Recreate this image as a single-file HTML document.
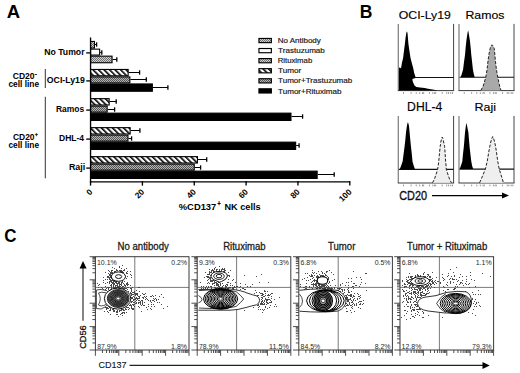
<!DOCTYPE html>
<html><head><meta charset="utf-8"><style>
html,body{margin:0;padding:0;background:#fff;width:520px;height:373px;overflow:hidden}
svg{display:block}
</style></head><body>
<svg width="520" height="373" viewBox="0 0 520 373"><defs>
<pattern id="hatch" patternUnits="userSpaceOnUse" width="3.9" height="3.9" patternTransform="rotate(-45)">
<rect width="3.9" height="3.9" fill="#fff"/><rect width="1.6" height="3.9" fill="#000"/></pattern>
<pattern id="dotL" patternUnits="userSpaceOnUse" width="2" height="2">
<rect width="2" height="2" fill="#d0d0d0"/><rect width="1" height="1" fill="#707070"/><rect x="1" y="1" width="1" height="1" fill="#707070"/></pattern>
<pattern id="dotD" patternUnits="userSpaceOnUse" width="2" height="2">
<rect width="2" height="2" fill="#b4b4b4"/><rect width="1" height="1" fill="#555"/><rect x="1" y="1" width="1" height="1" fill="#555"/></pattern>
</defs>
<text x="6.84" y="18.10" font-family="Liberation Sans" font-size="18.75" font-weight="bold" fill="#000" textLength="13.35" lengthAdjust="spacingAndGlyphs" >A</text>
<line x1="95.00" y1="44.50" x2="96.60" y2="44.50" stroke="#000" stroke-width="1.0" />
<line x1="96.60" y1="42.30" x2="96.60" y2="46.70" stroke="#000" stroke-width="1.3" />
<rect x="90.55" y="41.45" width="3.90" height="6.60" fill="url(#dotL)" stroke="#000" stroke-width="1.1" />
<line x1="100.20" y1="52.50" x2="101.80" y2="52.50" stroke="#000" stroke-width="1.0" />
<line x1="101.80" y1="50.30" x2="101.80" y2="54.70" stroke="#000" stroke-width="1.3" />
<rect x="90.55" y="49.15" width="9.10" height="5.90" fill="#fff" stroke="#000" stroke-width="1.1" />
<line x1="112.60" y1="59.50" x2="116.80" y2="59.50" stroke="#000" stroke-width="1.0" />
<line x1="116.80" y1="57.30" x2="116.80" y2="61.70" stroke="#000" stroke-width="1.3" />
<rect x="90.55" y="56.15" width="21.50" height="6.60" fill="url(#dotL)" stroke="#000" stroke-width="1.1" />
<line x1="128.70" y1="72.50" x2="139.60" y2="72.50" stroke="#000" stroke-width="1.0" />
<line x1="139.60" y1="70.30" x2="139.60" y2="74.70" stroke="#000" stroke-width="1.3" />
<rect x="90.55" y="69.45" width="37.60" height="6.35" fill="url(#hatch)" stroke="#000" stroke-width="1.1" />
<line x1="130.40" y1="79.50" x2="146.30" y2="79.50" stroke="#000" stroke-width="1.0" />
<line x1="146.30" y1="77.30" x2="146.30" y2="81.70" stroke="#000" stroke-width="1.3" />
<rect x="90.55" y="76.90" width="39.30" height="6.05" fill="url(#dotD)" stroke="#000" stroke-width="1.1" />
<line x1="152.90" y1="87.50" x2="167.90" y2="87.50" stroke="#000" stroke-width="1.0" />
<line x1="167.90" y1="85.30" x2="167.90" y2="89.70" stroke="#000" stroke-width="1.3" />
<rect x="90.55" y="83.95" width="61.80" height="7.30" fill="#000" stroke="#000" stroke-width="1.1" />
<line x1="109.70" y1="101.50" x2="116.20" y2="101.50" stroke="#000" stroke-width="1.0" />
<line x1="116.20" y1="99.30" x2="116.20" y2="103.70" stroke="#000" stroke-width="1.3" />
<rect x="90.55" y="98.65" width="18.60" height="6.35" fill="url(#hatch)" stroke="#000" stroke-width="1.1" />
<line x1="107.70" y1="109.50" x2="114.60" y2="109.50" stroke="#000" stroke-width="1.0" />
<line x1="114.60" y1="107.30" x2="114.60" y2="111.70" stroke="#000" stroke-width="1.3" />
<rect x="90.55" y="106.10" width="16.60" height="6.05" fill="url(#dotD)" stroke="#000" stroke-width="1.1" />
<line x1="291.50" y1="116.50" x2="302.60" y2="116.50" stroke="#000" stroke-width="1.0" />
<line x1="302.60" y1="114.30" x2="302.60" y2="118.70" stroke="#000" stroke-width="1.3" />
<rect x="90.55" y="113.15" width="200.40" height="7.30" fill="#000" stroke="#000" stroke-width="1.1" />
<line x1="130.70" y1="130.50" x2="139.90" y2="130.50" stroke="#000" stroke-width="1.0" />
<line x1="139.90" y1="128.30" x2="139.90" y2="132.70" stroke="#000" stroke-width="1.3" />
<rect x="90.55" y="127.65" width="39.60" height="6.35" fill="url(#hatch)" stroke="#000" stroke-width="1.1" />
<line x1="128.50" y1="138.50" x2="131.60" y2="138.50" stroke="#000" stroke-width="1.0" />
<line x1="131.60" y1="136.30" x2="131.60" y2="140.70" stroke="#000" stroke-width="1.3" />
<rect x="90.55" y="135.10" width="37.40" height="6.05" fill="url(#dotD)" stroke="#000" stroke-width="1.1" />
<line x1="296.20" y1="145.50" x2="299.10" y2="145.50" stroke="#000" stroke-width="1.0" />
<line x1="299.10" y1="143.30" x2="299.10" y2="147.70" stroke="#000" stroke-width="1.3" />
<rect x="90.55" y="142.15" width="205.10" height="7.30" fill="#000" stroke="#000" stroke-width="1.1" />
<line x1="198.00" y1="159.50" x2="206.70" y2="159.50" stroke="#000" stroke-width="1.0" />
<line x1="206.70" y1="157.30" x2="206.70" y2="161.70" stroke="#000" stroke-width="1.3" />
<rect x="90.55" y="156.65" width="106.90" height="6.35" fill="url(#hatch)" stroke="#000" stroke-width="1.1" />
<line x1="194.80" y1="167.50" x2="200.60" y2="167.50" stroke="#000" stroke-width="1.0" />
<line x1="200.60" y1="165.30" x2="200.60" y2="169.70" stroke="#000" stroke-width="1.3" />
<rect x="90.55" y="164.10" width="103.70" height="6.05" fill="url(#dotD)" stroke="#000" stroke-width="1.1" />
<line x1="317.70" y1="174.50" x2="334.20" y2="174.50" stroke="#000" stroke-width="1.0" />
<line x1="334.20" y1="172.30" x2="334.20" y2="176.70" stroke="#000" stroke-width="1.3" />
<rect x="90.55" y="171.15" width="226.60" height="7.30" fill="#000" stroke="#000" stroke-width="1.1" />
<line x1="90.55" y1="37.50" x2="90.55" y2="182.60" stroke="#000" stroke-width="1.35" />
<line x1="89.95" y1="181.80" x2="349.90" y2="181.80" stroke="#000" stroke-width="1.35" />
<line x1="90.55" y1="181.00" x2="90.55" y2="185.60" stroke="#000" stroke-width="1.35" />
<line x1="142.40" y1="181.00" x2="142.40" y2="185.60" stroke="#000" stroke-width="1.35" />
<line x1="194.25" y1="181.00" x2="194.25" y2="185.60" stroke="#000" stroke-width="1.35" />
<line x1="246.10" y1="181.00" x2="246.10" y2="185.60" stroke="#000" stroke-width="1.35" />
<line x1="297.95" y1="181.00" x2="297.95" y2="185.60" stroke="#000" stroke-width="1.35" />
<line x1="349.80" y1="181.00" x2="349.80" y2="185.60" stroke="#000" stroke-width="1.35" />
<line x1="86.20" y1="52.90" x2="90.55" y2="52.90" stroke="#000" stroke-width="1.3" />
<line x1="86.20" y1="80.90" x2="90.55" y2="80.90" stroke="#000" stroke-width="1.3" />
<line x1="86.20" y1="110.10" x2="90.55" y2="110.10" stroke="#000" stroke-width="1.3" />
<line x1="86.20" y1="139.10" x2="90.55" y2="139.10" stroke="#000" stroke-width="1.3" />
<line x1="86.20" y1="168.10" x2="90.55" y2="168.10" stroke="#000" stroke-width="1.3" />
<text x="92.95" y="192.4" font-family="Liberation Sans" font-size="8.4" font-weight="bold" text-anchor="end" transform="rotate(-45 92.95 192.4)">0</text>
<text x="144.80" y="192.4" font-family="Liberation Sans" font-size="8.4" font-weight="bold" text-anchor="end" transform="rotate(-45 144.80 192.4)">20</text>
<text x="196.65" y="192.4" font-family="Liberation Sans" font-size="8.4" font-weight="bold" text-anchor="end" transform="rotate(-45 196.65 192.4)">40</text>
<text x="248.50" y="192.4" font-family="Liberation Sans" font-size="8.4" font-weight="bold" text-anchor="end" transform="rotate(-45 248.50 192.4)">60</text>
<text x="300.35" y="192.4" font-family="Liberation Sans" font-size="8.4" font-weight="bold" text-anchor="end" transform="rotate(-45 300.35 192.4)">80</text>
<text x="352.20" y="192.4" font-family="Liberation Sans" font-size="8.4" font-weight="bold" text-anchor="end" transform="rotate(-45 352.20 192.4)">100</text>
<text x="44.23" y="55.40" font-family="Liberation Sans" font-size="8.87" font-weight="bold" fill="#000" textLength="40.30" lengthAdjust="spacingAndGlyphs" >No Tumor</text>
<text x="46.85" y="83.30" font-family="Liberation Sans" font-size="8.72" font-weight="bold" fill="#000" textLength="37.87" lengthAdjust="spacingAndGlyphs" >OCI-Ly19</text>
<text x="55.93" y="112.30" font-family="Liberation Sans" font-size="8.72" font-weight="bold" fill="#000" textLength="28.21" lengthAdjust="spacingAndGlyphs" >Ramos</text>
<text x="59.03" y="141.20" font-family="Liberation Sans" font-size="8.72" font-weight="bold" fill="#000" textLength="25.01" lengthAdjust="spacingAndGlyphs" >DHL-4</text>
<text x="68.90" y="170.30" font-family="Liberation Sans" font-size="8.43" font-weight="bold" fill="#000" textLength="16.33" lengthAdjust="spacingAndGlyphs" >Raji</text>
<text x="12.75" y="78.80" font-family="Liberation Sans" font-size="8.43" font-weight="bold" fill="#000" textLength="21.80" lengthAdjust="spacingAndGlyphs" >CD20</text>
<text x="34.59" y="75.50" font-family="Liberation Sans" font-size="7.50" font-weight="bold" fill="#000" textLength="2.62" lengthAdjust="spacingAndGlyphs" >-</text>
<text x="8.47" y="86.50" font-family="Liberation Sans" font-size="8.60" font-weight="bold" fill="#000" textLength="30.61" lengthAdjust="spacingAndGlyphs" >cell line</text>
<text x="12.95" y="140.20" font-family="Liberation Sans" font-size="8.14" font-weight="bold" fill="#000" textLength="21.59" lengthAdjust="spacingAndGlyphs" >CD20</text>
<text x="35.10" y="136.05" font-family="Liberation Sans" font-size="5.70" font-weight="bold" fill="#000" textLength="2.79" lengthAdjust="spacingAndGlyphs" stroke="#000" stroke-width="0.3">+</text>
<text x="8.47" y="148.10" font-family="Liberation Sans" font-size="8.60" font-weight="bold" fill="#000" textLength="30.61" lengthAdjust="spacingAndGlyphs" >cell line</text>
<line x1="45.30" y1="69.00" x2="45.30" y2="88.00" stroke="#333" stroke-width="1.0" />
<line x1="45.30" y1="96.80" x2="45.30" y2="178.30" stroke="#333" stroke-width="1.0" />
<text x="178.77" y="210.40" font-family="Liberation Sans" font-size="9.01" font-weight="bold" fill="#000" textLength="37.55" lengthAdjust="spacingAndGlyphs" >%CD137</text>
<text x="217.58" y="206.10" font-family="Liberation Sans" font-size="6.50" font-weight="bold" fill="#000" textLength="3.03" lengthAdjust="spacingAndGlyphs" stroke="#000" stroke-width="0.3">+</text>
<text x="224.49" y="210.40" font-family="Liberation Sans" font-size="9.01" font-weight="bold" fill="#000" textLength="36.09" lengthAdjust="spacingAndGlyphs" >NK cells</text>
<rect x="258.95" y="38.45" width="12.40" height="4.20" fill="url(#dotL)" stroke="#000" stroke-width="1.15" />
<text x="277.65" y="43.20" font-family="Liberation Sans" font-size="7.27" font-weight="normal" fill="#1a1a1a" textLength="43.17" lengthAdjust="spacingAndGlyphs" stroke="#1a1a1a" stroke-width="0.18">No Antibody</text>
<rect x="258.95" y="48.52" width="12.40" height="4.20" fill="#fff" stroke="#000" stroke-width="1.15" />
<text x="278.12" y="53.27" font-family="Liberation Sans" font-size="7.27" font-weight="normal" fill="#1a1a1a" textLength="46.72" lengthAdjust="spacingAndGlyphs" stroke="#1a1a1a" stroke-width="0.18">Trastuzumab</text>
<rect x="258.95" y="58.59" width="12.40" height="4.20" fill="url(#dotL)" stroke="#000" stroke-width="1.15" />
<text x="277.66" y="63.34" font-family="Liberation Sans" font-size="7.27" font-weight="normal" fill="#1a1a1a" textLength="34.56" lengthAdjust="spacingAndGlyphs" stroke="#1a1a1a" stroke-width="0.18">Rituximab</text>
<rect x="258.95" y="68.66" width="12.40" height="4.20" fill="url(#hatch)" stroke="#000" stroke-width="1.15" />
<text x="278.12" y="73.41" font-family="Liberation Sans" font-size="7.27" font-weight="normal" fill="#1a1a1a" textLength="23.21" lengthAdjust="spacingAndGlyphs" stroke="#1a1a1a" stroke-width="0.18">Tumor</text>
<rect x="258.95" y="78.73" width="12.40" height="4.20" fill="url(#dotD)" stroke="#000" stroke-width="1.15" />
<text x="278.12" y="83.48" font-family="Liberation Sans" font-size="7.27" font-weight="normal" fill="#1a1a1a" textLength="74.11" lengthAdjust="spacingAndGlyphs" stroke="#1a1a1a" stroke-width="0.18">Tumor+Trastuzumab</text>
<rect x="258.95" y="88.80" width="12.40" height="4.20" fill="#000" stroke="#000" stroke-width="1.15" />
<text x="278.12" y="93.55" font-family="Liberation Sans" font-size="7.27" font-weight="normal" fill="#1a1a1a" textLength="63.42" lengthAdjust="spacingAndGlyphs" stroke="#1a1a1a" stroke-width="0.18">Tumor+Rituximab</text>
<text x="359.73" y="17.90" font-family="Liberation Sans" font-size="17.88" font-weight="bold" fill="#000" textLength="12.67" lengthAdjust="spacingAndGlyphs" >B</text>
<text x="398.83" y="18.70" font-family="Liberation Sans" font-size="11.48" font-weight="normal" fill="#000" textLength="51.95" lengthAdjust="spacingAndGlyphs" stroke="#000" stroke-width="0.15">OCI-Ly19</text>
<text x="465.49" y="18.80" font-family="Liberation Sans" font-size="11.34" font-weight="normal" fill="#000" textLength="38.95" lengthAdjust="spacingAndGlyphs" stroke="#000" stroke-width="0.15">Ramos</text>
<text x="407.10" y="110.70" font-family="Liberation Sans" font-size="12.06" font-weight="normal" fill="#000" textLength="35.15" lengthAdjust="spacingAndGlyphs" stroke="#000" stroke-width="0.15">DHL-4</text>
<text x="474.48" y="110.60" font-family="Liberation Sans" font-size="11.19" font-weight="normal" fill="#000" textLength="21.46" lengthAdjust="spacingAndGlyphs" stroke="#000" stroke-width="0.15">Raji</text>
<line x1="398.30" y1="23.90" x2="398.30" y2="90.60" stroke="#858585" stroke-width="1.3" />
<line x1="453.60" y1="23.90" x2="453.60" y2="90.60" stroke="#444" stroke-width="1.0" />
<line x1="397.80" y1="90.60" x2="454.10" y2="90.60" stroke="#3a3a3a" stroke-width="1.0" />
<rect x="403.10" y="92.20" width="0.90" height="1.70" fill="#888" stroke="none" stroke-width="0" />
<rect x="410.62" y="92.20" width="0.90" height="1.70" fill="#888" stroke="none" stroke-width="0" />
<rect x="415.76" y="92.20" width="0.90" height="1.70" fill="#888" stroke="none" stroke-width="0" />
<rect x="419.25" y="92.20" width="0.90" height="1.70" fill="#888" stroke="none" stroke-width="0" />
<rect x="422.01" y="92.20" width="0.90" height="1.70" fill="#888" stroke="none" stroke-width="0" />
<rect x="423.23" y="92.20" width="0.90" height="1.70" fill="#888" stroke="none" stroke-width="0" />
<rect x="428.98" y="92.20" width="0.90" height="1.70" fill="#888" stroke="none" stroke-width="0" />
<rect x="432.41" y="92.20" width="0.90" height="1.70" fill="#888" stroke="none" stroke-width="0" />
<rect x="434.18" y="92.20" width="0.90" height="1.70" fill="#888" stroke="none" stroke-width="0" />
<rect x="435.28" y="92.20" width="0.90" height="1.70" fill="#888" stroke="none" stroke-width="0" />
<rect x="441.70" y="92.20" width="0.90" height="1.70" fill="#888" stroke="none" stroke-width="0" />
<rect x="446.29" y="92.20" width="0.90" height="1.70" fill="#888" stroke="none" stroke-width="0" />
<rect x="448.00" y="92.20" width="0.90" height="1.70" fill="#888" stroke="none" stroke-width="0" />
<rect x="450.32" y="92.20" width="0.90" height="1.70" fill="#888" stroke="none" stroke-width="0" />
<rect x="451.98" y="92.20" width="0.90" height="1.70" fill="#888" stroke="none" stroke-width="0" />
<line x1="459.00" y1="23.90" x2="459.00" y2="90.60" stroke="#858585" stroke-width="1.3" />
<line x1="514.00" y1="23.90" x2="514.00" y2="90.60" stroke="#444" stroke-width="1.0" />
<line x1="458.50" y1="90.60" x2="514.50" y2="90.60" stroke="#3a3a3a" stroke-width="1.0" />
<rect x="463.77" y="92.20" width="0.90" height="1.70" fill="#888" stroke="none" stroke-width="0" />
<rect x="471.25" y="92.20" width="0.90" height="1.70" fill="#888" stroke="none" stroke-width="0" />
<rect x="476.37" y="92.20" width="0.90" height="1.70" fill="#888" stroke="none" stroke-width="0" />
<rect x="479.83" y="92.20" width="0.90" height="1.70" fill="#888" stroke="none" stroke-width="0" />
<rect x="482.58" y="92.20" width="0.90" height="1.70" fill="#888" stroke="none" stroke-width="0" />
<rect x="483.79" y="92.20" width="0.90" height="1.70" fill="#888" stroke="none" stroke-width="0" />
<rect x="489.51" y="92.20" width="0.90" height="1.70" fill="#888" stroke="none" stroke-width="0" />
<rect x="492.92" y="92.20" width="0.90" height="1.70" fill="#888" stroke="none" stroke-width="0" />
<rect x="494.68" y="92.20" width="0.90" height="1.70" fill="#888" stroke="none" stroke-width="0" />
<rect x="495.78" y="92.20" width="0.90" height="1.70" fill="#888" stroke="none" stroke-width="0" />
<rect x="502.16" y="92.20" width="0.90" height="1.70" fill="#888" stroke="none" stroke-width="0" />
<rect x="506.73" y="92.20" width="0.90" height="1.70" fill="#888" stroke="none" stroke-width="0" />
<rect x="508.43" y="92.20" width="0.90" height="1.70" fill="#888" stroke="none" stroke-width="0" />
<rect x="510.74" y="92.20" width="0.90" height="1.70" fill="#888" stroke="none" stroke-width="0" />
<rect x="512.39" y="92.20" width="0.90" height="1.70" fill="#888" stroke="none" stroke-width="0" />
<line x1="398.30" y1="115.90" x2="398.30" y2="183.00" stroke="#858585" stroke-width="1.3" />
<line x1="453.60" y1="115.90" x2="453.60" y2="183.00" stroke="#444" stroke-width="1.0" />
<line x1="397.80" y1="183.00" x2="454.10" y2="183.00" stroke="#3a3a3a" stroke-width="1.0" />
<rect x="403.10" y="184.60" width="0.90" height="1.70" fill="#888" stroke="none" stroke-width="0" />
<rect x="410.62" y="184.60" width="0.90" height="1.70" fill="#888" stroke="none" stroke-width="0" />
<rect x="415.76" y="184.60" width="0.90" height="1.70" fill="#888" stroke="none" stroke-width="0" />
<rect x="419.25" y="184.60" width="0.90" height="1.70" fill="#888" stroke="none" stroke-width="0" />
<rect x="422.01" y="184.60" width="0.90" height="1.70" fill="#888" stroke="none" stroke-width="0" />
<rect x="423.23" y="184.60" width="0.90" height="1.70" fill="#888" stroke="none" stroke-width="0" />
<rect x="428.98" y="184.60" width="0.90" height="1.70" fill="#888" stroke="none" stroke-width="0" />
<rect x="432.41" y="184.60" width="0.90" height="1.70" fill="#888" stroke="none" stroke-width="0" />
<rect x="434.18" y="184.60" width="0.90" height="1.70" fill="#888" stroke="none" stroke-width="0" />
<rect x="435.28" y="184.60" width="0.90" height="1.70" fill="#888" stroke="none" stroke-width="0" />
<rect x="441.70" y="184.60" width="0.90" height="1.70" fill="#888" stroke="none" stroke-width="0" />
<rect x="446.29" y="184.60" width="0.90" height="1.70" fill="#888" stroke="none" stroke-width="0" />
<rect x="448.00" y="184.60" width="0.90" height="1.70" fill="#888" stroke="none" stroke-width="0" />
<rect x="450.32" y="184.60" width="0.90" height="1.70" fill="#888" stroke="none" stroke-width="0" />
<rect x="451.98" y="184.60" width="0.90" height="1.70" fill="#888" stroke="none" stroke-width="0" />
<line x1="459.00" y1="115.90" x2="459.00" y2="183.00" stroke="#858585" stroke-width="1.3" />
<line x1="514.00" y1="115.90" x2="514.00" y2="183.00" stroke="#444" stroke-width="1.0" />
<line x1="458.50" y1="183.00" x2="514.50" y2="183.00" stroke="#3a3a3a" stroke-width="1.0" />
<rect x="463.77" y="184.60" width="0.90" height="1.70" fill="#888" stroke="none" stroke-width="0" />
<rect x="471.25" y="184.60" width="0.90" height="1.70" fill="#888" stroke="none" stroke-width="0" />
<rect x="476.37" y="184.60" width="0.90" height="1.70" fill="#888" stroke="none" stroke-width="0" />
<rect x="479.83" y="184.60" width="0.90" height="1.70" fill="#888" stroke="none" stroke-width="0" />
<rect x="482.58" y="184.60" width="0.90" height="1.70" fill="#888" stroke="none" stroke-width="0" />
<rect x="483.79" y="184.60" width="0.90" height="1.70" fill="#888" stroke="none" stroke-width="0" />
<rect x="489.51" y="184.60" width="0.90" height="1.70" fill="#888" stroke="none" stroke-width="0" />
<rect x="492.92" y="184.60" width="0.90" height="1.70" fill="#888" stroke="none" stroke-width="0" />
<rect x="494.68" y="184.60" width="0.90" height="1.70" fill="#888" stroke="none" stroke-width="0" />
<rect x="495.78" y="184.60" width="0.90" height="1.70" fill="#888" stroke="none" stroke-width="0" />
<rect x="502.16" y="184.60" width="0.90" height="1.70" fill="#888" stroke="none" stroke-width="0" />
<rect x="506.73" y="184.60" width="0.90" height="1.70" fill="#888" stroke="none" stroke-width="0" />
<rect x="508.43" y="184.60" width="0.90" height="1.70" fill="#888" stroke="none" stroke-width="0" />
<rect x="510.74" y="184.60" width="0.90" height="1.70" fill="#888" stroke="none" stroke-width="0" />
<rect x="512.39" y="184.60" width="0.90" height="1.70" fill="#888" stroke="none" stroke-width="0" />
<line x1="414.00" y1="77.50" x2="453.60" y2="77.50" stroke="#111" stroke-width="1.1" />
<path d="M398.90,90.50 L398.90,67.80 L400.00,67.60 L401.00,68.50 L401.90,63.00 L403.10,57.90 L404.10,50.00 L404.90,43.70 L405.60,37.50 L406.30,33.00 L406.90,31.20 L407.50,33.00 L407.90,37.50 L408.40,43.70 L409.30,50.00 L410.50,57.90 L411.80,63.00 L413.30,68.50 L414.20,73.00 L415.50,77.00 L415.50,78.00 L412.40,79.00 L412.60,81.00 L413.50,83.20 L414.50,85.50 L416.30,86.90 L420.00,87.50 L424.60,88.00 L428.00,88.80 L431.00,89.30 L434.00,89.80 L436.60,90.20 L437.00,90.60 L398.90,90.60 Z" fill="#000"/>
<line x1="459.50" y1="77.30" x2="514.00" y2="77.30" stroke="#111" stroke-width="1.1" />
<path d="M460.60,77.30 L461.80,74.00 L463.10,69.50 L464.00,62.00 L465.00,55.00 L465.70,47.00 L466.40,40.50 L467.20,35.00 L467.70,32.00 L468.10,30.60 L468.50,32.00 L469.00,35.00 L469.90,40.50 L470.60,47.00 L471.30,55.00 L472.10,62.00 L472.90,69.50 L473.80,74.00 L474.70,77.30 Z" fill="#000"/>
<path d="M480.90,90.40 L483.20,86.00 L485.80,77.30 L487.00,70.00 L488.00,60.90 L489.00,54.00 L490.20,48.30 L491.20,45.50 L492.00,44.90 L492.80,45.50 L494.20,48.30 L494.80,54.00 L495.40,60.90 L496.50,70.00 L497.80,77.30 L499.60,86.00 L501.00,90.40 Z" fill="#a9a9a9"/>
<path d="M480.90,90.40 L483.20,86.00 L485.80,77.30 L487.00,70.00 L488.00,60.90 L489.00,54.00 L490.20,48.30 L491.20,45.50 L492.00,44.90 L492.80,45.50 L494.20,48.30 L494.80,54.00 L495.40,60.90 L496.50,70.00 L497.80,77.30 L499.60,86.00 L501.00,90.40" stroke="#222" stroke-width="1.0" stroke-dasharray="3 1.6" fill="none"/>
<line x1="398.80" y1="169.40" x2="453.60" y2="169.40" stroke="#111" stroke-width="1.1" />
<path d="M399.70,169.40 L401.00,166.00 L402.60,161.50 L403.60,154.00 L404.50,147.00 L405.30,140.00 L406.00,132.50 L406.90,126.00 L407.40,123.50 L407.90,122.30 L408.40,123.50 L409.00,126.00 L409.60,132.50 L410.30,140.00 L411.00,147.00 L411.80,154.00 L412.50,161.50 L413.80,166.00 L415.10,169.40 Z" fill="#000"/>
<path d="M432.50,182.80 L434.50,179.00 L436.50,173.00 L437.60,169.40 L438.30,165.00 L438.80,161.00 L439.50,153.00 L440.20,146.50 L441.00,141.00 L441.70,138.30 L442.20,137.10 L442.80,138.30 L443.40,141.00 L444.60,146.50 L445.10,153.00 L445.60,161.00 L446.00,165.00 L446.30,169.40 L447.80,174.00 L449.50,179.00 L451.40,182.80 Z" fill="#efefef"/>
<path d="M432.50,182.80 L434.50,179.00 L436.50,173.00 L437.60,169.40 L438.30,165.00 L438.80,161.00 L439.50,153.00 L440.20,146.50 L441.00,141.00 L441.70,138.30 L442.20,137.10 L442.80,138.30 L443.40,141.00 L444.60,146.50 L445.10,153.00 L445.60,161.00 L446.00,165.00 L446.30,169.40 L447.80,174.00 L449.50,179.00 L451.40,182.80" stroke="#222" stroke-width="1.0" stroke-dasharray="3 1.6" fill="none"/>
<line x1="459.50" y1="169.10" x2="514.00" y2="169.10" stroke="#111" stroke-width="1.1" />
<path d="M459.70,169.10 L460.80,166.00 L462.30,161.50 L463.00,154.00 L463.80,147.00 L464.40,140.00 L465.00,132.50 L465.70,127.00 L466.10,124.50 L466.40,123.10 L466.80,124.50 L467.30,127.00 L468.40,132.50 L469.00,140.00 L469.60,147.00 L470.40,154.00 L471.30,161.50 L472.20,166.00 L473.20,169.10 Z" fill="#000"/>
<path d="M479.60,182.80 L482.50,176.00 L485.40,169.10 L487.30,161.00 L488.60,153.00 L489.80,146.50 L491.00,141.00 L492.00,138.00 L492.70,136.60 L493.40,138.00 L494.40,141.00 L495.60,146.50 L496.60,153.00 L497.70,161.00 L499.20,169.10 L501.40,176.00 L503.50,182.80 Z" fill="#efefef"/>
<path d="M479.60,182.80 L482.50,176.00 L485.40,169.10 L487.30,161.00 L488.60,153.00 L489.80,146.50 L491.00,141.00 L492.00,138.00 L492.70,136.60 L493.40,138.00 L494.40,141.00 L495.60,146.50 L496.60,153.00 L497.70,161.00 L499.20,169.10 L501.40,176.00 L503.50,182.80" stroke="#222" stroke-width="1.0" stroke-dasharray="3 1.6" fill="none"/>
<text x="399.25" y="199.70" font-family="Liberation Sans" font-size="12.50" font-weight="normal" fill="#111" textLength="27.88" lengthAdjust="spacingAndGlyphs" stroke="#111" stroke-width="0.35">CD20</text>
<line x1="432.00" y1="195.50" x2="503.00" y2="195.50" stroke="#000" stroke-width="1.25" />
<path d="M502,192.6 L509,195.5 L502,198.4 Z" fill="#000"/>
<text x="4.30" y="242.10" font-family="Liberation Sans" font-size="19.04" font-weight="bold" fill="#000" textLength="12.26" lengthAdjust="spacingAndGlyphs" >C</text>
<text x="117.51" y="250.10" font-family="Liberation Sans" font-size="10.03" font-weight="normal" fill="#1a1a1a" textLength="51.31" lengthAdjust="spacingAndGlyphs" stroke="#1a1a1a" stroke-width="0.28">No antibody</text>
<line x1="134.80" y1="256.70" x2="134.80" y2="350.00" stroke="#7a7a7a" stroke-width="1.0" />
<line x1="95.40" y1="287.40" x2="189.00" y2="287.40" stroke="#7a7a7a" stroke-width="1.0" />
<line x1="95.40" y1="350.00" x2="95.40" y2="355.80" stroke="#222" stroke-width="0.8" />
<line x1="89.60" y1="350.00" x2="95.40" y2="350.00" stroke="#222" stroke-width="0.8" />
<line x1="102.44" y1="350.00" x2="102.44" y2="353.00" stroke="#222" stroke-width="0.8" />
<line x1="92.40" y1="342.96" x2="95.40" y2="342.96" stroke="#222" stroke-width="0.8" />
<line x1="106.56" y1="350.00" x2="106.56" y2="353.00" stroke="#222" stroke-width="0.8" />
<line x1="92.40" y1="338.84" x2="95.40" y2="338.84" stroke="#222" stroke-width="0.8" />
<line x1="109.49" y1="350.00" x2="109.49" y2="353.00" stroke="#222" stroke-width="0.8" />
<line x1="92.40" y1="335.91" x2="95.40" y2="335.91" stroke="#222" stroke-width="0.8" />
<line x1="111.76" y1="350.00" x2="111.76" y2="353.00" stroke="#222" stroke-width="0.8" />
<line x1="92.40" y1="333.64" x2="95.40" y2="333.64" stroke="#222" stroke-width="0.8" />
<line x1="113.61" y1="350.00" x2="113.61" y2="353.00" stroke="#222" stroke-width="0.8" />
<line x1="92.40" y1="331.79" x2="95.40" y2="331.79" stroke="#222" stroke-width="0.8" />
<line x1="115.18" y1="350.00" x2="115.18" y2="353.00" stroke="#222" stroke-width="0.8" />
<line x1="92.40" y1="330.22" x2="95.40" y2="330.22" stroke="#222" stroke-width="0.8" />
<line x1="116.53" y1="350.00" x2="116.53" y2="353.00" stroke="#222" stroke-width="0.8" />
<line x1="92.40" y1="328.87" x2="95.40" y2="328.87" stroke="#222" stroke-width="0.8" />
<line x1="117.73" y1="350.00" x2="117.73" y2="353.00" stroke="#222" stroke-width="0.8" />
<line x1="92.40" y1="327.67" x2="95.40" y2="327.67" stroke="#222" stroke-width="0.8" />
<line x1="118.80" y1="350.00" x2="118.80" y2="355.80" stroke="#222" stroke-width="0.8" />
<line x1="89.60" y1="326.60" x2="95.40" y2="326.60" stroke="#222" stroke-width="0.8" />
<line x1="125.84" y1="350.00" x2="125.84" y2="353.00" stroke="#222" stroke-width="0.8" />
<line x1="92.40" y1="319.56" x2="95.40" y2="319.56" stroke="#222" stroke-width="0.8" />
<line x1="129.96" y1="350.00" x2="129.96" y2="353.00" stroke="#222" stroke-width="0.8" />
<line x1="92.40" y1="315.44" x2="95.40" y2="315.44" stroke="#222" stroke-width="0.8" />
<line x1="132.89" y1="350.00" x2="132.89" y2="353.00" stroke="#222" stroke-width="0.8" />
<line x1="92.40" y1="312.51" x2="95.40" y2="312.51" stroke="#222" stroke-width="0.8" />
<line x1="135.16" y1="350.00" x2="135.16" y2="353.00" stroke="#222" stroke-width="0.8" />
<line x1="92.40" y1="310.24" x2="95.40" y2="310.24" stroke="#222" stroke-width="0.8" />
<line x1="137.01" y1="350.00" x2="137.01" y2="353.00" stroke="#222" stroke-width="0.8" />
<line x1="92.40" y1="308.39" x2="95.40" y2="308.39" stroke="#222" stroke-width="0.8" />
<line x1="138.58" y1="350.00" x2="138.58" y2="353.00" stroke="#222" stroke-width="0.8" />
<line x1="92.40" y1="306.82" x2="95.40" y2="306.82" stroke="#222" stroke-width="0.8" />
<line x1="139.93" y1="350.00" x2="139.93" y2="353.00" stroke="#222" stroke-width="0.8" />
<line x1="92.40" y1="305.47" x2="95.40" y2="305.47" stroke="#222" stroke-width="0.8" />
<line x1="141.13" y1="350.00" x2="141.13" y2="353.00" stroke="#222" stroke-width="0.8" />
<line x1="92.40" y1="304.27" x2="95.40" y2="304.27" stroke="#222" stroke-width="0.8" />
<line x1="142.20" y1="350.00" x2="142.20" y2="355.80" stroke="#222" stroke-width="0.8" />
<line x1="89.60" y1="303.20" x2="95.40" y2="303.20" stroke="#222" stroke-width="0.8" />
<line x1="149.24" y1="350.00" x2="149.24" y2="353.00" stroke="#222" stroke-width="0.8" />
<line x1="92.40" y1="296.16" x2="95.40" y2="296.16" stroke="#222" stroke-width="0.8" />
<line x1="153.36" y1="350.00" x2="153.36" y2="353.00" stroke="#222" stroke-width="0.8" />
<line x1="92.40" y1="292.04" x2="95.40" y2="292.04" stroke="#222" stroke-width="0.8" />
<line x1="156.29" y1="350.00" x2="156.29" y2="353.00" stroke="#222" stroke-width="0.8" />
<line x1="92.40" y1="289.11" x2="95.40" y2="289.11" stroke="#222" stroke-width="0.8" />
<line x1="158.56" y1="350.00" x2="158.56" y2="353.00" stroke="#222" stroke-width="0.8" />
<line x1="92.40" y1="286.84" x2="95.40" y2="286.84" stroke="#222" stroke-width="0.8" />
<line x1="160.41" y1="350.00" x2="160.41" y2="353.00" stroke="#222" stroke-width="0.8" />
<line x1="92.40" y1="284.99" x2="95.40" y2="284.99" stroke="#222" stroke-width="0.8" />
<line x1="161.98" y1="350.00" x2="161.98" y2="353.00" stroke="#222" stroke-width="0.8" />
<line x1="92.40" y1="283.42" x2="95.40" y2="283.42" stroke="#222" stroke-width="0.8" />
<line x1="163.33" y1="350.00" x2="163.33" y2="353.00" stroke="#222" stroke-width="0.8" />
<line x1="92.40" y1="282.07" x2="95.40" y2="282.07" stroke="#222" stroke-width="0.8" />
<line x1="164.53" y1="350.00" x2="164.53" y2="353.00" stroke="#222" stroke-width="0.8" />
<line x1="92.40" y1="280.87" x2="95.40" y2="280.87" stroke="#222" stroke-width="0.8" />
<line x1="165.60" y1="350.00" x2="165.60" y2="355.80" stroke="#222" stroke-width="0.8" />
<line x1="89.60" y1="279.80" x2="95.40" y2="279.80" stroke="#222" stroke-width="0.8" />
<line x1="172.64" y1="350.00" x2="172.64" y2="353.00" stroke="#222" stroke-width="0.8" />
<line x1="92.40" y1="272.76" x2="95.40" y2="272.76" stroke="#222" stroke-width="0.8" />
<line x1="176.76" y1="350.00" x2="176.76" y2="353.00" stroke="#222" stroke-width="0.8" />
<line x1="92.40" y1="268.64" x2="95.40" y2="268.64" stroke="#222" stroke-width="0.8" />
<line x1="179.69" y1="350.00" x2="179.69" y2="353.00" stroke="#222" stroke-width="0.8" />
<line x1="92.40" y1="265.71" x2="95.40" y2="265.71" stroke="#222" stroke-width="0.8" />
<line x1="181.96" y1="350.00" x2="181.96" y2="353.00" stroke="#222" stroke-width="0.8" />
<line x1="92.40" y1="263.44" x2="95.40" y2="263.44" stroke="#222" stroke-width="0.8" />
<line x1="183.81" y1="350.00" x2="183.81" y2="353.00" stroke="#222" stroke-width="0.8" />
<line x1="92.40" y1="261.59" x2="95.40" y2="261.59" stroke="#222" stroke-width="0.8" />
<line x1="185.38" y1="350.00" x2="185.38" y2="353.00" stroke="#222" stroke-width="0.8" />
<line x1="92.40" y1="260.02" x2="95.40" y2="260.02" stroke="#222" stroke-width="0.8" />
<line x1="186.73" y1="350.00" x2="186.73" y2="353.00" stroke="#222" stroke-width="0.8" />
<line x1="92.40" y1="258.67" x2="95.40" y2="258.67" stroke="#222" stroke-width="0.8" />
<line x1="187.93" y1="350.00" x2="187.93" y2="353.00" stroke="#222" stroke-width="0.8" />
<line x1="92.40" y1="257.47" x2="95.40" y2="257.47" stroke="#222" stroke-width="0.8" />
<line x1="189.00" y1="350.00" x2="189.00" y2="355.80" stroke="#222" stroke-width="0.8" />
<line x1="89.60" y1="256.70" x2="95.40" y2="256.70" stroke="#222" stroke-width="0.8" />
<text x="96.97" y="264.80" font-family="Liberation Sans" font-size="7.56" font-weight="normal" fill="#2a2a2a" textLength="19.78" lengthAdjust="spacingAndGlyphs" >10.1%</text>
<text x="171.33" y="264.80" font-family="Liberation Sans" font-size="7.56" font-weight="normal" fill="#2a2a2a" textLength="15.72" lengthAdjust="spacingAndGlyphs" >0.2%</text>
<text x="97.20" y="348.70" font-family="Liberation Sans" font-size="7.56" font-weight="normal" fill="#2a2a2a" textLength="19.55" lengthAdjust="spacingAndGlyphs" >87.9%</text>
<text x="171.07" y="348.70" font-family="Liberation Sans" font-size="7.56" font-weight="normal" fill="#2a2a2a" textLength="15.98" lengthAdjust="spacingAndGlyphs" >1.8%</text>
<text x="223.22" y="250.10" font-family="Liberation Sans" font-size="10.03" font-weight="normal" fill="#1a1a1a" textLength="42.38" lengthAdjust="spacingAndGlyphs" stroke="#1a1a1a" stroke-width="0.28">Rituximab</text>
<line x1="236.60" y1="256.70" x2="236.60" y2="350.00" stroke="#7a7a7a" stroke-width="1.0" />
<line x1="197.20" y1="287.40" x2="290.80" y2="287.40" stroke="#7a7a7a" stroke-width="1.0" />
<line x1="197.20" y1="350.00" x2="197.20" y2="355.80" stroke="#222" stroke-width="0.8" />
<line x1="191.40" y1="350.00" x2="197.20" y2="350.00" stroke="#222" stroke-width="0.8" />
<line x1="204.24" y1="350.00" x2="204.24" y2="353.00" stroke="#222" stroke-width="0.8" />
<line x1="194.20" y1="342.96" x2="197.20" y2="342.96" stroke="#222" stroke-width="0.8" />
<line x1="208.36" y1="350.00" x2="208.36" y2="353.00" stroke="#222" stroke-width="0.8" />
<line x1="194.20" y1="338.84" x2="197.20" y2="338.84" stroke="#222" stroke-width="0.8" />
<line x1="211.29" y1="350.00" x2="211.29" y2="353.00" stroke="#222" stroke-width="0.8" />
<line x1="194.20" y1="335.91" x2="197.20" y2="335.91" stroke="#222" stroke-width="0.8" />
<line x1="213.56" y1="350.00" x2="213.56" y2="353.00" stroke="#222" stroke-width="0.8" />
<line x1="194.20" y1="333.64" x2="197.20" y2="333.64" stroke="#222" stroke-width="0.8" />
<line x1="215.41" y1="350.00" x2="215.41" y2="353.00" stroke="#222" stroke-width="0.8" />
<line x1="194.20" y1="331.79" x2="197.20" y2="331.79" stroke="#222" stroke-width="0.8" />
<line x1="216.98" y1="350.00" x2="216.98" y2="353.00" stroke="#222" stroke-width="0.8" />
<line x1="194.20" y1="330.22" x2="197.20" y2="330.22" stroke="#222" stroke-width="0.8" />
<line x1="218.33" y1="350.00" x2="218.33" y2="353.00" stroke="#222" stroke-width="0.8" />
<line x1="194.20" y1="328.87" x2="197.20" y2="328.87" stroke="#222" stroke-width="0.8" />
<line x1="219.53" y1="350.00" x2="219.53" y2="353.00" stroke="#222" stroke-width="0.8" />
<line x1="194.20" y1="327.67" x2="197.20" y2="327.67" stroke="#222" stroke-width="0.8" />
<line x1="220.60" y1="350.00" x2="220.60" y2="355.80" stroke="#222" stroke-width="0.8" />
<line x1="191.40" y1="326.60" x2="197.20" y2="326.60" stroke="#222" stroke-width="0.8" />
<line x1="227.64" y1="350.00" x2="227.64" y2="353.00" stroke="#222" stroke-width="0.8" />
<line x1="194.20" y1="319.56" x2="197.20" y2="319.56" stroke="#222" stroke-width="0.8" />
<line x1="231.76" y1="350.00" x2="231.76" y2="353.00" stroke="#222" stroke-width="0.8" />
<line x1="194.20" y1="315.44" x2="197.20" y2="315.44" stroke="#222" stroke-width="0.8" />
<line x1="234.69" y1="350.00" x2="234.69" y2="353.00" stroke="#222" stroke-width="0.8" />
<line x1="194.20" y1="312.51" x2="197.20" y2="312.51" stroke="#222" stroke-width="0.8" />
<line x1="236.96" y1="350.00" x2="236.96" y2="353.00" stroke="#222" stroke-width="0.8" />
<line x1="194.20" y1="310.24" x2="197.20" y2="310.24" stroke="#222" stroke-width="0.8" />
<line x1="238.81" y1="350.00" x2="238.81" y2="353.00" stroke="#222" stroke-width="0.8" />
<line x1="194.20" y1="308.39" x2="197.20" y2="308.39" stroke="#222" stroke-width="0.8" />
<line x1="240.38" y1="350.00" x2="240.38" y2="353.00" stroke="#222" stroke-width="0.8" />
<line x1="194.20" y1="306.82" x2="197.20" y2="306.82" stroke="#222" stroke-width="0.8" />
<line x1="241.73" y1="350.00" x2="241.73" y2="353.00" stroke="#222" stroke-width="0.8" />
<line x1="194.20" y1="305.47" x2="197.20" y2="305.47" stroke="#222" stroke-width="0.8" />
<line x1="242.93" y1="350.00" x2="242.93" y2="353.00" stroke="#222" stroke-width="0.8" />
<line x1="194.20" y1="304.27" x2="197.20" y2="304.27" stroke="#222" stroke-width="0.8" />
<line x1="244.00" y1="350.00" x2="244.00" y2="355.80" stroke="#222" stroke-width="0.8" />
<line x1="191.40" y1="303.20" x2="197.20" y2="303.20" stroke="#222" stroke-width="0.8" />
<line x1="251.04" y1="350.00" x2="251.04" y2="353.00" stroke="#222" stroke-width="0.8" />
<line x1="194.20" y1="296.16" x2="197.20" y2="296.16" stroke="#222" stroke-width="0.8" />
<line x1="255.16" y1="350.00" x2="255.16" y2="353.00" stroke="#222" stroke-width="0.8" />
<line x1="194.20" y1="292.04" x2="197.20" y2="292.04" stroke="#222" stroke-width="0.8" />
<line x1="258.09" y1="350.00" x2="258.09" y2="353.00" stroke="#222" stroke-width="0.8" />
<line x1="194.20" y1="289.11" x2="197.20" y2="289.11" stroke="#222" stroke-width="0.8" />
<line x1="260.36" y1="350.00" x2="260.36" y2="353.00" stroke="#222" stroke-width="0.8" />
<line x1="194.20" y1="286.84" x2="197.20" y2="286.84" stroke="#222" stroke-width="0.8" />
<line x1="262.21" y1="350.00" x2="262.21" y2="353.00" stroke="#222" stroke-width="0.8" />
<line x1="194.20" y1="284.99" x2="197.20" y2="284.99" stroke="#222" stroke-width="0.8" />
<line x1="263.78" y1="350.00" x2="263.78" y2="353.00" stroke="#222" stroke-width="0.8" />
<line x1="194.20" y1="283.42" x2="197.20" y2="283.42" stroke="#222" stroke-width="0.8" />
<line x1="265.13" y1="350.00" x2="265.13" y2="353.00" stroke="#222" stroke-width="0.8" />
<line x1="194.20" y1="282.07" x2="197.20" y2="282.07" stroke="#222" stroke-width="0.8" />
<line x1="266.33" y1="350.00" x2="266.33" y2="353.00" stroke="#222" stroke-width="0.8" />
<line x1="194.20" y1="280.87" x2="197.20" y2="280.87" stroke="#222" stroke-width="0.8" />
<line x1="267.40" y1="350.00" x2="267.40" y2="355.80" stroke="#222" stroke-width="0.8" />
<line x1="191.40" y1="279.80" x2="197.20" y2="279.80" stroke="#222" stroke-width="0.8" />
<line x1="274.44" y1="350.00" x2="274.44" y2="353.00" stroke="#222" stroke-width="0.8" />
<line x1="194.20" y1="272.76" x2="197.20" y2="272.76" stroke="#222" stroke-width="0.8" />
<line x1="278.56" y1="350.00" x2="278.56" y2="353.00" stroke="#222" stroke-width="0.8" />
<line x1="194.20" y1="268.64" x2="197.20" y2="268.64" stroke="#222" stroke-width="0.8" />
<line x1="281.49" y1="350.00" x2="281.49" y2="353.00" stroke="#222" stroke-width="0.8" />
<line x1="194.20" y1="265.71" x2="197.20" y2="265.71" stroke="#222" stroke-width="0.8" />
<line x1="283.76" y1="350.00" x2="283.76" y2="353.00" stroke="#222" stroke-width="0.8" />
<line x1="194.20" y1="263.44" x2="197.20" y2="263.44" stroke="#222" stroke-width="0.8" />
<line x1="285.61" y1="350.00" x2="285.61" y2="353.00" stroke="#222" stroke-width="0.8" />
<line x1="194.20" y1="261.59" x2="197.20" y2="261.59" stroke="#222" stroke-width="0.8" />
<line x1="287.18" y1="350.00" x2="287.18" y2="353.00" stroke="#222" stroke-width="0.8" />
<line x1="194.20" y1="260.02" x2="197.20" y2="260.02" stroke="#222" stroke-width="0.8" />
<line x1="288.53" y1="350.00" x2="288.53" y2="353.00" stroke="#222" stroke-width="0.8" />
<line x1="194.20" y1="258.67" x2="197.20" y2="258.67" stroke="#222" stroke-width="0.8" />
<line x1="289.73" y1="350.00" x2="289.73" y2="353.00" stroke="#222" stroke-width="0.8" />
<line x1="194.20" y1="257.47" x2="197.20" y2="257.47" stroke="#222" stroke-width="0.8" />
<line x1="290.80" y1="350.00" x2="290.80" y2="355.80" stroke="#222" stroke-width="0.8" />
<line x1="191.40" y1="256.70" x2="197.20" y2="256.70" stroke="#222" stroke-width="0.8" />
<text x="198.98" y="264.80" font-family="Liberation Sans" font-size="7.56" font-weight="normal" fill="#2a2a2a" textLength="15.77" lengthAdjust="spacingAndGlyphs" >9.3%</text>
<text x="273.13" y="264.80" font-family="Liberation Sans" font-size="7.56" font-weight="normal" fill="#2a2a2a" textLength="15.72" lengthAdjust="spacingAndGlyphs" >0.3%</text>
<text x="198.95" y="348.70" font-family="Liberation Sans" font-size="7.56" font-weight="normal" fill="#2a2a2a" textLength="19.60" lengthAdjust="spacingAndGlyphs" >78.9%</text>
<text x="269.07" y="348.70" font-family="Liberation Sans" font-size="7.56" font-weight="normal" fill="#2a2a2a" textLength="19.78" lengthAdjust="spacingAndGlyphs" >11.5%</text>
<text x="327.99" y="250.10" font-family="Liberation Sans" font-size="10.03" font-weight="normal" fill="#1a1a1a" textLength="27.37" lengthAdjust="spacingAndGlyphs" stroke="#1a1a1a" stroke-width="0.28">Tumor</text>
<line x1="338.20" y1="256.70" x2="338.20" y2="350.00" stroke="#7a7a7a" stroke-width="1.0" />
<line x1="298.80" y1="287.40" x2="392.40" y2="287.40" stroke="#7a7a7a" stroke-width="1.0" />
<line x1="298.80" y1="350.00" x2="298.80" y2="355.80" stroke="#222" stroke-width="0.8" />
<line x1="293.00" y1="350.00" x2="298.80" y2="350.00" stroke="#222" stroke-width="0.8" />
<line x1="305.84" y1="350.00" x2="305.84" y2="353.00" stroke="#222" stroke-width="0.8" />
<line x1="295.80" y1="342.96" x2="298.80" y2="342.96" stroke="#222" stroke-width="0.8" />
<line x1="309.96" y1="350.00" x2="309.96" y2="353.00" stroke="#222" stroke-width="0.8" />
<line x1="295.80" y1="338.84" x2="298.80" y2="338.84" stroke="#222" stroke-width="0.8" />
<line x1="312.89" y1="350.00" x2="312.89" y2="353.00" stroke="#222" stroke-width="0.8" />
<line x1="295.80" y1="335.91" x2="298.80" y2="335.91" stroke="#222" stroke-width="0.8" />
<line x1="315.16" y1="350.00" x2="315.16" y2="353.00" stroke="#222" stroke-width="0.8" />
<line x1="295.80" y1="333.64" x2="298.80" y2="333.64" stroke="#222" stroke-width="0.8" />
<line x1="317.01" y1="350.00" x2="317.01" y2="353.00" stroke="#222" stroke-width="0.8" />
<line x1="295.80" y1="331.79" x2="298.80" y2="331.79" stroke="#222" stroke-width="0.8" />
<line x1="318.58" y1="350.00" x2="318.58" y2="353.00" stroke="#222" stroke-width="0.8" />
<line x1="295.80" y1="330.22" x2="298.80" y2="330.22" stroke="#222" stroke-width="0.8" />
<line x1="319.93" y1="350.00" x2="319.93" y2="353.00" stroke="#222" stroke-width="0.8" />
<line x1="295.80" y1="328.87" x2="298.80" y2="328.87" stroke="#222" stroke-width="0.8" />
<line x1="321.13" y1="350.00" x2="321.13" y2="353.00" stroke="#222" stroke-width="0.8" />
<line x1="295.80" y1="327.67" x2="298.80" y2="327.67" stroke="#222" stroke-width="0.8" />
<line x1="322.20" y1="350.00" x2="322.20" y2="355.80" stroke="#222" stroke-width="0.8" />
<line x1="293.00" y1="326.60" x2="298.80" y2="326.60" stroke="#222" stroke-width="0.8" />
<line x1="329.24" y1="350.00" x2="329.24" y2="353.00" stroke="#222" stroke-width="0.8" />
<line x1="295.80" y1="319.56" x2="298.80" y2="319.56" stroke="#222" stroke-width="0.8" />
<line x1="333.36" y1="350.00" x2="333.36" y2="353.00" stroke="#222" stroke-width="0.8" />
<line x1="295.80" y1="315.44" x2="298.80" y2="315.44" stroke="#222" stroke-width="0.8" />
<line x1="336.29" y1="350.00" x2="336.29" y2="353.00" stroke="#222" stroke-width="0.8" />
<line x1="295.80" y1="312.51" x2="298.80" y2="312.51" stroke="#222" stroke-width="0.8" />
<line x1="338.56" y1="350.00" x2="338.56" y2="353.00" stroke="#222" stroke-width="0.8" />
<line x1="295.80" y1="310.24" x2="298.80" y2="310.24" stroke="#222" stroke-width="0.8" />
<line x1="340.41" y1="350.00" x2="340.41" y2="353.00" stroke="#222" stroke-width="0.8" />
<line x1="295.80" y1="308.39" x2="298.80" y2="308.39" stroke="#222" stroke-width="0.8" />
<line x1="341.98" y1="350.00" x2="341.98" y2="353.00" stroke="#222" stroke-width="0.8" />
<line x1="295.80" y1="306.82" x2="298.80" y2="306.82" stroke="#222" stroke-width="0.8" />
<line x1="343.33" y1="350.00" x2="343.33" y2="353.00" stroke="#222" stroke-width="0.8" />
<line x1="295.80" y1="305.47" x2="298.80" y2="305.47" stroke="#222" stroke-width="0.8" />
<line x1="344.53" y1="350.00" x2="344.53" y2="353.00" stroke="#222" stroke-width="0.8" />
<line x1="295.80" y1="304.27" x2="298.80" y2="304.27" stroke="#222" stroke-width="0.8" />
<line x1="345.60" y1="350.00" x2="345.60" y2="355.80" stroke="#222" stroke-width="0.8" />
<line x1="293.00" y1="303.20" x2="298.80" y2="303.20" stroke="#222" stroke-width="0.8" />
<line x1="352.64" y1="350.00" x2="352.64" y2="353.00" stroke="#222" stroke-width="0.8" />
<line x1="295.80" y1="296.16" x2="298.80" y2="296.16" stroke="#222" stroke-width="0.8" />
<line x1="356.76" y1="350.00" x2="356.76" y2="353.00" stroke="#222" stroke-width="0.8" />
<line x1="295.80" y1="292.04" x2="298.80" y2="292.04" stroke="#222" stroke-width="0.8" />
<line x1="359.69" y1="350.00" x2="359.69" y2="353.00" stroke="#222" stroke-width="0.8" />
<line x1="295.80" y1="289.11" x2="298.80" y2="289.11" stroke="#222" stroke-width="0.8" />
<line x1="361.96" y1="350.00" x2="361.96" y2="353.00" stroke="#222" stroke-width="0.8" />
<line x1="295.80" y1="286.84" x2="298.80" y2="286.84" stroke="#222" stroke-width="0.8" />
<line x1="363.81" y1="350.00" x2="363.81" y2="353.00" stroke="#222" stroke-width="0.8" />
<line x1="295.80" y1="284.99" x2="298.80" y2="284.99" stroke="#222" stroke-width="0.8" />
<line x1="365.38" y1="350.00" x2="365.38" y2="353.00" stroke="#222" stroke-width="0.8" />
<line x1="295.80" y1="283.42" x2="298.80" y2="283.42" stroke="#222" stroke-width="0.8" />
<line x1="366.73" y1="350.00" x2="366.73" y2="353.00" stroke="#222" stroke-width="0.8" />
<line x1="295.80" y1="282.07" x2="298.80" y2="282.07" stroke="#222" stroke-width="0.8" />
<line x1="367.93" y1="350.00" x2="367.93" y2="353.00" stroke="#222" stroke-width="0.8" />
<line x1="295.80" y1="280.87" x2="298.80" y2="280.87" stroke="#222" stroke-width="0.8" />
<line x1="369.00" y1="350.00" x2="369.00" y2="355.80" stroke="#222" stroke-width="0.8" />
<line x1="293.00" y1="279.80" x2="298.80" y2="279.80" stroke="#222" stroke-width="0.8" />
<line x1="376.04" y1="350.00" x2="376.04" y2="353.00" stroke="#222" stroke-width="0.8" />
<line x1="295.80" y1="272.76" x2="298.80" y2="272.76" stroke="#222" stroke-width="0.8" />
<line x1="380.16" y1="350.00" x2="380.16" y2="353.00" stroke="#222" stroke-width="0.8" />
<line x1="295.80" y1="268.64" x2="298.80" y2="268.64" stroke="#222" stroke-width="0.8" />
<line x1="383.09" y1="350.00" x2="383.09" y2="353.00" stroke="#222" stroke-width="0.8" />
<line x1="295.80" y1="265.71" x2="298.80" y2="265.71" stroke="#222" stroke-width="0.8" />
<line x1="385.36" y1="350.00" x2="385.36" y2="353.00" stroke="#222" stroke-width="0.8" />
<line x1="295.80" y1="263.44" x2="298.80" y2="263.44" stroke="#222" stroke-width="0.8" />
<line x1="387.21" y1="350.00" x2="387.21" y2="353.00" stroke="#222" stroke-width="0.8" />
<line x1="295.80" y1="261.59" x2="298.80" y2="261.59" stroke="#222" stroke-width="0.8" />
<line x1="388.78" y1="350.00" x2="388.78" y2="353.00" stroke="#222" stroke-width="0.8" />
<line x1="295.80" y1="260.02" x2="298.80" y2="260.02" stroke="#222" stroke-width="0.8" />
<line x1="390.13" y1="350.00" x2="390.13" y2="353.00" stroke="#222" stroke-width="0.8" />
<line x1="295.80" y1="258.67" x2="298.80" y2="258.67" stroke="#222" stroke-width="0.8" />
<line x1="391.33" y1="350.00" x2="391.33" y2="353.00" stroke="#222" stroke-width="0.8" />
<line x1="295.80" y1="257.47" x2="298.80" y2="257.47" stroke="#222" stroke-width="0.8" />
<line x1="392.40" y1="350.00" x2="392.40" y2="355.80" stroke="#222" stroke-width="0.8" />
<line x1="293.00" y1="256.70" x2="298.80" y2="256.70" stroke="#222" stroke-width="0.8" />
<text x="300.55" y="264.80" font-family="Liberation Sans" font-size="7.56" font-weight="normal" fill="#2a2a2a" textLength="15.80" lengthAdjust="spacingAndGlyphs" >6.8%</text>
<text x="374.73" y="264.80" font-family="Liberation Sans" font-size="7.56" font-weight="normal" fill="#2a2a2a" textLength="15.72" lengthAdjust="spacingAndGlyphs" >0.5%</text>
<text x="300.60" y="348.70" font-family="Liberation Sans" font-size="7.56" font-weight="normal" fill="#2a2a2a" textLength="19.55" lengthAdjust="spacingAndGlyphs" >84.5%</text>
<text x="374.70" y="348.70" font-family="Liberation Sans" font-size="7.56" font-weight="normal" fill="#2a2a2a" textLength="15.75" lengthAdjust="spacingAndGlyphs" >8.2%</text>
<text x="406.99" y="250.10" font-family="Liberation Sans" font-size="10.03" font-weight="normal" fill="#1a1a1a" textLength="80.21" lengthAdjust="spacingAndGlyphs" stroke="#1a1a1a" stroke-width="0.28">Tumor + Rituximab</text>
<line x1="439.40" y1="256.70" x2="439.40" y2="350.00" stroke="#7a7a7a" stroke-width="1.0" />
<line x1="400.00" y1="287.40" x2="493.60" y2="287.40" stroke="#7a7a7a" stroke-width="1.0" />
<line x1="400.00" y1="350.00" x2="400.00" y2="355.80" stroke="#222" stroke-width="0.8" />
<line x1="394.20" y1="350.00" x2="400.00" y2="350.00" stroke="#222" stroke-width="0.8" />
<line x1="407.04" y1="350.00" x2="407.04" y2="353.00" stroke="#222" stroke-width="0.8" />
<line x1="397.00" y1="342.96" x2="400.00" y2="342.96" stroke="#222" stroke-width="0.8" />
<line x1="411.16" y1="350.00" x2="411.16" y2="353.00" stroke="#222" stroke-width="0.8" />
<line x1="397.00" y1="338.84" x2="400.00" y2="338.84" stroke="#222" stroke-width="0.8" />
<line x1="414.09" y1="350.00" x2="414.09" y2="353.00" stroke="#222" stroke-width="0.8" />
<line x1="397.00" y1="335.91" x2="400.00" y2="335.91" stroke="#222" stroke-width="0.8" />
<line x1="416.36" y1="350.00" x2="416.36" y2="353.00" stroke="#222" stroke-width="0.8" />
<line x1="397.00" y1="333.64" x2="400.00" y2="333.64" stroke="#222" stroke-width="0.8" />
<line x1="418.21" y1="350.00" x2="418.21" y2="353.00" stroke="#222" stroke-width="0.8" />
<line x1="397.00" y1="331.79" x2="400.00" y2="331.79" stroke="#222" stroke-width="0.8" />
<line x1="419.78" y1="350.00" x2="419.78" y2="353.00" stroke="#222" stroke-width="0.8" />
<line x1="397.00" y1="330.22" x2="400.00" y2="330.22" stroke="#222" stroke-width="0.8" />
<line x1="421.13" y1="350.00" x2="421.13" y2="353.00" stroke="#222" stroke-width="0.8" />
<line x1="397.00" y1="328.87" x2="400.00" y2="328.87" stroke="#222" stroke-width="0.8" />
<line x1="422.33" y1="350.00" x2="422.33" y2="353.00" stroke="#222" stroke-width="0.8" />
<line x1="397.00" y1="327.67" x2="400.00" y2="327.67" stroke="#222" stroke-width="0.8" />
<line x1="423.40" y1="350.00" x2="423.40" y2="355.80" stroke="#222" stroke-width="0.8" />
<line x1="394.20" y1="326.60" x2="400.00" y2="326.60" stroke="#222" stroke-width="0.8" />
<line x1="430.44" y1="350.00" x2="430.44" y2="353.00" stroke="#222" stroke-width="0.8" />
<line x1="397.00" y1="319.56" x2="400.00" y2="319.56" stroke="#222" stroke-width="0.8" />
<line x1="434.56" y1="350.00" x2="434.56" y2="353.00" stroke="#222" stroke-width="0.8" />
<line x1="397.00" y1="315.44" x2="400.00" y2="315.44" stroke="#222" stroke-width="0.8" />
<line x1="437.49" y1="350.00" x2="437.49" y2="353.00" stroke="#222" stroke-width="0.8" />
<line x1="397.00" y1="312.51" x2="400.00" y2="312.51" stroke="#222" stroke-width="0.8" />
<line x1="439.76" y1="350.00" x2="439.76" y2="353.00" stroke="#222" stroke-width="0.8" />
<line x1="397.00" y1="310.24" x2="400.00" y2="310.24" stroke="#222" stroke-width="0.8" />
<line x1="441.61" y1="350.00" x2="441.61" y2="353.00" stroke="#222" stroke-width="0.8" />
<line x1="397.00" y1="308.39" x2="400.00" y2="308.39" stroke="#222" stroke-width="0.8" />
<line x1="443.18" y1="350.00" x2="443.18" y2="353.00" stroke="#222" stroke-width="0.8" />
<line x1="397.00" y1="306.82" x2="400.00" y2="306.82" stroke="#222" stroke-width="0.8" />
<line x1="444.53" y1="350.00" x2="444.53" y2="353.00" stroke="#222" stroke-width="0.8" />
<line x1="397.00" y1="305.47" x2="400.00" y2="305.47" stroke="#222" stroke-width="0.8" />
<line x1="445.73" y1="350.00" x2="445.73" y2="353.00" stroke="#222" stroke-width="0.8" />
<line x1="397.00" y1="304.27" x2="400.00" y2="304.27" stroke="#222" stroke-width="0.8" />
<line x1="446.80" y1="350.00" x2="446.80" y2="355.80" stroke="#222" stroke-width="0.8" />
<line x1="394.20" y1="303.20" x2="400.00" y2="303.20" stroke="#222" stroke-width="0.8" />
<line x1="453.84" y1="350.00" x2="453.84" y2="353.00" stroke="#222" stroke-width="0.8" />
<line x1="397.00" y1="296.16" x2="400.00" y2="296.16" stroke="#222" stroke-width="0.8" />
<line x1="457.96" y1="350.00" x2="457.96" y2="353.00" stroke="#222" stroke-width="0.8" />
<line x1="397.00" y1="292.04" x2="400.00" y2="292.04" stroke="#222" stroke-width="0.8" />
<line x1="460.89" y1="350.00" x2="460.89" y2="353.00" stroke="#222" stroke-width="0.8" />
<line x1="397.00" y1="289.11" x2="400.00" y2="289.11" stroke="#222" stroke-width="0.8" />
<line x1="463.16" y1="350.00" x2="463.16" y2="353.00" stroke="#222" stroke-width="0.8" />
<line x1="397.00" y1="286.84" x2="400.00" y2="286.84" stroke="#222" stroke-width="0.8" />
<line x1="465.01" y1="350.00" x2="465.01" y2="353.00" stroke="#222" stroke-width="0.8" />
<line x1="397.00" y1="284.99" x2="400.00" y2="284.99" stroke="#222" stroke-width="0.8" />
<line x1="466.58" y1="350.00" x2="466.58" y2="353.00" stroke="#222" stroke-width="0.8" />
<line x1="397.00" y1="283.42" x2="400.00" y2="283.42" stroke="#222" stroke-width="0.8" />
<line x1="467.93" y1="350.00" x2="467.93" y2="353.00" stroke="#222" stroke-width="0.8" />
<line x1="397.00" y1="282.07" x2="400.00" y2="282.07" stroke="#222" stroke-width="0.8" />
<line x1="469.13" y1="350.00" x2="469.13" y2="353.00" stroke="#222" stroke-width="0.8" />
<line x1="397.00" y1="280.87" x2="400.00" y2="280.87" stroke="#222" stroke-width="0.8" />
<line x1="470.20" y1="350.00" x2="470.20" y2="355.80" stroke="#222" stroke-width="0.8" />
<line x1="394.20" y1="279.80" x2="400.00" y2="279.80" stroke="#222" stroke-width="0.8" />
<line x1="477.24" y1="350.00" x2="477.24" y2="353.00" stroke="#222" stroke-width="0.8" />
<line x1="397.00" y1="272.76" x2="400.00" y2="272.76" stroke="#222" stroke-width="0.8" />
<line x1="481.36" y1="350.00" x2="481.36" y2="353.00" stroke="#222" stroke-width="0.8" />
<line x1="397.00" y1="268.64" x2="400.00" y2="268.64" stroke="#222" stroke-width="0.8" />
<line x1="484.29" y1="350.00" x2="484.29" y2="353.00" stroke="#222" stroke-width="0.8" />
<line x1="397.00" y1="265.71" x2="400.00" y2="265.71" stroke="#222" stroke-width="0.8" />
<line x1="486.56" y1="350.00" x2="486.56" y2="353.00" stroke="#222" stroke-width="0.8" />
<line x1="397.00" y1="263.44" x2="400.00" y2="263.44" stroke="#222" stroke-width="0.8" />
<line x1="488.41" y1="350.00" x2="488.41" y2="353.00" stroke="#222" stroke-width="0.8" />
<line x1="397.00" y1="261.59" x2="400.00" y2="261.59" stroke="#222" stroke-width="0.8" />
<line x1="489.98" y1="350.00" x2="489.98" y2="353.00" stroke="#222" stroke-width="0.8" />
<line x1="397.00" y1="260.02" x2="400.00" y2="260.02" stroke="#222" stroke-width="0.8" />
<line x1="491.33" y1="350.00" x2="491.33" y2="353.00" stroke="#222" stroke-width="0.8" />
<line x1="397.00" y1="258.67" x2="400.00" y2="258.67" stroke="#222" stroke-width="0.8" />
<line x1="492.53" y1="350.00" x2="492.53" y2="353.00" stroke="#222" stroke-width="0.8" />
<line x1="397.00" y1="257.47" x2="400.00" y2="257.47" stroke="#222" stroke-width="0.8" />
<line x1="493.60" y1="350.00" x2="493.60" y2="355.80" stroke="#222" stroke-width="0.8" />
<line x1="394.20" y1="256.70" x2="400.00" y2="256.70" stroke="#222" stroke-width="0.8" />
<text x="401.75" y="264.80" font-family="Liberation Sans" font-size="7.56" font-weight="normal" fill="#2a2a2a" textLength="15.80" lengthAdjust="spacingAndGlyphs" >6.8%</text>
<text x="475.67" y="264.80" font-family="Liberation Sans" font-size="7.56" font-weight="normal" fill="#2a2a2a" textLength="15.98" lengthAdjust="spacingAndGlyphs" >1.1%</text>
<text x="401.57" y="348.70" font-family="Liberation Sans" font-size="7.56" font-weight="normal" fill="#2a2a2a" textLength="19.78" lengthAdjust="spacingAndGlyphs" >12.8%</text>
<text x="472.05" y="348.70" font-family="Liberation Sans" font-size="7.56" font-weight="normal" fill="#2a2a2a" textLength="19.60" lengthAdjust="spacingAndGlyphs" >79.3%</text>
<rect x="103" y="277" width="1" height="1" fill="#4a4a4a"/>
<rect x="108" y="276" width="1" height="1" fill="#4a4a4a"/>
<rect x="109" y="275" width="1" height="1" fill="#4a4a4a"/>
<rect x="110" y="275" width="1" height="1" fill="#4a4a4a"/>
<rect x="112" y="273" width="1" height="1" fill="#4a4a4a"/>
<rect x="111" y="280" width="1" height="1" fill="#4a4a4a"/>
<rect x="117" y="283" width="1" height="1" fill="#4a4a4a"/>
<rect x="119" y="285" width="1" height="1" fill="#4a4a4a"/>
<rect x="124" y="269" width="1" height="1" fill="#4a4a4a"/>
<rect x="111" y="273" width="1" height="1" fill="#4a4a4a"/>
<rect x="113" y="284" width="1" height="1" fill="#4a4a4a"/>
<rect x="118" y="282" width="1" height="1" fill="#4a4a4a"/>
<rect x="114" y="281" width="1" height="1" fill="#4a4a4a"/>
<rect x="110" y="276" width="1" height="1" fill="#4a4a4a"/>
<rect x="109" y="277" width="1" height="1" fill="#4a4a4a"/>
<rect x="110" y="272" width="1" height="1" fill="#4a4a4a"/>
<rect x="109" y="275" width="1" height="1" fill="#4a4a4a"/>
<rect x="110" y="281" width="1" height="1" fill="#4a4a4a"/>
<rect x="126" y="268" width="1" height="1" fill="#4a4a4a"/>
<rect x="114" y="272" width="1" height="1" fill="#4a4a4a"/>
<rect x="112" y="279" width="1" height="1" fill="#4a4a4a"/>
<rect x="117" y="284" width="1" height="1" fill="#4a4a4a"/>
<rect x="114" y="268" width="1" height="1" fill="#4a4a4a"/>
<rect x="107" y="279" width="1" height="1" fill="#4a4a4a"/>
<rect x="121" y="272" width="1" height="1" fill="#4a4a4a"/>
<rect x="114" y="281" width="1" height="1" fill="#4a4a4a"/>
<rect x="122" y="265" width="1" height="1" fill="#4a4a4a"/>
<rect x="109" y="278" width="1" height="1" fill="#4a4a4a"/>
<rect x="117" y="285" width="1" height="1" fill="#4a4a4a"/>
<rect x="109" y="282" width="1" height="1" fill="#4a4a4a"/>
<rect x="116" y="285" width="1" height="1" fill="#4a4a4a"/>
<rect x="112" y="267" width="1" height="1" fill="#4a4a4a"/>
<rect x="116" y="281" width="1" height="1" fill="#4a4a4a"/>
<rect x="118" y="283" width="1" height="1" fill="#4a4a4a"/>
<rect x="116" y="270" width="1" height="1" fill="#4a4a4a"/>
<rect x="107" y="277" width="1" height="1" fill="#4a4a4a"/>
<rect x="114" y="281" width="1" height="1" fill="#4a4a4a"/>
<rect x="111" y="272" width="1" height="1" fill="#4a4a4a"/>
<rect x="116" y="283" width="1" height="1" fill="#4a4a4a"/>
<rect x="112" y="280" width="1" height="1" fill="#4a4a4a"/>
<rect x="122" y="271" width="1" height="1" fill="#4a4a4a"/>
<rect x="119" y="270" width="1" height="1" fill="#4a4a4a"/>
<rect x="111" y="284" width="1" height="1" fill="#4a4a4a"/>
<rect x="109" y="271" width="1" height="1" fill="#4a4a4a"/>
<rect x="116" y="283" width="1" height="1" fill="#4a4a4a"/>
<rect x="113" y="280" width="1" height="1" fill="#4a4a4a"/>
<rect x="115" y="271" width="1" height="1" fill="#4a4a4a"/>
<rect x="117" y="283" width="1" height="1" fill="#4a4a4a"/>
<rect x="117" y="283" width="1" height="1" fill="#4a4a4a"/>
<rect x="111" y="273" width="1" height="1" fill="#4a4a4a"/>
<rect x="103" y="280" width="1" height="1" fill="#4a4a4a"/>
<rect x="108" y="276" width="1" height="1" fill="#4a4a4a"/>
<rect x="110" y="274" width="1" height="1" fill="#4a4a4a"/>
<rect x="115" y="282" width="1" height="1" fill="#4a4a4a"/>
<rect x="120" y="271" width="1" height="1" fill="#4a4a4a"/>
<rect x="113" y="282" width="1" height="1" fill="#4a4a4a"/>
<rect x="114" y="271" width="1" height="1" fill="#4a4a4a"/>
<rect x="121" y="271" width="1" height="1" fill="#4a4a4a"/>
<rect x="119" y="270" width="1" height="1" fill="#4a4a4a"/>
<rect x="116" y="283" width="1" height="1" fill="#4a4a4a"/>
<rect x="119" y="283" width="1" height="1" fill="#4a4a4a"/>
<rect x="114" y="272" width="1" height="1" fill="#4a4a4a"/>
<rect x="111" y="281" width="1" height="1" fill="#4a4a4a"/>
<rect x="109" y="281" width="1" height="1" fill="#4a4a4a"/>
<rect x="115" y="281" width="1" height="1" fill="#4a4a4a"/>
<rect x="113" y="281" width="1" height="1" fill="#4a4a4a"/>
<rect x="109" y="274" width="1" height="1" fill="#4a4a4a"/>
<rect x="109" y="281" width="1" height="1" fill="#4a4a4a"/>
<rect x="120" y="272" width="1" height="1" fill="#4a4a4a"/>
<rect x="112" y="280" width="1" height="1" fill="#4a4a4a"/>
<rect x="109" y="277" width="1" height="1" fill="#4a4a4a"/>
<rect x="111" y="278" width="1" height="1" fill="#4a4a4a"/>
<rect x="110" y="274" width="1" height="1" fill="#4a4a4a"/>
<rect x="119" y="270" width="1" height="1" fill="#4a4a4a"/>
<rect x="123" y="270" width="1" height="1" fill="#4a4a4a"/>
<rect x="108" y="273" width="1" height="1" fill="#4a4a4a"/>
<rect x="116" y="282" width="1" height="1" fill="#4a4a4a"/>
<rect x="120" y="272" width="1" height="1" fill="#4a4a4a"/>
<rect x="114" y="272" width="1" height="1" fill="#4a4a4a"/>
<rect x="113" y="273" width="1" height="1" fill="#4a4a4a"/>
<rect x="111" y="276" width="1" height="1" fill="#4a4a4a"/>
<rect x="124" y="270" width="1" height="1" fill="#4a4a4a"/>
<rect x="117" y="285" width="1" height="1" fill="#4a4a4a"/>
<rect x="120" y="270" width="1" height="1" fill="#4a4a4a"/>
<rect x="114" y="271" width="1" height="1" fill="#4a4a4a"/>
<rect x="121" y="268" width="1" height="1" fill="#4a4a4a"/>
<rect x="109" y="279" width="1" height="1" fill="#4a4a4a"/>
<rect x="119" y="267" width="1" height="1" fill="#4a4a4a"/>
<rect x="109" y="277" width="1" height="1" fill="#4a4a4a"/>
<rect x="105" y="272" width="1" height="1" fill="#4a4a4a"/>
<rect x="110" y="272" width="1" height="1" fill="#4a4a4a"/>
<rect x="110" y="273" width="1" height="1" fill="#4a4a4a"/>
<rect x="116" y="287" width="1" height="1" fill="#4a4a4a"/>
<rect x="119" y="266" width="1" height="1" fill="#4a4a4a"/>
<rect x="112" y="270" width="1" height="1" fill="#4a4a4a"/>
<rect x="108" y="273" width="1" height="1" fill="#4a4a4a"/>
<rect x="110" y="277" width="1" height="1" fill="#4a4a4a"/>
<rect x="115" y="271" width="1" height="1" fill="#4a4a4a"/>
<rect x="119" y="284" width="1" height="1" fill="#4a4a4a"/>
<rect x="112" y="282" width="1" height="1" fill="#4a4a4a"/>
<rect x="111" y="270" width="1" height="1" fill="#4a4a4a"/>
<rect x="120" y="272" width="1" height="1" fill="#4a4a4a"/>
<rect x="111" y="282" width="1" height="1" fill="#4a4a4a"/>
<rect x="113" y="273" width="1" height="1" fill="#4a4a4a"/>
<rect x="112" y="283" width="1" height="1" fill="#4a4a4a"/>
<rect x="108" y="270" width="1" height="1" fill="#4a4a4a"/>
<rect x="108" y="277" width="1" height="1" fill="#4a4a4a"/>
<rect x="112" y="272" width="1" height="1" fill="#4a4a4a"/>
<rect x="111" y="284" width="1" height="1" fill="#4a4a4a"/>
<rect x="120" y="270" width="1" height="1" fill="#4a4a4a"/>
<rect x="126" y="272" width="1" height="1" fill="#4a4a4a"/>
<rect x="114" y="283" width="1" height="1" fill="#4a4a4a"/>
<rect x="127" y="284" width="1" height="1" fill="#4a4a4a"/>
<rect x="123" y="272" width="1" height="1" fill="#4a4a4a"/>
<rect x="116" y="270" width="1" height="1" fill="#4a4a4a"/>
<rect x="122" y="281" width="1" height="1" fill="#4a4a4a"/>
<rect x="111" y="278" width="1" height="1" fill="#4a4a4a"/>
<rect x="110" y="280" width="1" height="1" fill="#4a4a4a"/>
<rect x="111" y="272" width="1" height="1" fill="#4a4a4a"/>
<rect x="122" y="272" width="1" height="1" fill="#4a4a4a"/>
<rect x="127" y="276" width="1" height="1" fill="#4a4a4a"/>
<rect x="126" y="278" width="1" height="1" fill="#4a4a4a"/>
<rect x="127" y="271" width="1" height="1" fill="#4a4a4a"/>
<rect x="110" y="274" width="1" height="1" fill="#4a4a4a"/>
<rect x="116" y="281" width="1" height="1" fill="#4a4a4a"/>
<rect x="124" y="281" width="1" height="1" fill="#4a4a4a"/>
<rect x="105" y="279" width="1" height="1" fill="#4a4a4a"/>
<rect x="119" y="282" width="1" height="1" fill="#4a4a4a"/>
<rect x="126" y="283" width="1" height="1" fill="#4a4a4a"/>
<rect x="110" y="279" width="1" height="1" fill="#4a4a4a"/>
<rect x="111" y="271" width="1" height="1" fill="#4a4a4a"/>
<rect x="130" y="274" width="1" height="1" fill="#4a4a4a"/>
<rect x="115" y="271" width="1" height="1" fill="#4a4a4a"/>
<rect x="123" y="283" width="1" height="1" fill="#4a4a4a"/>
<rect x="131" y="277" width="1" height="1" fill="#4a4a4a"/>
<rect x="122" y="282" width="1" height="1" fill="#4a4a4a"/>
<rect x="117" y="283" width="1" height="1" fill="#4a4a4a"/>
<rect x="107" y="276" width="1" height="1" fill="#4a4a4a"/>
<rect x="113" y="273" width="1" height="1" fill="#4a4a4a"/>
<rect x="121" y="270" width="1" height="1" fill="#4a4a4a"/>
<rect x="130" y="271" width="1" height="1" fill="#4a4a4a"/>
<rect x="116" y="269" width="1" height="1" fill="#4a4a4a"/>
<rect x="127" y="282" width="1" height="1" fill="#4a4a4a"/>
<rect x="126" y="273" width="1" height="1" fill="#4a4a4a"/>
<rect x="109" y="283" width="1" height="1" fill="#4a4a4a"/>
<rect x="121" y="270" width="1" height="1" fill="#4a4a4a"/>
<rect x="130" y="274" width="1" height="1" fill="#4a4a4a"/>
<rect x="121" y="282" width="1" height="1" fill="#4a4a4a"/>
<rect x="117" y="270" width="1" height="1" fill="#4a4a4a"/>
<rect x="116" y="269" width="1" height="1" fill="#4a4a4a"/>
<rect x="122" y="286" width="1" height="1" fill="#4a4a4a"/>
<rect x="131" y="275" width="1" height="1" fill="#4a4a4a"/>
<rect x="110" y="275" width="1" height="1" fill="#4a4a4a"/>
<rect x="127" y="273" width="1" height="1" fill="#4a4a4a"/>
<rect x="123" y="272" width="1" height="1" fill="#4a4a4a"/>
<rect x="119" y="284" width="1" height="1" fill="#4a4a4a"/>
<rect x="120" y="286" width="1" height="1" fill="#4a4a4a"/>
<rect x="106" y="290" width="1" height="1" fill="#4a4a4a"/>
<rect x="122" y="287" width="1" height="1" fill="#4a4a4a"/>
<rect x="123" y="286" width="1" height="1" fill="#4a4a4a"/>
<rect x="111" y="287" width="1" height="1" fill="#4a4a4a"/>
<rect x="125" y="285" width="1" height="1" fill="#4a4a4a"/>
<rect x="99" y="284" width="1" height="1" fill="#4a4a4a"/>
<rect x="117" y="287" width="1" height="1" fill="#4a4a4a"/>
<rect x="119" y="284" width="1" height="1" fill="#4a4a4a"/>
<rect x="115" y="286" width="1" height="1" fill="#4a4a4a"/>
<rect x="103" y="282" width="1" height="1" fill="#4a4a4a"/>
<rect x="114" y="284" width="1" height="1" fill="#4a4a4a"/>
<rect x="113" y="283" width="1" height="1" fill="#4a4a4a"/>
<rect x="128" y="287" width="1" height="1" fill="#4a4a4a"/>
<rect x="97" y="283" width="1" height="1" fill="#4a4a4a"/>
<rect x="114" y="287" width="1" height="1" fill="#4a4a4a"/>
<rect x="127" y="283" width="1" height="1" fill="#4a4a4a"/>
<rect x="120" y="284" width="1" height="1" fill="#4a4a4a"/>
<rect x="115" y="287" width="1" height="1" fill="#4a4a4a"/>
<rect x="105" y="283" width="1" height="1" fill="#4a4a4a"/>
<rect x="121" y="282" width="1" height="1" fill="#4a4a4a"/>
<rect x="128" y="287" width="1" height="1" fill="#4a4a4a"/>
<rect x="113" y="285" width="1" height="1" fill="#4a4a4a"/>
<rect x="117" y="283" width="1" height="1" fill="#4a4a4a"/>
<rect x="123" y="288" width="1" height="1" fill="#4a4a4a"/>
<rect x="110" y="285" width="1" height="1" fill="#4a4a4a"/>
<rect x="121" y="283" width="1" height="1" fill="#4a4a4a"/>
<rect x="102" y="288" width="1" height="1" fill="#4a4a4a"/>
<rect x="127" y="287" width="1" height="1" fill="#4a4a4a"/>
<rect x="117" y="286" width="1" height="1" fill="#4a4a4a"/>
<rect x="130" y="285" width="1" height="1" fill="#4a4a4a"/>
<rect x="124" y="285" width="1" height="1" fill="#4a4a4a"/>
<rect x="113" y="286" width="1" height="1" fill="#4a4a4a"/>
<rect x="111" y="284" width="1" height="1" fill="#4a4a4a"/>
<rect x="116" y="287" width="1" height="1" fill="#4a4a4a"/>
<rect x="126" y="284" width="1" height="1" fill="#4a4a4a"/>
<rect x="119" y="284" width="1" height="1" fill="#4a4a4a"/>
<rect x="122" y="287" width="1" height="1" fill="#4a4a4a"/>
<rect x="121" y="284" width="1" height="1" fill="#4a4a4a"/>
<rect x="107" y="282" width="1" height="1" fill="#4a4a4a"/>
<rect x="113" y="283" width="1" height="1" fill="#4a4a4a"/>
<rect x="105" y="286" width="1" height="1" fill="#4a4a4a"/>
<rect x="131" y="288" width="1" height="1" fill="#4a4a4a"/>
<rect x="98" y="285" width="1" height="1" fill="#4a4a4a"/>
<rect x="132" y="292" width="1" height="1" fill="#4a4a4a"/>
<rect x="122" y="315" width="1" height="1" fill="#4a4a4a"/>
<rect x="127" y="307" width="1" height="1" fill="#4a4a4a"/>
<rect x="119" y="310" width="1" height="1" fill="#4a4a4a"/>
<rect x="131" y="306" width="1" height="1" fill="#4a4a4a"/>
<rect x="127" y="285" width="1" height="1" fill="#4a4a4a"/>
<rect x="129" y="308" width="1" height="1" fill="#4a4a4a"/>
<rect x="106" y="305" width="1" height="1" fill="#4a4a4a"/>
<rect x="122" y="309" width="1" height="1" fill="#4a4a4a"/>
<rect x="109" y="283" width="1" height="1" fill="#4a4a4a"/>
<rect x="132" y="309" width="1" height="1" fill="#4a4a4a"/>
<rect x="104" y="298" width="1" height="1" fill="#4a4a4a"/>
<rect x="111" y="285" width="1" height="1" fill="#4a4a4a"/>
<rect x="123" y="310" width="1" height="1" fill="#4a4a4a"/>
<rect x="131" y="301" width="1" height="1" fill="#4a4a4a"/>
<rect x="100" y="294" width="1" height="1" fill="#4a4a4a"/>
<rect x="126" y="307" width="1" height="1" fill="#4a4a4a"/>
<rect x="124" y="310" width="1" height="1" fill="#4a4a4a"/>
<rect x="138" y="298" width="1" height="1" fill="#4a4a4a"/>
<rect x="131" y="293" width="1" height="1" fill="#4a4a4a"/>
<rect x="131" y="295" width="1" height="1" fill="#4a4a4a"/>
<rect x="104" y="301" width="1" height="1" fill="#4a4a4a"/>
<rect x="101" y="301" width="1" height="1" fill="#4a4a4a"/>
<rect x="100" y="297" width="1" height="1" fill="#4a4a4a"/>
<rect x="133" y="300" width="1" height="1" fill="#4a4a4a"/>
<rect x="113" y="287" width="1" height="1" fill="#4a4a4a"/>
<rect x="103" y="302" width="1" height="1" fill="#4a4a4a"/>
<rect x="117" y="286" width="1" height="1" fill="#4a4a4a"/>
<rect x="125" y="309" width="1" height="1" fill="#4a4a4a"/>
<rect x="122" y="288" width="1" height="1" fill="#4a4a4a"/>
<rect x="113" y="286" width="1" height="1" fill="#4a4a4a"/>
<rect x="103" y="307" width="1" height="1" fill="#4a4a4a"/>
<rect x="98" y="287" width="1" height="1" fill="#4a4a4a"/>
<rect x="122" y="288" width="1" height="1" fill="#4a4a4a"/>
<rect x="117" y="314" width="1" height="1" fill="#4a4a4a"/>
<rect x="121" y="285" width="1" height="1" fill="#4a4a4a"/>
<rect x="126" y="284" width="1" height="1" fill="#4a4a4a"/>
<rect x="131" y="289" width="1" height="1" fill="#4a4a4a"/>
<rect x="113" y="288" width="1" height="1" fill="#4a4a4a"/>
<rect x="101" y="307" width="1" height="1" fill="#4a4a4a"/>
<rect x="115" y="285" width="1" height="1" fill="#4a4a4a"/>
<rect x="103" y="301" width="1" height="1" fill="#4a4a4a"/>
<rect x="134" y="299" width="1" height="1" fill="#4a4a4a"/>
<rect x="105" y="289" width="1" height="1" fill="#4a4a4a"/>
<rect x="120" y="314" width="1" height="1" fill="#4a4a4a"/>
<rect x="110" y="309" width="1" height="1" fill="#4a4a4a"/>
<rect x="108" y="287" width="1" height="1" fill="#4a4a4a"/>
<rect x="106" y="307" width="1" height="1" fill="#4a4a4a"/>
<rect x="135" y="299" width="1" height="1" fill="#4a4a4a"/>
<rect x="119" y="284" width="1" height="1" fill="#4a4a4a"/>
<rect x="136" y="297" width="1" height="1" fill="#4a4a4a"/>
<rect x="117" y="287" width="1" height="1" fill="#4a4a4a"/>
<rect x="117" y="310" width="1" height="1" fill="#4a4a4a"/>
<rect x="122" y="309" width="1" height="1" fill="#4a4a4a"/>
<rect x="106" y="308" width="1" height="1" fill="#4a4a4a"/>
<rect x="130" y="292" width="1" height="1" fill="#4a4a4a"/>
<rect x="105" y="294" width="1" height="1" fill="#4a4a4a"/>
<rect x="135" y="298" width="1" height="1" fill="#4a4a4a"/>
<rect x="134" y="306" width="1" height="1" fill="#4a4a4a"/>
<rect x="107" y="292" width="1" height="1" fill="#4a4a4a"/>
<rect x="131" y="294" width="1" height="1" fill="#4a4a4a"/>
<rect x="126" y="309" width="1" height="1" fill="#4a4a4a"/>
<rect x="104" y="299" width="1" height="1" fill="#4a4a4a"/>
<rect x="101" y="287" width="1" height="1" fill="#4a4a4a"/>
<rect x="103" y="305" width="1" height="1" fill="#4a4a4a"/>
<rect x="102" y="296" width="1" height="1" fill="#4a4a4a"/>
<rect x="114" y="311" width="1" height="1" fill="#4a4a4a"/>
<rect x="108" y="288" width="1" height="1" fill="#4a4a4a"/>
<rect x="115" y="287" width="1" height="1" fill="#4a4a4a"/>
<rect x="113" y="311" width="1" height="1" fill="#4a4a4a"/>
<rect x="131" y="302" width="1" height="1" fill="#4a4a4a"/>
<rect x="125" y="308" width="1" height="1" fill="#4a4a4a"/>
<rect x="131" y="290" width="1" height="1" fill="#4a4a4a"/>
<rect x="133" y="294" width="1" height="1" fill="#4a4a4a"/>
<rect x="133" y="305" width="1" height="1" fill="#4a4a4a"/>
<rect x="102" y="300" width="1" height="1" fill="#4a4a4a"/>
<rect x="131" y="297" width="1" height="1" fill="#4a4a4a"/>
<rect x="134" y="293" width="1" height="1" fill="#4a4a4a"/>
<rect x="124" y="287" width="1" height="1" fill="#4a4a4a"/>
<rect x="104" y="290" width="1" height="1" fill="#4a4a4a"/>
<rect x="101" y="302" width="1" height="1" fill="#4a4a4a"/>
<rect x="123" y="312" width="1" height="1" fill="#4a4a4a"/>
<rect x="128" y="307" width="1" height="1" fill="#4a4a4a"/>
<rect x="103" y="303" width="1" height="1" fill="#4a4a4a"/>
<rect x="116" y="312" width="1" height="1" fill="#4a4a4a"/>
<rect x="101" y="291" width="1" height="1" fill="#4a4a4a"/>
<rect x="101" y="296" width="1" height="1" fill="#4a4a4a"/>
<rect x="137" y="298" width="1" height="1" fill="#4a4a4a"/>
<rect x="119" y="311" width="1" height="1" fill="#4a4a4a"/>
<rect x="132" y="308" width="1" height="1" fill="#4a4a4a"/>
<rect x="105" y="289" width="1" height="1" fill="#4a4a4a"/>
<rect x="109" y="307" width="1" height="1" fill="#4a4a4a"/>
<rect x="100" y="293" width="1" height="1" fill="#4a4a4a"/>
<rect x="103" y="291" width="1" height="1" fill="#4a4a4a"/>
<rect x="124" y="312" width="1" height="1" fill="#4a4a4a"/>
<rect x="118" y="316" width="1" height="1" fill="#4a4a4a"/>
<rect x="128" y="291" width="1" height="1" fill="#4a4a4a"/>
<rect x="133" y="302" width="1" height="1" fill="#4a4a4a"/>
<rect x="105" y="304" width="1" height="1" fill="#4a4a4a"/>
<rect x="105" y="289" width="1" height="1" fill="#4a4a4a"/>
<rect x="132" y="304" width="1" height="1" fill="#4a4a4a"/>
<rect x="131" y="305" width="1" height="1" fill="#4a4a4a"/>
<rect x="106" y="288" width="1" height="1" fill="#4a4a4a"/>
<rect x="106" y="308" width="1" height="1" fill="#4a4a4a"/>
<rect x="110" y="308" width="1" height="1" fill="#4a4a4a"/>
<rect x="117" y="287" width="1" height="1" fill="#4a4a4a"/>
<rect x="128" y="307" width="1" height="1" fill="#4a4a4a"/>
<rect x="124" y="285" width="1" height="1" fill="#4a4a4a"/>
<rect x="122" y="313" width="1" height="1" fill="#4a4a4a"/>
<rect x="105" y="304" width="1" height="1" fill="#4a4a4a"/>
<rect x="104" y="311" width="1" height="1" fill="#4a4a4a"/>
<rect x="108" y="288" width="1" height="1" fill="#4a4a4a"/>
<rect x="105" y="295" width="1" height="1" fill="#4a4a4a"/>
<rect x="117" y="285" width="1" height="1" fill="#4a4a4a"/>
<rect x="107" y="308" width="1" height="1" fill="#4a4a4a"/>
<rect x="129" y="305" width="1" height="1" fill="#4a4a4a"/>
<rect x="130" y="304" width="1" height="1" fill="#4a4a4a"/>
<rect x="100" y="293" width="1" height="1" fill="#4a4a4a"/>
<rect x="113" y="309" width="1" height="1" fill="#4a4a4a"/>
<rect x="120" y="286" width="1" height="1" fill="#4a4a4a"/>
<rect x="110" y="289" width="1" height="1" fill="#4a4a4a"/>
<rect x="131" y="305" width="1" height="1" fill="#4a4a4a"/>
<rect x="111" y="284" width="1" height="1" fill="#4a4a4a"/>
<rect x="114" y="311" width="1" height="1" fill="#4a4a4a"/>
<rect x="115" y="286" width="1" height="1" fill="#4a4a4a"/>
<rect x="106" y="309" width="1" height="1" fill="#4a4a4a"/>
<rect x="102" y="293" width="1" height="1" fill="#4a4a4a"/>
<rect x="136" y="290" width="1" height="1" fill="#4a4a4a"/>
<rect x="102" y="304" width="1" height="1" fill="#4a4a4a"/>
<rect x="122" y="288" width="1" height="1" fill="#4a4a4a"/>
<rect x="104" y="306" width="1" height="1" fill="#4a4a4a"/>
<rect x="132" y="294" width="1" height="1" fill="#4a4a4a"/>
<rect x="108" y="308" width="1" height="1" fill="#4a4a4a"/>
<rect x="107" y="308" width="1" height="1" fill="#4a4a4a"/>
<rect x="105" y="307" width="1" height="1" fill="#4a4a4a"/>
<rect x="124" y="313" width="1" height="1" fill="#4a4a4a"/>
<rect x="102" y="295" width="1" height="1" fill="#4a4a4a"/>
<rect x="126" y="288" width="1" height="1" fill="#4a4a4a"/>
<rect x="118" y="287" width="1" height="1" fill="#4a4a4a"/>
<rect x="128" y="291" width="1" height="1" fill="#4a4a4a"/>
<rect x="103" y="297" width="1" height="1" fill="#4a4a4a"/>
<rect x="107" y="287" width="1" height="1" fill="#4a4a4a"/>
<rect x="124" y="285" width="1" height="1" fill="#4a4a4a"/>
<rect x="121" y="287" width="1" height="1" fill="#4a4a4a"/>
<rect x="134" y="306" width="1" height="1" fill="#4a4a4a"/>
<rect x="131" y="291" width="1" height="1" fill="#4a4a4a"/>
<rect x="130" y="305" width="1" height="1" fill="#4a4a4a"/>
<rect x="117" y="287" width="1" height="1" fill="#4a4a4a"/>
<rect x="110" y="290" width="1" height="1" fill="#4a4a4a"/>
<rect x="119" y="286" width="1" height="1" fill="#4a4a4a"/>
<rect x="104" y="297" width="1" height="1" fill="#4a4a4a"/>
<rect x="109" y="310" width="1" height="1" fill="#4a4a4a"/>
<rect x="133" y="296" width="1" height="1" fill="#4a4a4a"/>
<rect x="101" y="295" width="1" height="1" fill="#4a4a4a"/>
<rect x="115" y="286" width="1" height="1" fill="#4a4a4a"/>
<rect x="99" y="308" width="1" height="1" fill="#4a4a4a"/>
<rect x="125" y="286" width="1" height="1" fill="#4a4a4a"/>
<rect x="124" y="284" width="1" height="1" fill="#4a4a4a"/>
<rect x="128" y="284" width="1" height="1" fill="#4a4a4a"/>
<rect x="105" y="286" width="1" height="1" fill="#4a4a4a"/>
<rect x="103" y="297" width="1" height="1" fill="#4a4a4a"/>
<rect x="100" y="306" width="1" height="1" fill="#4a4a4a"/>
<rect x="103" y="305" width="1" height="1" fill="#4a4a4a"/>
<rect x="136" y="298" width="1" height="1" fill="#4a4a4a"/>
<rect x="107" y="307" width="1" height="1" fill="#4a4a4a"/>
<rect x="104" y="304" width="1" height="1" fill="#4a4a4a"/>
<rect x="114" y="310" width="1" height="1" fill="#4a4a4a"/>
<rect x="113" y="309" width="1" height="1" fill="#4a4a4a"/>
<rect x="131" y="308" width="1" height="1" fill="#4a4a4a"/>
<rect x="126" y="312" width="1" height="1" fill="#4a4a4a"/>
<rect x="134" y="304" width="1" height="1" fill="#4a4a4a"/>
<rect x="130" y="292" width="1" height="1" fill="#4a4a4a"/>
<rect x="132" y="301" width="1" height="1" fill="#4a4a4a"/>
<rect x="121" y="310" width="1" height="1" fill="#4a4a4a"/>
<rect x="119" y="310" width="1" height="1" fill="#4a4a4a"/>
<rect x="121" y="313" width="1" height="1" fill="#4a4a4a"/>
<rect x="123" y="309" width="1" height="1" fill="#4a4a4a"/>
<rect x="118" y="286" width="1" height="1" fill="#4a4a4a"/>
<rect x="110" y="314" width="1" height="1" fill="#4a4a4a"/>
<rect x="102" y="300" width="1" height="1" fill="#4a4a4a"/>
<rect x="116" y="314" width="1" height="1" fill="#4a4a4a"/>
<rect x="107" y="311" width="1" height="1" fill="#4a4a4a"/>
<rect x="101" y="294" width="1" height="1" fill="#4a4a4a"/>
<rect x="120" y="310" width="1" height="1" fill="#4a4a4a"/>
<rect x="136" y="303" width="1" height="1" fill="#4a4a4a"/>
<rect x="106" y="307" width="1" height="1" fill="#4a4a4a"/>
<rect x="101" y="296" width="1" height="1" fill="#4a4a4a"/>
<rect x="131" y="298" width="1" height="1" fill="#4a4a4a"/>
<rect x="110" y="290" width="1" height="1" fill="#4a4a4a"/>
<rect x="104" y="301" width="1" height="1" fill="#4a4a4a"/>
<rect x="107" y="307" width="1" height="1" fill="#4a4a4a"/>
<rect x="103" y="289" width="1" height="1" fill="#4a4a4a"/>
<rect x="126" y="309" width="1" height="1" fill="#4a4a4a"/>
<rect x="117" y="312" width="1" height="1" fill="#4a4a4a"/>
<rect x="130" y="288" width="1" height="1" fill="#4a4a4a"/>
<rect x="132" y="298" width="1" height="1" fill="#4a4a4a"/>
<rect x="116" y="311" width="1" height="1" fill="#4a4a4a"/>
<rect x="119" y="288" width="1" height="1" fill="#4a4a4a"/>
<rect x="134" y="299" width="1" height="1" fill="#4a4a4a"/>
<rect x="126" y="284" width="1" height="1" fill="#4a4a4a"/>
<rect x="130" y="304" width="1" height="1" fill="#4a4a4a"/>
<rect x="133" y="308" width="1" height="1" fill="#4a4a4a"/>
<rect x="105" y="292" width="1" height="1" fill="#4a4a4a"/>
<rect x="127" y="289" width="1" height="1" fill="#4a4a4a"/>
<rect x="101" y="306" width="1" height="1" fill="#4a4a4a"/>
<rect x="134" y="291" width="1" height="1" fill="#4a4a4a"/>
<rect x="122" y="312" width="1" height="1" fill="#4a4a4a"/>
<rect x="103" y="295" width="1" height="1" fill="#4a4a4a"/>
<rect x="124" y="289" width="1" height="1" fill="#4a4a4a"/>
<rect x="112" y="309" width="1" height="1" fill="#4a4a4a"/>
<rect x="113" y="310" width="1" height="1" fill="#4a4a4a"/>
<rect x="104" y="301" width="1" height="1" fill="#4a4a4a"/>
<rect x="111" y="286" width="1" height="1" fill="#4a4a4a"/>
<rect x="131" y="307" width="1" height="1" fill="#4a4a4a"/>
<rect x="133" y="296" width="1" height="1" fill="#4a4a4a"/>
<rect x="124" y="289" width="1" height="1" fill="#4a4a4a"/>
<rect x="108" y="306" width="1" height="1" fill="#4a4a4a"/>
<rect x="114" y="288" width="1" height="1" fill="#4a4a4a"/>
<rect x="100" y="302" width="1" height="1" fill="#4a4a4a"/>
<rect x="138" y="300" width="1" height="1" fill="#4a4a4a"/>
<rect x="121" y="309" width="1" height="1" fill="#4a4a4a"/>
<rect x="107" y="291" width="1" height="1" fill="#4a4a4a"/>
<rect x="101" y="295" width="1" height="1" fill="#4a4a4a"/>
<rect x="113" y="310" width="1" height="1" fill="#4a4a4a"/>
<rect x="109" y="287" width="1" height="1" fill="#4a4a4a"/>
<rect x="117" y="311" width="1" height="1" fill="#4a4a4a"/>
<rect x="108" y="312" width="1" height="1" fill="#4a4a4a"/>
<rect x="135" y="293" width="1" height="1" fill="#4a4a4a"/>
<rect x="110" y="310" width="1" height="1" fill="#4a4a4a"/>
<rect x="125" y="288" width="1" height="1" fill="#4a4a4a"/>
<rect x="130" y="305" width="1" height="1" fill="#4a4a4a"/>
<rect x="111" y="288" width="1" height="1" fill="#4a4a4a"/>
<rect x="105" y="306" width="1" height="1" fill="#4a4a4a"/>
<rect x="125" y="288" width="1" height="1" fill="#4a4a4a"/>
<rect x="120" y="310" width="1" height="1" fill="#4a4a4a"/>
<rect x="126" y="309" width="1" height="1" fill="#4a4a4a"/>
<rect x="132" y="304" width="1" height="1" fill="#4a4a4a"/>
<rect x="133" y="292" width="1" height="1" fill="#4a4a4a"/>
<rect x="108" y="289" width="1" height="1" fill="#4a4a4a"/>
<rect x="119" y="287" width="1" height="1" fill="#4a4a4a"/>
<rect x="109" y="310" width="1" height="1" fill="#4a4a4a"/>
<rect x="103" y="306" width="1" height="1" fill="#4a4a4a"/>
<rect x="113" y="288" width="1" height="1" fill="#4a4a4a"/>
<rect x="132" y="297" width="1" height="1" fill="#4a4a4a"/>
<rect x="103" y="289" width="1" height="1" fill="#4a4a4a"/>
<rect x="133" y="300" width="1" height="1" fill="#4a4a4a"/>
<rect x="108" y="288" width="1" height="1" fill="#4a4a4a"/>
<rect x="131" y="307" width="1" height="1" fill="#4a4a4a"/>
<rect x="122" y="286" width="1" height="1" fill="#4a4a4a"/>
<rect x="124" y="288" width="1" height="1" fill="#4a4a4a"/>
<rect x="119" y="287" width="1" height="1" fill="#4a4a4a"/>
<rect x="131" y="291" width="1" height="1" fill="#4a4a4a"/>
<rect x="103" y="299" width="1" height="1" fill="#4a4a4a"/>
<rect x="128" y="309" width="1" height="1" fill="#4a4a4a"/>
<rect x="142" y="301" width="1" height="1" fill="#4a4a4a"/>
<rect x="138" y="306" width="1" height="1" fill="#4a4a4a"/>
<rect x="139" y="300" width="1" height="1" fill="#4a4a4a"/>
<rect x="147" y="299" width="1" height="1" fill="#4a4a4a"/>
<rect x="155" y="298" width="1" height="1" fill="#4a4a4a"/>
<rect x="135" y="303" width="1" height="1" fill="#4a4a4a"/>
<rect x="139" y="296" width="1" height="1" fill="#4a4a4a"/>
<rect x="144" y="302" width="1" height="1" fill="#4a4a4a"/>
<rect x="142" y="304" width="1" height="1" fill="#4a4a4a"/>
<rect x="137" y="293" width="1" height="1" fill="#4a4a4a"/>
<rect x="139" y="298" width="1" height="1" fill="#4a4a4a"/>
<rect x="163" y="308" width="1" height="1" fill="#4a4a4a"/>
<rect x="142" y="297" width="1" height="1" fill="#4a4a4a"/>
<rect x="140" y="301" width="1" height="1" fill="#4a4a4a"/>
<rect x="136" y="302" width="1" height="1" fill="#4a4a4a"/>
<rect x="139" y="291" width="1" height="1" fill="#4a4a4a"/>
<rect x="135" y="301" width="1" height="1" fill="#4a4a4a"/>
<rect x="153" y="300" width="1" height="1" fill="#4a4a4a"/>
<rect x="144" y="305" width="1" height="1" fill="#4a4a4a"/>
<rect x="167" y="306" width="1" height="1" fill="#4a4a4a"/>
<rect x="138" y="296" width="1" height="1" fill="#4a4a4a"/>
<rect x="156" y="299" width="1" height="1" fill="#4a4a4a"/>
<rect x="134" y="291" width="1" height="1" fill="#4a4a4a"/>
<rect x="134" y="302" width="1" height="1" fill="#4a4a4a"/>
<rect x="144" y="296" width="1" height="1" fill="#4a4a4a"/>
<rect x="144" y="294" width="1" height="1" fill="#4a4a4a"/>
<rect x="151" y="302" width="1" height="1" fill="#4a4a4a"/>
<rect x="153" y="298" width="1" height="1" fill="#4a4a4a"/>
<rect x="155" y="295" width="1" height="1" fill="#4a4a4a"/>
<rect x="154" y="306" width="1" height="1" fill="#4a4a4a"/>
<rect x="146" y="307" width="1" height="1" fill="#4a4a4a"/>
<rect x="161" y="294" width="1" height="1" fill="#4a4a4a"/>
<rect x="137" y="293" width="1" height="1" fill="#4a4a4a"/>
<rect x="150" y="296" width="1" height="1" fill="#4a4a4a"/>
<rect x="133" y="309" width="1" height="1" fill="#4a4a4a"/>
<rect x="142" y="302" width="1" height="1" fill="#4a4a4a"/>
<rect x="136" y="293" width="1" height="1" fill="#4a4a4a"/>
<rect x="148" y="304" width="1" height="1" fill="#4a4a4a"/>
<rect x="137" y="294" width="1" height="1" fill="#4a4a4a"/>
<rect x="142" y="303" width="1" height="1" fill="#4a4a4a"/>
<rect x="139" y="307" width="1" height="1" fill="#4a4a4a"/>
<rect x="148" y="306" width="1" height="1" fill="#4a4a4a"/>
<rect x="134" y="292" width="1" height="1" fill="#4a4a4a"/>
<rect x="134" y="297" width="1" height="1" fill="#4a4a4a"/>
<rect x="154" y="301" width="1" height="1" fill="#4a4a4a"/>
<rect x="145" y="293" width="1" height="1" fill="#4a4a4a"/>
<rect x="146" y="298" width="1" height="1" fill="#4a4a4a"/>
<rect x="145" y="297" width="1" height="1" fill="#4a4a4a"/>
<rect x="133" y="299" width="1" height="1" fill="#4a4a4a"/>
<rect x="151" y="296" width="1" height="1" fill="#4a4a4a"/>
<rect x="147" y="309" width="1" height="1" fill="#4a4a4a"/>
<rect x="151" y="306" width="1" height="1" fill="#4a4a4a"/>
<rect x="140" y="302" width="1" height="1" fill="#4a4a4a"/>
<rect x="136" y="300" width="1" height="1" fill="#4a4a4a"/>
<rect x="137" y="299" width="1" height="1" fill="#4a4a4a"/>
<rect x="131" y="301" width="1" height="1" fill="#4a4a4a"/>
<rect x="141" y="300" width="1" height="1" fill="#4a4a4a"/>
<rect x="139" y="287" width="1" height="1" fill="#4a4a4a"/>
<rect x="138" y="303" width="1" height="1" fill="#4a4a4a"/>
<rect x="143" y="298" width="1" height="1" fill="#4a4a4a"/>
<rect x="151" y="309" width="1" height="1" fill="#4a4a4a"/>
<rect x="150" y="301" width="1" height="1" fill="#4a4a4a"/>
<rect x="135" y="295" width="1" height="1" fill="#4a4a4a"/>
<rect x="152" y="300" width="1" height="1" fill="#4a4a4a"/>
<rect x="144" y="302" width="1" height="1" fill="#4a4a4a"/>
<rect x="138" y="287" width="1" height="1" fill="#4a4a4a"/>
<rect x="143" y="305" width="1" height="1" fill="#4a4a4a"/>
<rect x="142" y="300" width="1" height="1" fill="#4a4a4a"/>
<rect x="150" y="308" width="1" height="1" fill="#4a4a4a"/>
<rect x="134" y="302" width="1" height="1" fill="#4a4a4a"/>
<rect x="159" y="296" width="1" height="1" fill="#4a4a4a"/>
<rect x="151" y="304" width="1" height="1" fill="#4a4a4a"/>
<rect x="159" y="302" width="1" height="1" fill="#4a4a4a"/>
<rect x="143" y="297" width="1" height="1" fill="#4a4a4a"/>
<rect x="139" y="300" width="1" height="1" fill="#4a4a4a"/>
<rect x="141" y="305" width="1" height="1" fill="#4a4a4a"/>
<rect x="152" y="295" width="1" height="1" fill="#4a4a4a"/>
<rect x="161" y="304" width="1" height="1" fill="#4a4a4a"/>
<rect x="133" y="304" width="1" height="1" fill="#4a4a4a"/>
<rect x="153" y="304" width="1" height="1" fill="#4a4a4a"/>
<rect x="139" y="302" width="1" height="1" fill="#4a4a4a"/>
<rect x="146" y="296" width="1" height="1" fill="#4a4a4a"/>
<rect x="156" y="300" width="1" height="1" fill="#4a4a4a"/>
<rect x="148" y="300" width="1" height="1" fill="#4a4a4a"/>
<rect x="156" y="300" width="1" height="1" fill="#4a4a4a"/>
<rect x="135" y="294" width="1" height="1" fill="#4a4a4a"/>
<rect x="140" y="295" width="1" height="1" fill="#4a4a4a"/>
<rect x="163" y="297" width="1" height="1" fill="#4a4a4a"/>
<rect x="137" y="298" width="1" height="1" fill="#4a4a4a"/>
<rect x="140" y="304" width="1" height="1" fill="#4a4a4a"/>
<rect x="142" y="293" width="1" height="1" fill="#4a4a4a"/>
<rect x="141" y="305" width="1" height="1" fill="#4a4a4a"/>
<rect x="146" y="298" width="1" height="1" fill="#4a4a4a"/>
<rect x="150" y="300" width="1" height="1" fill="#4a4a4a"/>
<rect x="139" y="297" width="1" height="1" fill="#4a4a4a"/>
<rect x="158" y="299" width="1" height="1" fill="#4a4a4a"/>
<rect x="150" y="296" width="1" height="1" fill="#4a4a4a"/>
<rect x="141" y="311" width="1" height="1" fill="#4a4a4a"/>
<rect x="145" y="299" width="1" height="1" fill="#4a4a4a"/>
<rect x="134" y="304" width="1" height="1" fill="#4a4a4a"/>
<rect x="138" y="302" width="1" height="1" fill="#4a4a4a"/>
<rect x="153" y="296" width="1" height="1" fill="#4a4a4a"/>
<rect x="136" y="294" width="1" height="1" fill="#4a4a4a"/>
<rect x="130" y="293" width="1" height="1" fill="#4a4a4a"/>
<rect x="142" y="303" width="1" height="1" fill="#4a4a4a"/>
<rect x="132" y="287" width="1" height="1" fill="#4a4a4a"/>
<rect x="140" y="303" width="1" height="1" fill="#4a4a4a"/>
<rect x="157" y="302" width="1" height="1" fill="#4a4a4a"/>
<rect x="154" y="299" width="1" height="1" fill="#4a4a4a"/>
<rect x="153" y="300" width="1" height="1" fill="#4a4a4a"/>
<rect x="137" y="295" width="1" height="1" fill="#4a4a4a"/>
<rect x="143" y="294" width="1" height="1" fill="#4a4a4a"/>
<rect x="138" y="306" width="1" height="1" fill="#4a4a4a"/>
<rect x="146" y="298" width="1" height="1" fill="#4a4a4a"/>
<rect x="132" y="301" width="1" height="1" fill="#4a4a4a"/>
<ellipse cx="118.40" cy="276.60" rx="7.10" ry="4.70" fill="#fff" stroke="#000" stroke-width="1.0"/>
<ellipse cx="118.60" cy="276.60" rx="3.10" ry="1.90" fill="none" stroke="#000" stroke-width="0.9"/>
<path d="M106,290.5 Q101,288.5 96.4,290 L96.4,308.5 Q101,310.5 106,306.5" fill="#fff" stroke="#111" stroke-width="0.75"/>
<path d="M106,292.8 Q101,291.5 98.5,293 Q102,298.5 98.5,305 Q101,307 106,304.5" fill="none" stroke="#111" stroke-width="0.75"/>
<ellipse cx="117.60" cy="298.60" rx="13.20" ry="10.50" fill="#fff" stroke="#000" stroke-width="0.95"/>
<ellipse cx="118.2" cy="298.5" rx="10.9" ry="9.0" fill="#8a8a8a"/>
<ellipse cx="118.20" cy="298.50" rx="10.90" ry="9.00" fill="none" stroke="#000" stroke-width="0.8"/>
<ellipse cx="118.20" cy="298.50" rx="9.60" ry="7.90" fill="none" stroke="#000" stroke-width="0.8"/>
<ellipse cx="118.20" cy="298.50" rx="8.30" ry="6.80" fill="none" stroke="#000" stroke-width="0.8"/>
<ellipse cx="118.20" cy="298.50" rx="7.00" ry="5.80" fill="none" stroke="#000" stroke-width="0.8"/>
<ellipse cx="118.20" cy="298.50" rx="5.80" ry="4.80" fill="none" stroke="#000" stroke-width="0.8"/>
<ellipse cx="118.20" cy="298.50" rx="4.60" ry="3.80" fill="none" stroke="#000" stroke-width="0.8"/>
<ellipse cx="118.20" cy="298.50" rx="3.40" ry="2.80" fill="none" stroke="#000" stroke-width="0.8"/>
<ellipse cx="118.20" cy="298.50" rx="1.8" ry="1.5" fill="#fff" stroke="#222" stroke-width="0.8"/>
<rect x="214" y="282" width="1" height="1" fill="#4a4a4a"/>
<rect x="218" y="285" width="1" height="1" fill="#4a4a4a"/>
<rect x="211" y="276" width="1" height="1" fill="#4a4a4a"/>
<rect x="212" y="280" width="1" height="1" fill="#4a4a4a"/>
<rect x="221" y="270" width="1" height="1" fill="#4a4a4a"/>
<rect x="205" y="272" width="1" height="1" fill="#4a4a4a"/>
<rect x="211" y="281" width="1" height="1" fill="#4a4a4a"/>
<rect x="214" y="281" width="1" height="1" fill="#4a4a4a"/>
<rect x="210" y="279" width="1" height="1" fill="#4a4a4a"/>
<rect x="210" y="272" width="1" height="1" fill="#4a4a4a"/>
<rect x="212" y="273" width="1" height="1" fill="#4a4a4a"/>
<rect x="216" y="282" width="1" height="1" fill="#4a4a4a"/>
<rect x="210" y="281" width="1" height="1" fill="#4a4a4a"/>
<rect x="213" y="283" width="1" height="1" fill="#4a4a4a"/>
<rect x="215" y="267" width="1" height="1" fill="#4a4a4a"/>
<rect x="216" y="284" width="1" height="1" fill="#4a4a4a"/>
<rect x="211" y="281" width="1" height="1" fill="#4a4a4a"/>
<rect x="224" y="269" width="1" height="1" fill="#4a4a4a"/>
<rect x="216" y="271" width="1" height="1" fill="#4a4a4a"/>
<rect x="224" y="270" width="1" height="1" fill="#4a4a4a"/>
<rect x="214" y="269" width="1" height="1" fill="#4a4a4a"/>
<rect x="218" y="282" width="1" height="1" fill="#4a4a4a"/>
<rect x="210" y="286" width="1" height="1" fill="#4a4a4a"/>
<rect x="209" y="277" width="1" height="1" fill="#4a4a4a"/>
<rect x="216" y="284" width="1" height="1" fill="#4a4a4a"/>
<rect x="217" y="287" width="1" height="1" fill="#4a4a4a"/>
<rect x="215" y="272" width="1" height="1" fill="#4a4a4a"/>
<rect x="213" y="280" width="1" height="1" fill="#4a4a4a"/>
<rect x="208" y="282" width="1" height="1" fill="#4a4a4a"/>
<rect x="207" y="276" width="1" height="1" fill="#4a4a4a"/>
<rect x="210" y="279" width="1" height="1" fill="#4a4a4a"/>
<rect x="223" y="271" width="1" height="1" fill="#4a4a4a"/>
<rect x="210" y="277" width="1" height="1" fill="#4a4a4a"/>
<rect x="211" y="271" width="1" height="1" fill="#4a4a4a"/>
<rect x="214" y="271" width="1" height="1" fill="#4a4a4a"/>
<rect x="219" y="266" width="1" height="1" fill="#4a4a4a"/>
<rect x="206" y="276" width="1" height="1" fill="#4a4a4a"/>
<rect x="208" y="277" width="1" height="1" fill="#4a4a4a"/>
<rect x="216" y="269" width="1" height="1" fill="#4a4a4a"/>
<rect x="212" y="281" width="1" height="1" fill="#4a4a4a"/>
<rect x="209" y="274" width="1" height="1" fill="#4a4a4a"/>
<rect x="214" y="281" width="1" height="1" fill="#4a4a4a"/>
<rect x="208" y="276" width="1" height="1" fill="#4a4a4a"/>
<rect x="200" y="282" width="1" height="1" fill="#4a4a4a"/>
<rect x="211" y="270" width="1" height="1" fill="#4a4a4a"/>
<rect x="219" y="270" width="1" height="1" fill="#4a4a4a"/>
<rect x="216" y="284" width="1" height="1" fill="#4a4a4a"/>
<rect x="213" y="271" width="1" height="1" fill="#4a4a4a"/>
<rect x="218" y="284" width="1" height="1" fill="#4a4a4a"/>
<rect x="214" y="281" width="1" height="1" fill="#4a4a4a"/>
<rect x="222" y="269" width="1" height="1" fill="#4a4a4a"/>
<rect x="215" y="272" width="1" height="1" fill="#4a4a4a"/>
<rect x="212" y="283" width="1" height="1" fill="#4a4a4a"/>
<rect x="223" y="269" width="1" height="1" fill="#4a4a4a"/>
<rect x="212" y="269" width="1" height="1" fill="#4a4a4a"/>
<rect x="221" y="269" width="1" height="1" fill="#4a4a4a"/>
<rect x="210" y="278" width="1" height="1" fill="#4a4a4a"/>
<rect x="216" y="283" width="1" height="1" fill="#4a4a4a"/>
<rect x="216" y="270" width="1" height="1" fill="#4a4a4a"/>
<rect x="207" y="274" width="1" height="1" fill="#4a4a4a"/>
<rect x="211" y="281" width="1" height="1" fill="#4a4a4a"/>
<rect x="217" y="284" width="1" height="1" fill="#4a4a4a"/>
<rect x="217" y="285" width="1" height="1" fill="#4a4a4a"/>
<rect x="207" y="280" width="1" height="1" fill="#4a4a4a"/>
<rect x="214" y="283" width="1" height="1" fill="#4a4a4a"/>
<rect x="214" y="272" width="1" height="1" fill="#4a4a4a"/>
<rect x="209" y="269" width="1" height="1" fill="#4a4a4a"/>
<rect x="214" y="282" width="1" height="1" fill="#4a4a4a"/>
<rect x="213" y="270" width="1" height="1" fill="#4a4a4a"/>
<rect x="204" y="277" width="1" height="1" fill="#4a4a4a"/>
<rect x="209" y="283" width="1" height="1" fill="#4a4a4a"/>
<rect x="210" y="280" width="1" height="1" fill="#4a4a4a"/>
<rect x="217" y="283" width="1" height="1" fill="#4a4a4a"/>
<rect x="218" y="284" width="1" height="1" fill="#4a4a4a"/>
<rect x="217" y="269" width="1" height="1" fill="#4a4a4a"/>
<rect x="223" y="271" width="1" height="1" fill="#4a4a4a"/>
<rect x="222" y="268" width="1" height="1" fill="#4a4a4a"/>
<rect x="211" y="281" width="1" height="1" fill="#4a4a4a"/>
<rect x="224" y="268" width="1" height="1" fill="#4a4a4a"/>
<rect x="219" y="271" width="1" height="1" fill="#4a4a4a"/>
<rect x="214" y="285" width="1" height="1" fill="#4a4a4a"/>
<rect x="209" y="277" width="1" height="1" fill="#4a4a4a"/>
<rect x="210" y="278" width="1" height="1" fill="#4a4a4a"/>
<rect x="208" y="279" width="1" height="1" fill="#4a4a4a"/>
<rect x="214" y="281" width="1" height="1" fill="#4a4a4a"/>
<rect x="208" y="277" width="1" height="1" fill="#4a4a4a"/>
<rect x="213" y="272" width="1" height="1" fill="#4a4a4a"/>
<rect x="210" y="281" width="1" height="1" fill="#4a4a4a"/>
<rect x="208" y="277" width="1" height="1" fill="#4a4a4a"/>
<rect x="212" y="284" width="1" height="1" fill="#4a4a4a"/>
<rect x="209" y="273" width="1" height="1" fill="#4a4a4a"/>
<rect x="212" y="270" width="1" height="1" fill="#4a4a4a"/>
<rect x="210" y="278" width="1" height="1" fill="#4a4a4a"/>
<rect x="217" y="283" width="1" height="1" fill="#4a4a4a"/>
<rect x="210" y="275" width="1" height="1" fill="#4a4a4a"/>
<rect x="209" y="272" width="1" height="1" fill="#4a4a4a"/>
<rect x="212" y="280" width="1" height="1" fill="#4a4a4a"/>
<rect x="218" y="285" width="1" height="1" fill="#4a4a4a"/>
<rect x="205" y="272" width="1" height="1" fill="#4a4a4a"/>
<rect x="211" y="280" width="1" height="1" fill="#4a4a4a"/>
<rect x="209" y="278" width="1" height="1" fill="#4a4a4a"/>
<rect x="210" y="272" width="1" height="1" fill="#4a4a4a"/>
<rect x="211" y="274" width="1" height="1" fill="#4a4a4a"/>
<rect x="228" y="275" width="1" height="1" fill="#4a4a4a"/>
<rect x="209" y="271" width="1" height="1" fill="#4a4a4a"/>
<rect x="210" y="280" width="1" height="1" fill="#4a4a4a"/>
<rect x="224" y="271" width="1" height="1" fill="#4a4a4a"/>
<rect x="230" y="270" width="1" height="1" fill="#4a4a4a"/>
<rect x="233" y="279" width="1" height="1" fill="#4a4a4a"/>
<rect x="227" y="282" width="1" height="1" fill="#4a4a4a"/>
<rect x="214" y="281" width="1" height="1" fill="#4a4a4a"/>
<rect x="229" y="276" width="1" height="1" fill="#4a4a4a"/>
<rect x="220" y="283" width="1" height="1" fill="#4a4a4a"/>
<rect x="215" y="272" width="1" height="1" fill="#4a4a4a"/>
<rect x="211" y="275" width="1" height="1" fill="#4a4a4a"/>
<rect x="212" y="280" width="1" height="1" fill="#4a4a4a"/>
<rect x="211" y="270" width="1" height="1" fill="#4a4a4a"/>
<rect x="208" y="274" width="1" height="1" fill="#4a4a4a"/>
<rect x="225" y="270" width="1" height="1" fill="#4a4a4a"/>
<rect x="229" y="275" width="1" height="1" fill="#4a4a4a"/>
<rect x="228" y="272" width="1" height="1" fill="#4a4a4a"/>
<rect x="215" y="282" width="1" height="1" fill="#4a4a4a"/>
<rect x="214" y="268" width="1" height="1" fill="#4a4a4a"/>
<rect x="228" y="275" width="1" height="1" fill="#4a4a4a"/>
<rect x="211" y="272" width="1" height="1" fill="#4a4a4a"/>
<rect x="207" y="277" width="1" height="1" fill="#4a4a4a"/>
<rect x="217" y="283" width="1" height="1" fill="#4a4a4a"/>
<rect x="219" y="269" width="1" height="1" fill="#4a4a4a"/>
<rect x="219" y="282" width="1" height="1" fill="#4a4a4a"/>
<rect x="214" y="283" width="1" height="1" fill="#4a4a4a"/>
<rect x="228" y="282" width="1" height="1" fill="#4a4a4a"/>
<rect x="228" y="279" width="1" height="1" fill="#4a4a4a"/>
<rect x="216" y="271" width="1" height="1" fill="#4a4a4a"/>
<rect x="230" y="283" width="1" height="1" fill="#4a4a4a"/>
<rect x="209" y="277" width="1" height="1" fill="#4a4a4a"/>
<rect x="226" y="284" width="1" height="1" fill="#4a4a4a"/>
<rect x="232" y="280" width="1" height="1" fill="#4a4a4a"/>
<rect x="219" y="286" width="1" height="1" fill="#4a4a4a"/>
<rect x="212" y="280" width="1" height="1" fill="#4a4a4a"/>
<rect x="217" y="271" width="1" height="1" fill="#4a4a4a"/>
<rect x="271" y="298" width="1" height="1" fill="#4a4a4a"/>
<rect x="266" y="301" width="1" height="1" fill="#4a4a4a"/>
<rect x="254" y="293" width="1" height="1" fill="#4a4a4a"/>
<rect x="265" y="293" width="1" height="1" fill="#4a4a4a"/>
<rect x="258" y="295" width="1" height="1" fill="#4a4a4a"/>
<rect x="267" y="300" width="1" height="1" fill="#4a4a4a"/>
<rect x="265" y="307" width="1" height="1" fill="#4a4a4a"/>
<rect x="262" y="312" width="1" height="1" fill="#4a4a4a"/>
<rect x="268" y="294" width="1" height="1" fill="#4a4a4a"/>
<rect x="265" y="291" width="1" height="1" fill="#4a4a4a"/>
<rect x="269" y="302" width="1" height="1" fill="#4a4a4a"/>
<rect x="261" y="299" width="1" height="1" fill="#4a4a4a"/>
<rect x="258" y="304" width="1" height="1" fill="#4a4a4a"/>
<rect x="262" y="298" width="1" height="1" fill="#4a4a4a"/>
<rect x="265" y="306" width="1" height="1" fill="#4a4a4a"/>
<rect x="262" y="295" width="1" height="1" fill="#4a4a4a"/>
<rect x="262" y="297" width="1" height="1" fill="#4a4a4a"/>
<rect x="271" y="302" width="1" height="1" fill="#4a4a4a"/>
<rect x="257" y="295" width="1" height="1" fill="#4a4a4a"/>
<rect x="266" y="301" width="1" height="1" fill="#4a4a4a"/>
<rect x="267" y="291" width="1" height="1" fill="#4a4a4a"/>
<rect x="264" y="309" width="1" height="1" fill="#4a4a4a"/>
<rect x="270" y="300" width="1" height="1" fill="#4a4a4a"/>
<rect x="268" y="303" width="1" height="1" fill="#4a4a4a"/>
<rect x="265" y="306" width="1" height="1" fill="#4a4a4a"/>
<rect x="262" y="304" width="1" height="1" fill="#4a4a4a"/>
<rect x="268" y="299" width="1" height="1" fill="#4a4a4a"/>
<rect x="265" y="295" width="1" height="1" fill="#4a4a4a"/>
<rect x="262" y="300" width="1" height="1" fill="#4a4a4a"/>
<rect x="263" y="310" width="1" height="1" fill="#4a4a4a"/>
<rect x="266" y="299" width="1" height="1" fill="#4a4a4a"/>
<rect x="263" y="302" width="1" height="1" fill="#4a4a4a"/>
<rect x="267" y="303" width="1" height="1" fill="#4a4a4a"/>
<rect x="261" y="304" width="1" height="1" fill="#4a4a4a"/>
<rect x="256" y="292" width="1" height="1" fill="#4a4a4a"/>
<rect x="267" y="299" width="1" height="1" fill="#4a4a4a"/>
<rect x="262" y="293" width="1" height="1" fill="#4a4a4a"/>
<rect x="258" y="309" width="1" height="1" fill="#4a4a4a"/>
<rect x="257" y="305" width="1" height="1" fill="#4a4a4a"/>
<rect x="261" y="304" width="1" height="1" fill="#4a4a4a"/>
<rect x="262" y="301" width="1" height="1" fill="#4a4a4a"/>
<rect x="264" y="304" width="1" height="1" fill="#4a4a4a"/>
<rect x="264" y="300" width="1" height="1" fill="#4a4a4a"/>
<rect x="261" y="303" width="1" height="1" fill="#4a4a4a"/>
<rect x="276" y="306" width="1" height="1" fill="#4a4a4a"/>
<rect x="262" y="303" width="1" height="1" fill="#4a4a4a"/>
<rect x="244" y="310" width="1" height="1" fill="#4a4a4a"/>
<rect x="270" y="294" width="1" height="1" fill="#4a4a4a"/>
<rect x="266" y="300" width="1" height="1" fill="#4a4a4a"/>
<rect x="274" y="306" width="1" height="1" fill="#4a4a4a"/>
<rect x="262" y="301" width="1" height="1" fill="#4a4a4a"/>
<rect x="267" y="295" width="1" height="1" fill="#4a4a4a"/>
<rect x="267" y="302" width="1" height="1" fill="#4a4a4a"/>
<rect x="274" y="299" width="1" height="1" fill="#4a4a4a"/>
<rect x="263" y="296" width="1" height="1" fill="#4a4a4a"/>
<rect x="270" y="302" width="1" height="1" fill="#4a4a4a"/>
<rect x="271" y="293" width="1" height="1" fill="#4a4a4a"/>
<rect x="264" y="303" width="1" height="1" fill="#4a4a4a"/>
<rect x="265" y="299" width="1" height="1" fill="#4a4a4a"/>
<rect x="261" y="295" width="1" height="1" fill="#4a4a4a"/>
<rect x="261" y="297" width="1" height="1" fill="#4a4a4a"/>
<rect x="268" y="303" width="1" height="1" fill="#4a4a4a"/>
<rect x="260" y="303" width="1" height="1" fill="#4a4a4a"/>
<rect x="258" y="305" width="1" height="1" fill="#4a4a4a"/>
<rect x="261" y="303" width="1" height="1" fill="#4a4a4a"/>
<rect x="260" y="293" width="1" height="1" fill="#4a4a4a"/>
<rect x="266" y="302" width="1" height="1" fill="#4a4a4a"/>
<rect x="265" y="295" width="1" height="1" fill="#4a4a4a"/>
<rect x="264" y="291" width="1" height="1" fill="#4a4a4a"/>
<rect x="275" y="304" width="1" height="1" fill="#4a4a4a"/>
<rect x="268" y="295" width="1" height="1" fill="#4a4a4a"/>
<rect x="267" y="302" width="1" height="1" fill="#4a4a4a"/>
<rect x="269" y="307" width="1" height="1" fill="#4a4a4a"/>
<rect x="260" y="304" width="1" height="1" fill="#4a4a4a"/>
<rect x="264" y="296" width="1" height="1" fill="#4a4a4a"/>
<rect x="264" y="301" width="1" height="1" fill="#4a4a4a"/>
<rect x="269" y="295" width="1" height="1" fill="#4a4a4a"/>
<rect x="258" y="307" width="1" height="1" fill="#4a4a4a"/>
<rect x="263" y="294" width="1" height="1" fill="#4a4a4a"/>
<rect x="264" y="290" width="1" height="1" fill="#4a4a4a"/>
<rect x="267" y="308" width="1" height="1" fill="#4a4a4a"/>
<rect x="261" y="297" width="1" height="1" fill="#4a4a4a"/>
<rect x="270" y="305" width="1" height="1" fill="#4a4a4a"/>
<rect x="261" y="302" width="1" height="1" fill="#4a4a4a"/>
<rect x="259" y="306" width="1" height="1" fill="#4a4a4a"/>
<rect x="261" y="301" width="1" height="1" fill="#4a4a4a"/>
<rect x="272" y="293" width="1" height="1" fill="#4a4a4a"/>
<rect x="252" y="284" width="1" height="1" fill="#4a4a4a"/>
<rect x="260" y="309" width="1" height="1" fill="#4a4a4a"/>
<rect x="266" y="299" width="1" height="1" fill="#4a4a4a"/>
<rect x="255" y="290" width="1" height="1" fill="#4a4a4a"/>
<rect x="266" y="299" width="1" height="1" fill="#4a4a4a"/>
<rect x="259" y="292" width="1" height="1" fill="#4a4a4a"/>
<rect x="261" y="303" width="1" height="1" fill="#4a4a4a"/>
<rect x="253" y="307" width="1" height="1" fill="#4a4a4a"/>
<rect x="266" y="301" width="1" height="1" fill="#4a4a4a"/>
<rect x="262" y="294" width="1" height="1" fill="#4a4a4a"/>
<rect x="271" y="301" width="1" height="1" fill="#4a4a4a"/>
<rect x="266" y="304" width="1" height="1" fill="#4a4a4a"/>
<rect x="260" y="303" width="1" height="1" fill="#4a4a4a"/>
<rect x="261" y="293" width="1" height="1" fill="#4a4a4a"/>
<rect x="262" y="297" width="1" height="1" fill="#4a4a4a"/>
<rect x="269" y="299" width="1" height="1" fill="#4a4a4a"/>
<rect x="269" y="299" width="1" height="1" fill="#4a4a4a"/>
<rect x="257" y="305" width="1" height="1" fill="#4a4a4a"/>
<rect x="268" y="297" width="1" height="1" fill="#4a4a4a"/>
<rect x="262" y="309" width="1" height="1" fill="#4a4a4a"/>
<rect x="271" y="296" width="1" height="1" fill="#4a4a4a"/>
<rect x="257" y="305" width="1" height="1" fill="#4a4a4a"/>
<rect x="279" y="297" width="1" height="1" fill="#4a4a4a"/>
<rect x="265" y="298" width="1" height="1" fill="#4a4a4a"/>
<rect x="263" y="296" width="1" height="1" fill="#4a4a4a"/>
<rect x="263" y="304" width="1" height="1" fill="#4a4a4a"/>
<rect x="207" y="283" width="1" height="1" fill="#4a4a4a"/>
<rect x="230" y="285" width="1" height="1" fill="#4a4a4a"/>
<rect x="236" y="286" width="1" height="1" fill="#4a4a4a"/>
<rect x="227" y="288" width="1" height="1" fill="#4a4a4a"/>
<rect x="219" y="287" width="1" height="1" fill="#4a4a4a"/>
<rect x="204" y="289" width="1" height="1" fill="#4a4a4a"/>
<rect x="242" y="288" width="1" height="1" fill="#4a4a4a"/>
<rect x="236" y="286" width="1" height="1" fill="#4a4a4a"/>
<rect x="208" y="287" width="1" height="1" fill="#4a4a4a"/>
<rect x="219" y="287" width="1" height="1" fill="#4a4a4a"/>
<rect x="232" y="288" width="1" height="1" fill="#4a4a4a"/>
<rect x="203" y="286" width="1" height="1" fill="#4a4a4a"/>
<rect x="245" y="289" width="1" height="1" fill="#4a4a4a"/>
<rect x="221" y="287" width="1" height="1" fill="#4a4a4a"/>
<rect x="211" y="287" width="1" height="1" fill="#4a4a4a"/>
<rect x="233" y="287" width="1" height="1" fill="#4a4a4a"/>
<rect x="240" y="283" width="1" height="1" fill="#4a4a4a"/>
<rect x="216" y="285" width="1" height="1" fill="#4a4a4a"/>
<rect x="237" y="286" width="1" height="1" fill="#4a4a4a"/>
<rect x="206" y="289" width="1" height="1" fill="#4a4a4a"/>
<rect x="222" y="286" width="1" height="1" fill="#4a4a4a"/>
<rect x="225" y="288" width="1" height="1" fill="#4a4a4a"/>
<rect x="221" y="288" width="1" height="1" fill="#4a4a4a"/>
<rect x="227" y="285" width="1" height="1" fill="#4a4a4a"/>
<rect x="226" y="286" width="1" height="1" fill="#4a4a4a"/>
<rect x="207" y="288" width="1" height="1" fill="#4a4a4a"/>
<rect x="212" y="290" width="1" height="1" fill="#4a4a4a"/>
<rect x="202" y="289" width="1" height="1" fill="#4a4a4a"/>
<rect x="216" y="288" width="1" height="1" fill="#4a4a4a"/>
<rect x="220" y="287" width="1" height="1" fill="#4a4a4a"/>
<rect x="235" y="287" width="1" height="1" fill="#4a4a4a"/>
<rect x="221" y="289" width="1" height="1" fill="#4a4a4a"/>
<rect x="211" y="287" width="1" height="1" fill="#4a4a4a"/>
<rect x="222" y="287" width="1" height="1" fill="#4a4a4a"/>
<rect x="230" y="287" width="1" height="1" fill="#4a4a4a"/>
<rect x="244" y="289" width="1" height="1" fill="#4a4a4a"/>
<rect x="225" y="285" width="1" height="1" fill="#4a4a4a"/>
<rect x="227" y="284" width="1" height="1" fill="#4a4a4a"/>
<rect x="250" y="286" width="1" height="1" fill="#4a4a4a"/>
<rect x="220" y="285" width="1" height="1" fill="#4a4a4a"/>
<rect x="205" y="291" width="1" height="1" fill="#4a4a4a"/>
<rect x="203" y="288" width="1" height="1" fill="#4a4a4a"/>
<rect x="215" y="288" width="1" height="1" fill="#4a4a4a"/>
<rect x="218" y="289" width="1" height="1" fill="#4a4a4a"/>
<rect x="219" y="288" width="1" height="1" fill="#4a4a4a"/>
<rect x="225" y="288" width="1" height="1" fill="#4a4a4a"/>
<rect x="216" y="285" width="1" height="1" fill="#4a4a4a"/>
<rect x="201" y="286" width="1" height="1" fill="#4a4a4a"/>
<rect x="215" y="287" width="1" height="1" fill="#4a4a4a"/>
<rect x="242" y="288" width="1" height="1" fill="#4a4a4a"/>
<rect x="234" y="286" width="1" height="1" fill="#4a4a4a"/>
<rect x="228" y="287" width="1" height="1" fill="#4a4a4a"/>
<rect x="233" y="288" width="1" height="1" fill="#4a4a4a"/>
<rect x="218" y="285" width="1" height="1" fill="#4a4a4a"/>
<rect x="219" y="287" width="1" height="1" fill="#4a4a4a"/>
<rect x="229" y="287" width="1" height="1" fill="#4a4a4a"/>
<rect x="243" y="288" width="1" height="1" fill="#4a4a4a"/>
<rect x="222" y="283" width="1" height="1" fill="#4a4a4a"/>
<rect x="219" y="287" width="1" height="1" fill="#4a4a4a"/>
<rect x="215" y="287" width="1" height="1" fill="#4a4a4a"/>
<rect x="239" y="287" width="1" height="1" fill="#4a4a4a"/>
<rect x="216" y="285" width="1" height="1" fill="#4a4a4a"/>
<rect x="222" y="289" width="1" height="1" fill="#4a4a4a"/>
<rect x="227" y="288" width="1" height="1" fill="#4a4a4a"/>
<rect x="245" y="284" width="1" height="1" fill="#4a4a4a"/>
<rect x="234" y="287" width="1" height="1" fill="#4a4a4a"/>
<rect x="228" y="288" width="1" height="1" fill="#4a4a4a"/>
<rect x="220" y="287" width="1" height="1" fill="#4a4a4a"/>
<rect x="201" y="288" width="1" height="1" fill="#4a4a4a"/>
<rect x="219" y="289" width="1" height="1" fill="#4a4a4a"/>
<rect x="218" y="286" width="1" height="1" fill="#4a4a4a"/>
<rect x="226" y="289" width="1" height="1" fill="#4a4a4a"/>
<rect x="205" y="293" width="1" height="1" fill="#4a4a4a"/>
<rect x="223" y="285" width="1" height="1" fill="#4a4a4a"/>
<rect x="232" y="285" width="1" height="1" fill="#4a4a4a"/>
<rect x="230" y="287" width="1" height="1" fill="#4a4a4a"/>
<rect x="232" y="287" width="1" height="1" fill="#4a4a4a"/>
<rect x="225" y="287" width="1" height="1" fill="#4a4a4a"/>
<rect x="205" y="287" width="1" height="1" fill="#4a4a4a"/>
<rect x="218" y="286" width="1" height="1" fill="#4a4a4a"/>
<rect x="225" y="286" width="1" height="1" fill="#4a4a4a"/>
<rect x="215" y="288" width="1" height="1" fill="#4a4a4a"/>
<rect x="210" y="289" width="1" height="1" fill="#4a4a4a"/>
<rect x="216" y="288" width="1" height="1" fill="#4a4a4a"/>
<rect x="214" y="287" width="1" height="1" fill="#4a4a4a"/>
<rect x="218" y="288" width="1" height="1" fill="#4a4a4a"/>
<rect x="228" y="287" width="1" height="1" fill="#4a4a4a"/>
<rect x="236" y="286" width="1" height="1" fill="#4a4a4a"/>
<rect x="220" y="284" width="1" height="1" fill="#4a4a4a"/>
<rect x="211" y="286" width="1" height="1" fill="#4a4a4a"/>
<rect x="235" y="282" width="1" height="1" fill="#4a4a4a"/>
<rect x="226" y="287" width="1" height="1" fill="#4a4a4a"/>
<rect x="240" y="289" width="1" height="1" fill="#4a4a4a"/>
<rect x="232" y="288" width="1" height="1" fill="#4a4a4a"/>
<rect x="205" y="288" width="1" height="1" fill="#4a4a4a"/>
<rect x="211" y="288" width="1" height="1" fill="#4a4a4a"/>
<rect x="208" y="286" width="1" height="1" fill="#4a4a4a"/>
<rect x="218" y="286" width="1" height="1" fill="#4a4a4a"/>
<rect x="219" y="287" width="1" height="1" fill="#4a4a4a"/>
<rect x="206" y="286" width="1" height="1" fill="#4a4a4a"/>
<rect x="268" y="282" width="1" height="1" fill="#4a4a4a"/>
<rect x="234" y="287" width="1" height="1" fill="#4a4a4a"/>
<rect x="259" y="282" width="1" height="1" fill="#4a4a4a"/>
<rect x="256" y="276" width="1" height="1" fill="#4a4a4a"/>
<rect x="247" y="286" width="1" height="1" fill="#4a4a4a"/>
<rect x="261" y="274" width="1" height="1" fill="#4a4a4a"/>
<rect x="240" y="286" width="1" height="1" fill="#4a4a4a"/>
<rect x="244" y="275" width="1" height="1" fill="#4a4a4a"/>
<path d="M211,276.5 Q211,271.5 219,271.5 Q227,271.5 227.5,276 Q227,279.5 221.5,281.5 Q219.5,283 218,281.5 Q211.5,280 211,276.5 Z" fill="#fff" stroke="#111" stroke-width="1.0"/>
<ellipse cx="219.00" cy="276.20" rx="5.30" ry="3.20" fill="none" stroke="#000" stroke-width="0.85"/>
<ellipse cx="219.00" cy="276.10" rx="2.80" ry="1.70" fill="none" stroke="#000" stroke-width="0.85"/>
<path d="M198.4,289.5 L230,289 Q242,290.5 247,293 Q253,295 257,296 Q259.8,298 259.6,300.5 Q259.5,303.5 256.5,304.8 Q251,306 246,307.5 Q238,310 230,310.2 L198.4,310.2" fill="#fff" stroke="#111" stroke-width="0.85"/>
<path d="M199,290.6 Q222,288.6 236,291.5 Q241,295.5 243.7,299 Q241,302.5 236,306.5 Q222,309.6 199,308" fill="none" stroke="#111" stroke-width="0.8"/>
<path d="M198.4,295.5 Q202,297.5 202,299.5 Q202,301.5 198.4,303" fill="none" stroke="#111" stroke-width="0.75"/>
<ellipse cx="220.60" cy="298.90" rx="17.10" ry="10.40" fill="none" stroke="#000" stroke-width="1.0"/>
<ellipse cx="220.60" cy="298.90" rx="15.40" ry="10.00" fill="none" stroke="#000" stroke-width="1.0"/>
<ellipse cx="220.60" cy="298.90" rx="13.80" ry="9.40" fill="none" stroke="#000" stroke-width="1.0"/>
<ellipse cx="220.60" cy="298.90" rx="12.30" ry="8.80" fill="none" stroke="#000" stroke-width="1.0"/>
<ellipse cx="220.60" cy="298.90" rx="10.80" ry="8.00" fill="none" stroke="#000" stroke-width="1.0"/>
<ellipse cx="220.60" cy="298.90" rx="9.30" ry="7.00" fill="none" stroke="#000" stroke-width="1.0"/>
<ellipse cx="220.60" cy="298.90" rx="7.80" ry="5.90" fill="none" stroke="#000" stroke-width="1.0"/>
<ellipse cx="220.60" cy="298.90" rx="6.30" ry="4.80" fill="none" stroke="#000" stroke-width="1.0"/>
<ellipse cx="220.60" cy="298.90" rx="4.80" ry="3.70" fill="none" stroke="#000" stroke-width="1.0"/>
<ellipse cx="220.60" cy="298.90" rx="3.30" ry="2.50" fill="none" stroke="#000" stroke-width="1.0"/>
<ellipse cx="220.60" cy="298.90" rx="1.9" ry="1.4" fill="#fff" stroke="#222" stroke-width="0.8"/>
<rect x="314" y="272" width="1" height="1" fill="#4a4a4a"/>
<rect x="316" y="286" width="1" height="1" fill="#4a4a4a"/>
<rect x="316" y="288" width="1" height="1" fill="#4a4a4a"/>
<rect x="317" y="288" width="1" height="1" fill="#4a4a4a"/>
<rect x="319" y="285" width="1" height="1" fill="#4a4a4a"/>
<rect x="319" y="284" width="1" height="1" fill="#4a4a4a"/>
<rect x="314" y="281" width="1" height="1" fill="#4a4a4a"/>
<rect x="319" y="284" width="1" height="1" fill="#4a4a4a"/>
<rect x="313" y="280" width="1" height="1" fill="#4a4a4a"/>
<rect x="322" y="273" width="1" height="1" fill="#4a4a4a"/>
<rect x="321" y="271" width="1" height="1" fill="#4a4a4a"/>
<rect x="311" y="276" width="1" height="1" fill="#4a4a4a"/>
<rect x="315" y="280" width="1" height="1" fill="#4a4a4a"/>
<rect x="312" y="275" width="1" height="1" fill="#4a4a4a"/>
<rect x="317" y="286" width="1" height="1" fill="#4a4a4a"/>
<rect x="325" y="287" width="1" height="1" fill="#4a4a4a"/>
<rect x="320" y="275" width="1" height="1" fill="#4a4a4a"/>
<rect x="318" y="287" width="1" height="1" fill="#4a4a4a"/>
<rect x="318" y="276" width="1" height="1" fill="#4a4a4a"/>
<rect x="326" y="272" width="1" height="1" fill="#4a4a4a"/>
<rect x="318" y="283" width="1" height="1" fill="#4a4a4a"/>
<rect x="319" y="286" width="1" height="1" fill="#4a4a4a"/>
<rect x="324" y="276" width="1" height="1" fill="#4a4a4a"/>
<rect x="311" y="274" width="1" height="1" fill="#4a4a4a"/>
<rect x="323" y="288" width="1" height="1" fill="#4a4a4a"/>
<rect x="307" y="277" width="1" height="1" fill="#4a4a4a"/>
<rect x="312" y="288" width="1" height="1" fill="#4a4a4a"/>
<rect x="322" y="272" width="1" height="1" fill="#4a4a4a"/>
<rect x="324" y="286" width="1" height="1" fill="#4a4a4a"/>
<rect x="314" y="275" width="1" height="1" fill="#4a4a4a"/>
<rect x="322" y="275" width="1" height="1" fill="#4a4a4a"/>
<rect x="325" y="289" width="1" height="1" fill="#4a4a4a"/>
<rect x="314" y="280" width="1" height="1" fill="#4a4a4a"/>
<rect x="313" y="285" width="1" height="1" fill="#4a4a4a"/>
<rect x="314" y="281" width="1" height="1" fill="#4a4a4a"/>
<rect x="311" y="284" width="1" height="1" fill="#4a4a4a"/>
<rect x="312" y="281" width="1" height="1" fill="#4a4a4a"/>
<rect x="314" y="279" width="1" height="1" fill="#4a4a4a"/>
<rect x="326" y="275" width="1" height="1" fill="#4a4a4a"/>
<rect x="318" y="284" width="1" height="1" fill="#4a4a4a"/>
<rect x="316" y="285" width="1" height="1" fill="#4a4a4a"/>
<rect x="329" y="270" width="1" height="1" fill="#4a4a4a"/>
<rect x="327" y="271" width="1" height="1" fill="#4a4a4a"/>
<rect x="325" y="274" width="1" height="1" fill="#4a4a4a"/>
<rect x="328" y="288" width="1" height="1" fill="#4a4a4a"/>
<rect x="318" y="277" width="1" height="1" fill="#4a4a4a"/>
<rect x="310" y="276" width="1" height="1" fill="#4a4a4a"/>
<rect x="325" y="290" width="1" height="1" fill="#4a4a4a"/>
<rect x="316" y="280" width="1" height="1" fill="#4a4a4a"/>
<rect x="323" y="285" width="1" height="1" fill="#4a4a4a"/>
<rect x="322" y="276" width="1" height="1" fill="#4a4a4a"/>
<rect x="325" y="285" width="1" height="1" fill="#4a4a4a"/>
<rect x="321" y="275" width="1" height="1" fill="#4a4a4a"/>
<rect x="312" y="278" width="1" height="1" fill="#4a4a4a"/>
<rect x="320" y="277" width="1" height="1" fill="#4a4a4a"/>
<rect x="324" y="285" width="1" height="1" fill="#4a4a4a"/>
<rect x="318" y="271" width="1" height="1" fill="#4a4a4a"/>
<rect x="316" y="282" width="1" height="1" fill="#4a4a4a"/>
<rect x="318" y="283" width="1" height="1" fill="#4a4a4a"/>
<rect x="320" y="276" width="1" height="1" fill="#4a4a4a"/>
<rect x="317" y="287" width="1" height="1" fill="#4a4a4a"/>
<rect x="316" y="285" width="1" height="1" fill="#4a4a4a"/>
<rect x="316" y="276" width="1" height="1" fill="#4a4a4a"/>
<rect x="323" y="276" width="1" height="1" fill="#4a4a4a"/>
<rect x="321" y="286" width="1" height="1" fill="#4a4a4a"/>
<rect x="314" y="281" width="1" height="1" fill="#4a4a4a"/>
<rect x="320" y="275" width="1" height="1" fill="#4a4a4a"/>
<rect x="316" y="277" width="1" height="1" fill="#4a4a4a"/>
<rect x="317" y="286" width="1" height="1" fill="#4a4a4a"/>
<rect x="323" y="276" width="1" height="1" fill="#4a4a4a"/>
<rect x="321" y="285" width="1" height="1" fill="#4a4a4a"/>
<rect x="315" y="285" width="1" height="1" fill="#4a4a4a"/>
<rect x="317" y="275" width="1" height="1" fill="#4a4a4a"/>
<rect x="310" y="279" width="1" height="1" fill="#4a4a4a"/>
<rect x="324" y="285" width="1" height="1" fill="#4a4a4a"/>
<rect x="319" y="287" width="1" height="1" fill="#4a4a4a"/>
<rect x="313" y="283" width="1" height="1" fill="#4a4a4a"/>
<rect x="317" y="283" width="1" height="1" fill="#4a4a4a"/>
<rect x="324" y="273" width="1" height="1" fill="#4a4a4a"/>
<rect x="322" y="285" width="1" height="1" fill="#4a4a4a"/>
<rect x="320" y="276" width="1" height="1" fill="#4a4a4a"/>
<rect x="319" y="274" width="1" height="1" fill="#4a4a4a"/>
<rect x="316" y="283" width="1" height="1" fill="#4a4a4a"/>
<rect x="316" y="273" width="1" height="1" fill="#4a4a4a"/>
<rect x="316" y="281" width="1" height="1" fill="#4a4a4a"/>
<rect x="316" y="281" width="1" height="1" fill="#4a4a4a"/>
<rect x="309" y="286" width="1" height="1" fill="#4a4a4a"/>
<rect x="322" y="288" width="1" height="1" fill="#4a4a4a"/>
<rect x="326" y="271" width="1" height="1" fill="#4a4a4a"/>
<rect x="316" y="284" width="1" height="1" fill="#4a4a4a"/>
<rect x="318" y="277" width="1" height="1" fill="#4a4a4a"/>
<rect x="324" y="276" width="1" height="1" fill="#4a4a4a"/>
<rect x="317" y="276" width="1" height="1" fill="#4a4a4a"/>
<rect x="323" y="275" width="1" height="1" fill="#4a4a4a"/>
<rect x="306" y="283" width="1" height="1" fill="#4a4a4a"/>
<rect x="315" y="284" width="1" height="1" fill="#4a4a4a"/>
<rect x="325" y="275" width="1" height="1" fill="#4a4a4a"/>
<rect x="324" y="286" width="1" height="1" fill="#4a4a4a"/>
<rect x="326" y="287" width="1" height="1" fill="#4a4a4a"/>
<rect x="318" y="284" width="1" height="1" fill="#4a4a4a"/>
<rect x="315" y="280" width="1" height="1" fill="#4a4a4a"/>
<rect x="310" y="279" width="1" height="1" fill="#4a4a4a"/>
<rect x="314" y="280" width="1" height="1" fill="#4a4a4a"/>
<rect x="325" y="275" width="1" height="1" fill="#4a4a4a"/>
<rect x="324" y="286" width="1" height="1" fill="#4a4a4a"/>
<rect x="318" y="284" width="1" height="1" fill="#4a4a4a"/>
<rect x="306" y="280" width="1" height="1" fill="#4a4a4a"/>
<rect x="321" y="287" width="1" height="1" fill="#4a4a4a"/>
<rect x="320" y="287" width="1" height="1" fill="#4a4a4a"/>
<rect x="325" y="274" width="1" height="1" fill="#4a4a4a"/>
<rect x="317" y="278" width="1" height="1" fill="#4a4a4a"/>
<rect x="327" y="276" width="1" height="1" fill="#4a4a4a"/>
<rect x="328" y="279" width="1" height="1" fill="#4a4a4a"/>
<rect x="334" y="279" width="1" height="1" fill="#4a4a4a"/>
<rect x="317" y="283" width="1" height="1" fill="#4a4a4a"/>
<rect x="329" y="282" width="1" height="1" fill="#4a4a4a"/>
<rect x="322" y="275" width="1" height="1" fill="#4a4a4a"/>
<rect x="324" y="286" width="1" height="1" fill="#4a4a4a"/>
<rect x="324" y="276" width="1" height="1" fill="#4a4a4a"/>
<rect x="314" y="281" width="1" height="1" fill="#4a4a4a"/>
<rect x="326" y="286" width="1" height="1" fill="#4a4a4a"/>
<rect x="329" y="281" width="1" height="1" fill="#4a4a4a"/>
<rect x="322" y="285" width="1" height="1" fill="#4a4a4a"/>
<rect x="316" y="276" width="1" height="1" fill="#4a4a4a"/>
<rect x="316" y="276" width="1" height="1" fill="#4a4a4a"/>
<rect x="318" y="287" width="1" height="1" fill="#4a4a4a"/>
<rect x="312" y="276" width="1" height="1" fill="#4a4a4a"/>
<rect x="314" y="284" width="1" height="1" fill="#4a4a4a"/>
<rect x="319" y="285" width="1" height="1" fill="#4a4a4a"/>
<rect x="328" y="278" width="1" height="1" fill="#4a4a4a"/>
<rect x="331" y="272" width="1" height="1" fill="#4a4a4a"/>
<rect x="328" y="277" width="1" height="1" fill="#4a4a4a"/>
<rect x="332" y="280" width="1" height="1" fill="#4a4a4a"/>
<rect x="320" y="286" width="1" height="1" fill="#4a4a4a"/>
<rect x="323" y="288" width="1" height="1" fill="#4a4a4a"/>
<rect x="313" y="277" width="1" height="1" fill="#4a4a4a"/>
<rect x="320" y="290" width="1" height="1" fill="#4a4a4a"/>
<rect x="328" y="283" width="1" height="1" fill="#4a4a4a"/>
<rect x="305" y="273" width="1" height="1" fill="#4a4a4a"/>
<rect x="309" y="286" width="1" height="1" fill="#4a4a4a"/>
<rect x="308" y="280" width="1" height="1" fill="#4a4a4a"/>
<rect x="312" y="275" width="1" height="1" fill="#4a4a4a"/>
<rect x="312" y="272" width="1" height="1" fill="#4a4a4a"/>
<rect x="307" y="277" width="1" height="1" fill="#4a4a4a"/>
<rect x="313" y="273" width="1" height="1" fill="#4a4a4a"/>
<rect x="312" y="270" width="1" height="1" fill="#4a4a4a"/>
<rect x="320" y="289" width="1" height="1" fill="#4a4a4a"/>
<rect x="306" y="286" width="1" height="1" fill="#4a4a4a"/>
<rect x="307" y="273" width="1" height="1" fill="#4a4a4a"/>
<rect x="317" y="287" width="1" height="1" fill="#4a4a4a"/>
<rect x="309" y="275" width="1" height="1" fill="#4a4a4a"/>
<rect x="313" y="284" width="1" height="1" fill="#4a4a4a"/>
<rect x="304" y="278" width="1" height="1" fill="#4a4a4a"/>
<rect x="316" y="282" width="1" height="1" fill="#4a4a4a"/>
<rect x="327" y="285" width="1" height="1" fill="#4a4a4a"/>
<rect x="306" y="283" width="1" height="1" fill="#4a4a4a"/>
<rect x="300" y="284" width="1" height="1" fill="#4a4a4a"/>
<rect x="311" y="275" width="1" height="1" fill="#4a4a4a"/>
<rect x="311" y="282" width="1" height="1" fill="#4a4a4a"/>
<rect x="301" y="292" width="1" height="1" fill="#4a4a4a"/>
<rect x="302" y="279" width="1" height="1" fill="#4a4a4a"/>
<rect x="310" y="279" width="1" height="1" fill="#4a4a4a"/>
<rect x="310" y="279" width="1" height="1" fill="#4a4a4a"/>
<rect x="317" y="277" width="1" height="1" fill="#4a4a4a"/>
<rect x="311" y="287" width="1" height="1" fill="#4a4a4a"/>
<rect x="305" y="288" width="1" height="1" fill="#4a4a4a"/>
<rect x="346" y="295" width="1" height="1" fill="#4a4a4a"/>
<rect x="349" y="299" width="1" height="1" fill="#4a4a4a"/>
<rect x="350" y="305" width="1" height="1" fill="#4a4a4a"/>
<rect x="360" y="301" width="1" height="1" fill="#4a4a4a"/>
<rect x="359" y="301" width="1" height="1" fill="#4a4a4a"/>
<rect x="348" y="299" width="1" height="1" fill="#4a4a4a"/>
<rect x="353" y="295" width="1" height="1" fill="#4a4a4a"/>
<rect x="347" y="311" width="1" height="1" fill="#4a4a4a"/>
<rect x="366" y="290" width="1" height="1" fill="#4a4a4a"/>
<rect x="357" y="299" width="1" height="1" fill="#4a4a4a"/>
<rect x="349" y="304" width="1" height="1" fill="#4a4a4a"/>
<rect x="342" y="291" width="1" height="1" fill="#4a4a4a"/>
<rect x="351" y="300" width="1" height="1" fill="#4a4a4a"/>
<rect x="354" y="296" width="1" height="1" fill="#4a4a4a"/>
<rect x="346" y="299" width="1" height="1" fill="#4a4a4a"/>
<rect x="351" y="305" width="1" height="1" fill="#4a4a4a"/>
<rect x="351" y="287" width="1" height="1" fill="#4a4a4a"/>
<rect x="346" y="296" width="1" height="1" fill="#4a4a4a"/>
<rect x="352" y="286" width="1" height="1" fill="#4a4a4a"/>
<rect x="352" y="304" width="1" height="1" fill="#4a4a4a"/>
<rect x="354" y="296" width="1" height="1" fill="#4a4a4a"/>
<rect x="338" y="293" width="1" height="1" fill="#4a4a4a"/>
<rect x="346" y="311" width="1" height="1" fill="#4a4a4a"/>
<rect x="358" y="307" width="1" height="1" fill="#4a4a4a"/>
<rect x="349" y="303" width="1" height="1" fill="#4a4a4a"/>
<rect x="360" y="303" width="1" height="1" fill="#4a4a4a"/>
<rect x="350" y="296" width="1" height="1" fill="#4a4a4a"/>
<rect x="347" y="298" width="1" height="1" fill="#4a4a4a"/>
<rect x="360" y="295" width="1" height="1" fill="#4a4a4a"/>
<rect x="351" y="305" width="1" height="1" fill="#4a4a4a"/>
<rect x="354" y="311" width="1" height="1" fill="#4a4a4a"/>
<rect x="350" y="299" width="1" height="1" fill="#4a4a4a"/>
<rect x="360" y="297" width="1" height="1" fill="#4a4a4a"/>
<rect x="350" y="294" width="1" height="1" fill="#4a4a4a"/>
<rect x="353" y="300" width="1" height="1" fill="#4a4a4a"/>
<rect x="348" y="299" width="1" height="1" fill="#4a4a4a"/>
<rect x="345" y="306" width="1" height="1" fill="#4a4a4a"/>
<rect x="352" y="302" width="1" height="1" fill="#4a4a4a"/>
<rect x="349" y="295" width="1" height="1" fill="#4a4a4a"/>
<rect x="354" y="311" width="1" height="1" fill="#4a4a4a"/>
<rect x="360" y="304" width="1" height="1" fill="#4a4a4a"/>
<rect x="346" y="303" width="1" height="1" fill="#4a4a4a"/>
<rect x="349" y="299" width="1" height="1" fill="#4a4a4a"/>
<rect x="354" y="304" width="1" height="1" fill="#4a4a4a"/>
<rect x="343" y="295" width="1" height="1" fill="#4a4a4a"/>
<rect x="353" y="303" width="1" height="1" fill="#4a4a4a"/>
<rect x="351" y="294" width="1" height="1" fill="#4a4a4a"/>
<rect x="352" y="297" width="1" height="1" fill="#4a4a4a"/>
<rect x="358" y="296" width="1" height="1" fill="#4a4a4a"/>
<rect x="352" y="301" width="1" height="1" fill="#4a4a4a"/>
<rect x="341" y="289" width="1" height="1" fill="#4a4a4a"/>
<rect x="351" y="295" width="1" height="1" fill="#4a4a4a"/>
<rect x="351" y="312" width="1" height="1" fill="#4a4a4a"/>
<rect x="360" y="308" width="1" height="1" fill="#4a4a4a"/>
<rect x="346" y="297" width="1" height="1" fill="#4a4a4a"/>
<rect x="348" y="300" width="1" height="1" fill="#4a4a4a"/>
<rect x="348" y="292" width="1" height="1" fill="#4a4a4a"/>
<rect x="355" y="300" width="1" height="1" fill="#4a4a4a"/>
<rect x="359" y="301" width="1" height="1" fill="#4a4a4a"/>
<rect x="356" y="304" width="1" height="1" fill="#4a4a4a"/>
<rect x="349" y="302" width="1" height="1" fill="#4a4a4a"/>
<rect x="348" y="291" width="1" height="1" fill="#4a4a4a"/>
<rect x="343" y="293" width="1" height="1" fill="#4a4a4a"/>
<rect x="346" y="298" width="1" height="1" fill="#4a4a4a"/>
<rect x="340" y="284" width="1" height="1" fill="#4a4a4a"/>
<rect x="343" y="306" width="1" height="1" fill="#4a4a4a"/>
<rect x="358" y="296" width="1" height="1" fill="#4a4a4a"/>
<rect x="359" y="304" width="1" height="1" fill="#4a4a4a"/>
<rect x="347" y="294" width="1" height="1" fill="#4a4a4a"/>
<rect x="345" y="297" width="1" height="1" fill="#4a4a4a"/>
<rect x="349" y="292" width="1" height="1" fill="#4a4a4a"/>
<rect x="357" y="293" width="1" height="1" fill="#4a4a4a"/>
<rect x="351" y="307" width="1" height="1" fill="#4a4a4a"/>
<rect x="348" y="305" width="1" height="1" fill="#4a4a4a"/>
<rect x="347" y="300" width="1" height="1" fill="#4a4a4a"/>
<rect x="346" y="297" width="1" height="1" fill="#4a4a4a"/>
<rect x="359" y="296" width="1" height="1" fill="#4a4a4a"/>
<rect x="353" y="296" width="1" height="1" fill="#4a4a4a"/>
<rect x="356" y="305" width="1" height="1" fill="#4a4a4a"/>
<rect x="350" y="298" width="1" height="1" fill="#4a4a4a"/>
<rect x="346" y="296" width="1" height="1" fill="#4a4a4a"/>
<rect x="362" y="304" width="1" height="1" fill="#4a4a4a"/>
<rect x="347" y="301" width="1" height="1" fill="#4a4a4a"/>
<rect x="352" y="308" width="1" height="1" fill="#4a4a4a"/>
<rect x="355" y="300" width="1" height="1" fill="#4a4a4a"/>
<rect x="344" y="292" width="1" height="1" fill="#4a4a4a"/>
<rect x="350" y="310" width="1" height="1" fill="#4a4a4a"/>
<rect x="351" y="302" width="1" height="1" fill="#4a4a4a"/>
<rect x="345" y="298" width="1" height="1" fill="#4a4a4a"/>
<rect x="361" y="301" width="1" height="1" fill="#4a4a4a"/>
<rect x="357" y="298" width="1" height="1" fill="#4a4a4a"/>
<rect x="356" y="303" width="1" height="1" fill="#4a4a4a"/>
<rect x="341" y="287" width="1" height="1" fill="#4a4a4a"/>
<rect x="354" y="298" width="1" height="1" fill="#4a4a4a"/>
<rect x="346" y="305" width="1" height="1" fill="#4a4a4a"/>
<rect x="348" y="295" width="1" height="1" fill="#4a4a4a"/>
<rect x="352" y="306" width="1" height="1" fill="#4a4a4a"/>
<rect x="345" y="295" width="1" height="1" fill="#4a4a4a"/>
<rect x="358" y="302" width="1" height="1" fill="#4a4a4a"/>
<rect x="363" y="303" width="1" height="1" fill="#4a4a4a"/>
<rect x="345" y="297" width="1" height="1" fill="#4a4a4a"/>
<rect x="353" y="300" width="1" height="1" fill="#4a4a4a"/>
<rect x="347" y="299" width="1" height="1" fill="#4a4a4a"/>
<rect x="347" y="304" width="1" height="1" fill="#4a4a4a"/>
<rect x="347" y="305" width="1" height="1" fill="#4a4a4a"/>
<rect x="351" y="307" width="1" height="1" fill="#4a4a4a"/>
<rect x="348" y="301" width="1" height="1" fill="#4a4a4a"/>
<rect x="347" y="301" width="1" height="1" fill="#4a4a4a"/>
<rect x="350" y="299" width="1" height="1" fill="#4a4a4a"/>
<rect x="359" y="298" width="1" height="1" fill="#4a4a4a"/>
<rect x="343" y="296" width="1" height="1" fill="#4a4a4a"/>
<rect x="350" y="295" width="1" height="1" fill="#4a4a4a"/>
<rect x="347" y="297" width="1" height="1" fill="#4a4a4a"/>
<rect x="353" y="299" width="1" height="1" fill="#4a4a4a"/>
<rect x="354" y="305" width="1" height="1" fill="#4a4a4a"/>
<rect x="350" y="296" width="1" height="1" fill="#4a4a4a"/>
<rect x="346" y="308" width="1" height="1" fill="#4a4a4a"/>
<rect x="358" y="294" width="1" height="1" fill="#4a4a4a"/>
<rect x="351" y="296" width="1" height="1" fill="#4a4a4a"/>
<rect x="363" y="300" width="1" height="1" fill="#4a4a4a"/>
<rect x="349" y="295" width="1" height="1" fill="#4a4a4a"/>
<rect x="354" y="293" width="1" height="1" fill="#4a4a4a"/>
<rect x="351" y="291" width="1" height="1" fill="#4a4a4a"/>
<rect x="346" y="303" width="1" height="1" fill="#4a4a4a"/>
<rect x="346" y="305" width="1" height="1" fill="#4a4a4a"/>
<rect x="327" y="287" width="1" height="1" fill="#4a4a4a"/>
<rect x="314" y="290" width="1" height="1" fill="#4a4a4a"/>
<rect x="348" y="290" width="1" height="1" fill="#4a4a4a"/>
<rect x="304" y="287" width="1" height="1" fill="#4a4a4a"/>
<rect x="300" y="286" width="1" height="1" fill="#4a4a4a"/>
<rect x="326" y="284" width="1" height="1" fill="#4a4a4a"/>
<rect x="320" y="289" width="1" height="1" fill="#4a4a4a"/>
<rect x="317" y="289" width="1" height="1" fill="#4a4a4a"/>
<rect x="359" y="286" width="1" height="1" fill="#4a4a4a"/>
<rect x="317" y="287" width="1" height="1" fill="#4a4a4a"/>
<rect x="348" y="282" width="1" height="1" fill="#4a4a4a"/>
<rect x="342" y="290" width="1" height="1" fill="#4a4a4a"/>
<rect x="323" y="286" width="1" height="1" fill="#4a4a4a"/>
<rect x="335" y="291" width="1" height="1" fill="#4a4a4a"/>
<rect x="334" y="291" width="1" height="1" fill="#4a4a4a"/>
<rect x="316" y="289" width="1" height="1" fill="#4a4a4a"/>
<rect x="303" y="287" width="1" height="1" fill="#4a4a4a"/>
<rect x="318" y="284" width="1" height="1" fill="#4a4a4a"/>
<rect x="329" y="288" width="1" height="1" fill="#4a4a4a"/>
<rect x="313" y="286" width="1" height="1" fill="#4a4a4a"/>
<rect x="328" y="287" width="1" height="1" fill="#4a4a4a"/>
<rect x="338" y="288" width="1" height="1" fill="#4a4a4a"/>
<rect x="320" y="289" width="1" height="1" fill="#4a4a4a"/>
<rect x="342" y="289" width="1" height="1" fill="#4a4a4a"/>
<rect x="327" y="289" width="1" height="1" fill="#4a4a4a"/>
<rect x="309" y="291" width="1" height="1" fill="#4a4a4a"/>
<rect x="334" y="288" width="1" height="1" fill="#4a4a4a"/>
<rect x="348" y="288" width="1" height="1" fill="#4a4a4a"/>
<rect x="323" y="289" width="1" height="1" fill="#4a4a4a"/>
<rect x="315" y="289" width="1" height="1" fill="#4a4a4a"/>
<rect x="325" y="290" width="1" height="1" fill="#4a4a4a"/>
<rect x="336" y="290" width="1" height="1" fill="#4a4a4a"/>
<rect x="319" y="288" width="1" height="1" fill="#4a4a4a"/>
<rect x="348" y="290" width="1" height="1" fill="#4a4a4a"/>
<rect x="340" y="285" width="1" height="1" fill="#4a4a4a"/>
<rect x="300" y="291" width="1" height="1" fill="#4a4a4a"/>
<rect x="327" y="285" width="1" height="1" fill="#4a4a4a"/>
<rect x="340" y="288" width="1" height="1" fill="#4a4a4a"/>
<rect x="344" y="290" width="1" height="1" fill="#4a4a4a"/>
<rect x="337" y="290" width="1" height="1" fill="#4a4a4a"/>
<rect x="320" y="288" width="1" height="1" fill="#4a4a4a"/>
<rect x="353" y="288" width="1" height="1" fill="#4a4a4a"/>
<rect x="317" y="289" width="1" height="1" fill="#4a4a4a"/>
<rect x="331" y="287" width="1" height="1" fill="#4a4a4a"/>
<rect x="348" y="287" width="1" height="1" fill="#4a4a4a"/>
<rect x="305" y="286" width="1" height="1" fill="#4a4a4a"/>
<rect x="337" y="288" width="1" height="1" fill="#4a4a4a"/>
<rect x="322" y="286" width="1" height="1" fill="#4a4a4a"/>
<rect x="323" y="288" width="1" height="1" fill="#4a4a4a"/>
<rect x="329" y="287" width="1" height="1" fill="#4a4a4a"/>
<rect x="331" y="290" width="1" height="1" fill="#4a4a4a"/>
<rect x="337" y="290" width="1" height="1" fill="#4a4a4a"/>
<rect x="317" y="286" width="1" height="1" fill="#4a4a4a"/>
<rect x="322" y="289" width="1" height="1" fill="#4a4a4a"/>
<rect x="304" y="289" width="1" height="1" fill="#4a4a4a"/>
<rect x="331" y="288" width="1" height="1" fill="#4a4a4a"/>
<rect x="316" y="289" width="1" height="1" fill="#4a4a4a"/>
<rect x="319" y="289" width="1" height="1" fill="#4a4a4a"/>
<rect x="337" y="290" width="1" height="1" fill="#4a4a4a"/>
<rect x="306" y="288" width="1" height="1" fill="#4a4a4a"/>
<rect x="318" y="289" width="1" height="1" fill="#4a4a4a"/>
<rect x="315" y="289" width="1" height="1" fill="#4a4a4a"/>
<rect x="327" y="288" width="1" height="1" fill="#4a4a4a"/>
<rect x="330" y="285" width="1" height="1" fill="#4a4a4a"/>
<rect x="303" y="290" width="1" height="1" fill="#4a4a4a"/>
<rect x="324" y="288" width="1" height="1" fill="#4a4a4a"/>
<rect x="331" y="290" width="1" height="1" fill="#4a4a4a"/>
<rect x="328" y="288" width="1" height="1" fill="#4a4a4a"/>
<rect x="315" y="290" width="1" height="1" fill="#4a4a4a"/>
<rect x="337" y="288" width="1" height="1" fill="#4a4a4a"/>
<rect x="328" y="286" width="1" height="1" fill="#4a4a4a"/>
<rect x="315" y="287" width="1" height="1" fill="#4a4a4a"/>
<rect x="327" y="289" width="1" height="1" fill="#4a4a4a"/>
<rect x="324" y="287" width="1" height="1" fill="#4a4a4a"/>
<rect x="315" y="283" width="1" height="1" fill="#4a4a4a"/>
<rect x="313" y="290" width="1" height="1" fill="#4a4a4a"/>
<rect x="332" y="288" width="1" height="1" fill="#4a4a4a"/>
<rect x="309" y="287" width="1" height="1" fill="#4a4a4a"/>
<rect x="325" y="288" width="1" height="1" fill="#4a4a4a"/>
<rect x="344" y="289" width="1" height="1" fill="#4a4a4a"/>
<rect x="301" y="290" width="1" height="1" fill="#4a4a4a"/>
<rect x="318" y="285" width="1" height="1" fill="#4a4a4a"/>
<rect x="339" y="289" width="1" height="1" fill="#4a4a4a"/>
<rect x="312" y="284" width="1" height="1" fill="#4a4a4a"/>
<rect x="300" y="291" width="1" height="1" fill="#4a4a4a"/>
<rect x="305" y="290" width="1" height="1" fill="#4a4a4a"/>
<rect x="320" y="286" width="1" height="1" fill="#4a4a4a"/>
<rect x="340" y="291" width="1" height="1" fill="#4a4a4a"/>
<rect x="330" y="288" width="1" height="1" fill="#4a4a4a"/>
<rect x="334" y="287" width="1" height="1" fill="#4a4a4a"/>
<rect x="316" y="284" width="1" height="1" fill="#4a4a4a"/>
<rect x="331" y="290" width="1" height="1" fill="#4a4a4a"/>
<rect x="321" y="286" width="1" height="1" fill="#4a4a4a"/>
<rect x="338" y="290" width="1" height="1" fill="#4a4a4a"/>
<rect x="347" y="289" width="1" height="1" fill="#4a4a4a"/>
<rect x="339" y="288" width="1" height="1" fill="#4a4a4a"/>
<rect x="323" y="289" width="1" height="1" fill="#4a4a4a"/>
<rect x="322" y="288" width="1" height="1" fill="#4a4a4a"/>
<rect x="331" y="289" width="1" height="1" fill="#4a4a4a"/>
<rect x="338" y="288" width="1" height="1" fill="#4a4a4a"/>
<rect x="335" y="285" width="1" height="1" fill="#4a4a4a"/>
<rect x="348" y="278" width="1" height="1" fill="#4a4a4a"/>
<rect x="360" y="277" width="1" height="1" fill="#4a4a4a"/>
<rect x="366" y="273" width="1" height="1" fill="#4a4a4a"/>
<rect x="355" y="285" width="1" height="1" fill="#4a4a4a"/>
<rect x="365" y="283" width="1" height="1" fill="#4a4a4a"/>
<rect x="351" y="278" width="1" height="1" fill="#4a4a4a"/>
<rect x="348" y="285" width="1" height="1" fill="#4a4a4a"/>
<rect x="354" y="283" width="1" height="1" fill="#4a4a4a"/>
<rect x="365" y="273" width="1" height="1" fill="#4a4a4a"/>
<rect x="346" y="282" width="1" height="1" fill="#4a4a4a"/>
<rect x="351" y="281" width="1" height="1" fill="#4a4a4a"/>
<rect x="353" y="271" width="1" height="1" fill="#4a4a4a"/>
<rect x="356" y="277" width="1" height="1" fill="#4a4a4a"/>
<rect x="342" y="283" width="1" height="1" fill="#4a4a4a"/>
<rect x="345" y="285" width="1" height="1" fill="#4a4a4a"/>
<rect x="360" y="284" width="1" height="1" fill="#4a4a4a"/>
<rect x="353" y="283" width="1" height="1" fill="#4a4a4a"/>
<rect x="353" y="286" width="1" height="1" fill="#4a4a4a"/>
<rect x="356" y="285" width="1" height="1" fill="#4a4a4a"/>
<rect x="361" y="282" width="1" height="1" fill="#4a4a4a"/>
<rect x="345" y="285" width="1" height="1" fill="#4a4a4a"/>
<rect x="361" y="279" width="1" height="1" fill="#4a4a4a"/>
<rect x="333" y="274" width="1" height="1" fill="#4a4a4a"/>
<rect x="348" y="285" width="1" height="1" fill="#4a4a4a"/>
<ellipse cx="322.50" cy="280.50" rx="5.30" ry="3.80" fill="#fff" stroke="#000" stroke-width="1.1"/>
<path d="M299.4,290.3 Q322,287.5 338,290.5 Q346,295 346,301 Q345.5,308 338,311 Q322,313 299.4,311.2" fill="#fff" stroke="#111" stroke-width="0.85"/>
<path d="M299.4,294 Q302.5,297 302.5,301 Q302.5,305 299.4,307.5" fill="none" stroke="#111" stroke-width="0.75"/>
<ellipse cx="325.40" cy="300.80" rx="18.80" ry="10.90" fill="none" stroke="#000" stroke-width="1.0"/>
<ellipse cx="325.40" cy="300.80" rx="16.00" ry="10.70" fill="none" stroke="#000" stroke-width="1.0"/>
<ellipse cx="325.40" cy="300.80" rx="13.40" ry="10.50" fill="none" stroke="#000" stroke-width="1.0"/>
<ellipse cx="325.40" cy="300.80" rx="11.20" ry="10.20" fill="none" stroke="#000" stroke-width="1.0"/>
<ellipse cx="323.1" cy="300.8" rx="9.4" ry="9.8" fill="#9a9a9a"/>
<ellipse cx="323.10" cy="300.80" rx="9.40" ry="9.80" fill="none" stroke="#000" stroke-width="1.05"/>
<ellipse cx="323.10" cy="300.80" rx="7.90" ry="8.40" fill="none" stroke="#000" stroke-width="1.05"/>
<ellipse cx="323.10" cy="300.80" rx="6.40" ry="6.90" fill="none" stroke="#000" stroke-width="1.05"/>
<ellipse cx="323.10" cy="300.80" rx="5.00" ry="5.40" fill="none" stroke="#000" stroke-width="1.05"/>
<ellipse cx="323.10" cy="300.80" rx="3.60" ry="3.90" fill="none" stroke="#000" stroke-width="1.05"/>
<ellipse cx="323.10" cy="300.80" rx="2.0" ry="1.8" fill="#fff" stroke="#222" stroke-width="0.8"/>
<rect x="406" y="304" width="1" height="1" fill="#4a4a4a"/>
<rect x="416" y="298" width="1" height="1" fill="#4a4a4a"/>
<rect x="403" y="295" width="1" height="1" fill="#4a4a4a"/>
<rect x="417" y="289" width="1" height="1" fill="#4a4a4a"/>
<rect x="418" y="287" width="1" height="1" fill="#4a4a4a"/>
<rect x="410" y="293" width="1" height="1" fill="#4a4a4a"/>
<rect x="417" y="305" width="1" height="1" fill="#4a4a4a"/>
<rect x="409" y="285" width="1" height="1" fill="#4a4a4a"/>
<rect x="408" y="306" width="1" height="1" fill="#4a4a4a"/>
<rect x="411" y="287" width="1" height="1" fill="#4a4a4a"/>
<rect x="424" y="272" width="1" height="1" fill="#4a4a4a"/>
<rect x="420" y="309" width="1" height="1" fill="#4a4a4a"/>
<rect x="406" y="293" width="1" height="1" fill="#4a4a4a"/>
<rect x="413" y="316" width="1" height="1" fill="#4a4a4a"/>
<rect x="418" y="291" width="1" height="1" fill="#4a4a4a"/>
<rect x="418" y="309" width="1" height="1" fill="#4a4a4a"/>
<rect x="413" y="293" width="1" height="1" fill="#4a4a4a"/>
<rect x="411" y="284" width="1" height="1" fill="#4a4a4a"/>
<rect x="422" y="317" width="1" height="1" fill="#4a4a4a"/>
<rect x="424" y="293" width="1" height="1" fill="#4a4a4a"/>
<rect x="412" y="309" width="1" height="1" fill="#4a4a4a"/>
<rect x="410" y="308" width="1" height="1" fill="#4a4a4a"/>
<rect x="421" y="288" width="1" height="1" fill="#4a4a4a"/>
<rect x="414" y="294" width="1" height="1" fill="#4a4a4a"/>
<rect x="414" y="317" width="1" height="1" fill="#4a4a4a"/>
<rect x="406" y="290" width="1" height="1" fill="#4a4a4a"/>
<rect x="411" y="293" width="1" height="1" fill="#4a4a4a"/>
<rect x="414" y="291" width="1" height="1" fill="#4a4a4a"/>
<rect x="417" y="274" width="1" height="1" fill="#4a4a4a"/>
<rect x="410" y="301" width="1" height="1" fill="#4a4a4a"/>
<rect x="411" y="288" width="1" height="1" fill="#4a4a4a"/>
<rect x="414" y="304" width="1" height="1" fill="#4a4a4a"/>
<rect x="408" y="283" width="1" height="1" fill="#4a4a4a"/>
<rect x="424" y="295" width="1" height="1" fill="#4a4a4a"/>
<rect x="406" y="299" width="1" height="1" fill="#4a4a4a"/>
<rect x="433" y="282" width="1" height="1" fill="#4a4a4a"/>
<rect x="417" y="290" width="1" height="1" fill="#4a4a4a"/>
<rect x="414" y="292" width="1" height="1" fill="#4a4a4a"/>
<rect x="404" y="284" width="1" height="1" fill="#4a4a4a"/>
<rect x="406" y="281" width="1" height="1" fill="#4a4a4a"/>
<rect x="404" y="306" width="1" height="1" fill="#4a4a4a"/>
<rect x="415" y="291" width="1" height="1" fill="#4a4a4a"/>
<rect x="409" y="288" width="1" height="1" fill="#4a4a4a"/>
<rect x="422" y="291" width="1" height="1" fill="#4a4a4a"/>
<rect x="410" y="285" width="1" height="1" fill="#4a4a4a"/>
<rect x="403" y="301" width="1" height="1" fill="#4a4a4a"/>
<rect x="409" y="291" width="1" height="1" fill="#4a4a4a"/>
<rect x="411" y="294" width="1" height="1" fill="#4a4a4a"/>
<rect x="421" y="296" width="1" height="1" fill="#4a4a4a"/>
<rect x="410" y="302" width="1" height="1" fill="#4a4a4a"/>
<rect x="411" y="290" width="1" height="1" fill="#4a4a4a"/>
<rect x="418" y="293" width="1" height="1" fill="#4a4a4a"/>
<rect x="427" y="293" width="1" height="1" fill="#4a4a4a"/>
<rect x="409" y="298" width="1" height="1" fill="#4a4a4a"/>
<rect x="422" y="311" width="1" height="1" fill="#4a4a4a"/>
<rect x="425" y="295" width="1" height="1" fill="#4a4a4a"/>
<rect x="421" y="295" width="1" height="1" fill="#4a4a4a"/>
<rect x="419" y="288" width="1" height="1" fill="#4a4a4a"/>
<rect x="415" y="313" width="1" height="1" fill="#4a4a4a"/>
<rect x="408" y="292" width="1" height="1" fill="#4a4a4a"/>
<rect x="415" y="297" width="1" height="1" fill="#4a4a4a"/>
<rect x="413" y="292" width="1" height="1" fill="#4a4a4a"/>
<rect x="415" y="304" width="1" height="1" fill="#4a4a4a"/>
<rect x="423" y="312" width="1" height="1" fill="#4a4a4a"/>
<rect x="443" y="278" width="1" height="1" fill="#4a4a4a"/>
<rect x="407" y="311" width="1" height="1" fill="#4a4a4a"/>
<rect x="412" y="289" width="1" height="1" fill="#4a4a4a"/>
<rect x="408" y="298" width="1" height="1" fill="#4a4a4a"/>
<rect x="402" y="302" width="1" height="1" fill="#4a4a4a"/>
<rect x="427" y="286" width="1" height="1" fill="#4a4a4a"/>
<rect x="423" y="293" width="1" height="1" fill="#4a4a4a"/>
<rect x="402" y="281" width="1" height="1" fill="#4a4a4a"/>
<rect x="410" y="298" width="1" height="1" fill="#4a4a4a"/>
<rect x="413" y="298" width="1" height="1" fill="#4a4a4a"/>
<rect x="419" y="309" width="1" height="1" fill="#4a4a4a"/>
<rect x="420" y="293" width="1" height="1" fill="#4a4a4a"/>
<rect x="434" y="287" width="1" height="1" fill="#4a4a4a"/>
<rect x="417" y="292" width="1" height="1" fill="#4a4a4a"/>
<rect x="416" y="299" width="1" height="1" fill="#4a4a4a"/>
<rect x="414" y="294" width="1" height="1" fill="#4a4a4a"/>
<rect x="434" y="284" width="1" height="1" fill="#4a4a4a"/>
<rect x="409" y="286" width="1" height="1" fill="#4a4a4a"/>
<rect x="417" y="314" width="1" height="1" fill="#4a4a4a"/>
<rect x="415" y="292" width="1" height="1" fill="#4a4a4a"/>
<rect x="423" y="313" width="1" height="1" fill="#4a4a4a"/>
<rect x="404" y="291" width="1" height="1" fill="#4a4a4a"/>
<rect x="418" y="292" width="1" height="1" fill="#4a4a4a"/>
<rect x="423" y="287" width="1" height="1" fill="#4a4a4a"/>
<rect x="404" y="298" width="1" height="1" fill="#4a4a4a"/>
<rect x="406" y="286" width="1" height="1" fill="#4a4a4a"/>
<rect x="420" y="289" width="1" height="1" fill="#4a4a4a"/>
<rect x="425" y="290" width="1" height="1" fill="#4a4a4a"/>
<rect x="403" y="290" width="1" height="1" fill="#4a4a4a"/>
<rect x="419" y="289" width="1" height="1" fill="#4a4a4a"/>
<rect x="418" y="276" width="1" height="1" fill="#4a4a4a"/>
<rect x="415" y="292" width="1" height="1" fill="#4a4a4a"/>
<rect x="426" y="294" width="1" height="1" fill="#4a4a4a"/>
<rect x="407" y="292" width="1" height="1" fill="#4a4a4a"/>
<rect x="418" y="297" width="1" height="1" fill="#4a4a4a"/>
<rect x="410" y="293" width="1" height="1" fill="#4a4a4a"/>
<rect x="420" y="290" width="1" height="1" fill="#4a4a4a"/>
<rect x="409" y="288" width="1" height="1" fill="#4a4a4a"/>
<rect x="420" y="295" width="1" height="1" fill="#4a4a4a"/>
<rect x="410" y="318" width="1" height="1" fill="#4a4a4a"/>
<rect x="411" y="310" width="1" height="1" fill="#4a4a4a"/>
<rect x="424" y="293" width="1" height="1" fill="#4a4a4a"/>
<rect x="411" y="311" width="1" height="1" fill="#4a4a4a"/>
<rect x="405" y="293" width="1" height="1" fill="#4a4a4a"/>
<rect x="417" y="294" width="1" height="1" fill="#4a4a4a"/>
<rect x="425" y="276" width="1" height="1" fill="#4a4a4a"/>
<rect x="407" y="302" width="1" height="1" fill="#4a4a4a"/>
<rect x="420" y="295" width="1" height="1" fill="#4a4a4a"/>
<rect x="408" y="296" width="1" height="1" fill="#4a4a4a"/>
<rect x="420" y="287" width="1" height="1" fill="#4a4a4a"/>
<rect x="414" y="289" width="1" height="1" fill="#4a4a4a"/>
<rect x="414" y="310" width="1" height="1" fill="#4a4a4a"/>
<rect x="419" y="290" width="1" height="1" fill="#4a4a4a"/>
<rect x="427" y="291" width="1" height="1" fill="#4a4a4a"/>
<rect x="420" y="295" width="1" height="1" fill="#4a4a4a"/>
<rect x="419" y="315" width="1" height="1" fill="#4a4a4a"/>
<rect x="420" y="289" width="1" height="1" fill="#4a4a4a"/>
<rect x="425" y="294" width="1" height="1" fill="#4a4a4a"/>
<rect x="417" y="309" width="1" height="1" fill="#4a4a4a"/>
<rect x="427" y="286" width="1" height="1" fill="#4a4a4a"/>
<rect x="413" y="287" width="1" height="1" fill="#4a4a4a"/>
<rect x="431" y="279" width="1" height="1" fill="#4a4a4a"/>
<rect x="417" y="306" width="1" height="1" fill="#4a4a4a"/>
<rect x="402" y="285" width="1" height="1" fill="#4a4a4a"/>
<rect x="411" y="304" width="1" height="1" fill="#4a4a4a"/>
<rect x="422" y="286" width="1" height="1" fill="#4a4a4a"/>
<rect x="408" y="299" width="1" height="1" fill="#4a4a4a"/>
<rect x="415" y="287" width="1" height="1" fill="#4a4a4a"/>
<rect x="415" y="291" width="1" height="1" fill="#4a4a4a"/>
<rect x="415" y="296" width="1" height="1" fill="#4a4a4a"/>
<rect x="405" y="295" width="1" height="1" fill="#4a4a4a"/>
<rect x="408" y="297" width="1" height="1" fill="#4a4a4a"/>
<rect x="416" y="298" width="1" height="1" fill="#4a4a4a"/>
<rect x="405" y="295" width="1" height="1" fill="#4a4a4a"/>
<rect x="421" y="292" width="1" height="1" fill="#4a4a4a"/>
<rect x="401" y="317" width="1" height="1" fill="#4a4a4a"/>
<rect x="426" y="294" width="1" height="1" fill="#4a4a4a"/>
<rect x="417" y="287" width="1" height="1" fill="#4a4a4a"/>
<rect x="418" y="312" width="1" height="1" fill="#4a4a4a"/>
<rect x="415" y="289" width="1" height="1" fill="#4a4a4a"/>
<rect x="420" y="294" width="1" height="1" fill="#4a4a4a"/>
<rect x="413" y="291" width="1" height="1" fill="#4a4a4a"/>
<rect x="426" y="286" width="1" height="1" fill="#4a4a4a"/>
<rect x="404" y="315" width="1" height="1" fill="#4a4a4a"/>
<rect x="408" y="299" width="1" height="1" fill="#4a4a4a"/>
<rect x="411" y="296" width="1" height="1" fill="#4a4a4a"/>
<rect x="428" y="288" width="1" height="1" fill="#4a4a4a"/>
<rect x="406" y="279" width="1" height="1" fill="#4a4a4a"/>
<rect x="421" y="294" width="1" height="1" fill="#4a4a4a"/>
<rect x="419" y="297" width="1" height="1" fill="#4a4a4a"/>
<rect x="412" y="316" width="1" height="1" fill="#4a4a4a"/>
<rect x="420" y="297" width="1" height="1" fill="#4a4a4a"/>
<rect x="405" y="294" width="1" height="1" fill="#4a4a4a"/>
<rect x="429" y="292" width="1" height="1" fill="#4a4a4a"/>
<rect x="409" y="293" width="1" height="1" fill="#4a4a4a"/>
<rect x="413" y="302" width="1" height="1" fill="#4a4a4a"/>
<rect x="416" y="300" width="1" height="1" fill="#4a4a4a"/>
<rect x="442" y="317" width="1" height="1" fill="#4a4a4a"/>
<rect x="410" y="306" width="1" height="1" fill="#4a4a4a"/>
<rect x="405" y="310" width="1" height="1" fill="#4a4a4a"/>
<rect x="418" y="295" width="1" height="1" fill="#4a4a4a"/>
<rect x="406" y="319" width="1" height="1" fill="#4a4a4a"/>
<rect x="422" y="289" width="1" height="1" fill="#4a4a4a"/>
<rect x="404" y="287" width="1" height="1" fill="#4a4a4a"/>
<rect x="428" y="315" width="1" height="1" fill="#4a4a4a"/>
<rect x="426" y="293" width="1" height="1" fill="#4a4a4a"/>
<rect x="422" y="292" width="1" height="1" fill="#4a4a4a"/>
<rect x="416" y="306" width="1" height="1" fill="#4a4a4a"/>
<rect x="417" y="296" width="1" height="1" fill="#4a4a4a"/>
<rect x="427" y="289" width="1" height="1" fill="#4a4a4a"/>
<rect x="415" y="305" width="1" height="1" fill="#4a4a4a"/>
<rect x="407" y="295" width="1" height="1" fill="#4a4a4a"/>
<rect x="403" y="291" width="1" height="1" fill="#4a4a4a"/>
<rect x="409" y="282" width="1" height="1" fill="#4a4a4a"/>
<rect x="406" y="313" width="1" height="1" fill="#4a4a4a"/>
<rect x="412" y="307" width="1" height="1" fill="#4a4a4a"/>
<rect x="416" y="309" width="1" height="1" fill="#4a4a4a"/>
<rect x="402" y="289" width="1" height="1" fill="#4a4a4a"/>
<rect x="411" y="314" width="1" height="1" fill="#4a4a4a"/>
<rect x="406" y="300" width="1" height="1" fill="#4a4a4a"/>
<rect x="422" y="295" width="1" height="1" fill="#4a4a4a"/>
<rect x="418" y="292" width="1" height="1" fill="#4a4a4a"/>
<rect x="417" y="294" width="1" height="1" fill="#4a4a4a"/>
<rect x="422" y="292" width="1" height="1" fill="#4a4a4a"/>
<rect x="420" y="288" width="1" height="1" fill="#4a4a4a"/>
<rect x="411" y="299" width="1" height="1" fill="#4a4a4a"/>
<rect x="408" y="302" width="1" height="1" fill="#4a4a4a"/>
<rect x="416" y="289" width="1" height="1" fill="#4a4a4a"/>
<rect x="416" y="304" width="1" height="1" fill="#4a4a4a"/>
<rect x="412" y="284" width="1" height="1" fill="#4a4a4a"/>
<rect x="418" y="295" width="1" height="1" fill="#4a4a4a"/>
<rect x="421" y="292" width="1" height="1" fill="#4a4a4a"/>
<rect x="402" y="280" width="1" height="1" fill="#4a4a4a"/>
<rect x="406" y="296" width="1" height="1" fill="#4a4a4a"/>
<rect x="414" y="307" width="1" height="1" fill="#4a4a4a"/>
<rect x="411" y="284" width="1" height="1" fill="#4a4a4a"/>
<rect x="411" y="292" width="1" height="1" fill="#4a4a4a"/>
<rect x="414" y="307" width="1" height="1" fill="#4a4a4a"/>
<rect x="415" y="293" width="1" height="1" fill="#4a4a4a"/>
<rect x="420" y="292" width="1" height="1" fill="#4a4a4a"/>
<rect x="410" y="298" width="1" height="1" fill="#4a4a4a"/>
<rect x="425" y="289" width="1" height="1" fill="#4a4a4a"/>
<rect x="412" y="285" width="1" height="1" fill="#4a4a4a"/>
<rect x="416" y="302" width="1" height="1" fill="#4a4a4a"/>
<rect x="413" y="298" width="1" height="1" fill="#4a4a4a"/>
<rect x="413" y="293" width="1" height="1" fill="#4a4a4a"/>
<rect x="415" y="315" width="1" height="1" fill="#4a4a4a"/>
<rect x="417" y="297" width="1" height="1" fill="#4a4a4a"/>
<rect x="414" y="309" width="1" height="1" fill="#4a4a4a"/>
<rect x="405" y="286" width="1" height="1" fill="#4a4a4a"/>
<rect x="417" y="311" width="1" height="1" fill="#4a4a4a"/>
<rect x="420" y="309" width="1" height="1" fill="#4a4a4a"/>
<rect x="410" y="307" width="1" height="1" fill="#4a4a4a"/>
<rect x="428" y="293" width="1" height="1" fill="#4a4a4a"/>
<rect x="408" y="298" width="1" height="1" fill="#4a4a4a"/>
<rect x="404" y="286" width="1" height="1" fill="#4a4a4a"/>
<rect x="423" y="295" width="1" height="1" fill="#4a4a4a"/>
<rect x="411" y="297" width="1" height="1" fill="#4a4a4a"/>
<rect x="408" y="296" width="1" height="1" fill="#4a4a4a"/>
<rect x="417" y="311" width="1" height="1" fill="#4a4a4a"/>
<rect x="413" y="309" width="1" height="1" fill="#4a4a4a"/>
<rect x="415" y="301" width="1" height="1" fill="#4a4a4a"/>
<rect x="419" y="308" width="1" height="1" fill="#4a4a4a"/>
<rect x="419" y="288" width="1" height="1" fill="#4a4a4a"/>
<rect x="414" y="301" width="1" height="1" fill="#4a4a4a"/>
<rect x="406" y="298" width="1" height="1" fill="#4a4a4a"/>
<rect x="404" y="310" width="1" height="1" fill="#4a4a4a"/>
<rect x="403" y="296" width="1" height="1" fill="#4a4a4a"/>
<rect x="423" y="317" width="1" height="1" fill="#4a4a4a"/>
<rect x="412" y="307" width="1" height="1" fill="#4a4a4a"/>
<rect x="411" y="305" width="1" height="1" fill="#4a4a4a"/>
<rect x="415" y="295" width="1" height="1" fill="#4a4a4a"/>
<rect x="411" y="304" width="1" height="1" fill="#4a4a4a"/>
<rect x="427" y="286" width="1" height="1" fill="#4a4a4a"/>
<rect x="407" y="306" width="1" height="1" fill="#4a4a4a"/>
<rect x="410" y="299" width="1" height="1" fill="#4a4a4a"/>
<rect x="410" y="283" width="1" height="1" fill="#4a4a4a"/>
<rect x="413" y="310" width="1" height="1" fill="#4a4a4a"/>
<rect x="412" y="297" width="1" height="1" fill="#4a4a4a"/>
<rect x="424" y="288" width="1" height="1" fill="#4a4a4a"/>
<rect x="418" y="292" width="1" height="1" fill="#4a4a4a"/>
<rect x="416" y="293" width="1" height="1" fill="#4a4a4a"/>
<rect x="407" y="301" width="1" height="1" fill="#4a4a4a"/>
<rect x="429" y="279" width="1" height="1" fill="#4a4a4a"/>
<rect x="427" y="276" width="1" height="1" fill="#4a4a4a"/>
<rect x="432" y="280" width="1" height="1" fill="#4a4a4a"/>
<rect x="425" y="286" width="1" height="1" fill="#4a4a4a"/>
<rect x="425" y="290" width="1" height="1" fill="#4a4a4a"/>
<rect x="431" y="281" width="1" height="1" fill="#4a4a4a"/>
<rect x="424" y="276" width="1" height="1" fill="#4a4a4a"/>
<rect x="411" y="278" width="1" height="1" fill="#4a4a4a"/>
<rect x="414" y="277" width="1" height="1" fill="#4a4a4a"/>
<rect x="429" y="286" width="1" height="1" fill="#4a4a4a"/>
<rect x="412" y="276" width="1" height="1" fill="#4a4a4a"/>
<rect x="423" y="276" width="1" height="1" fill="#4a4a4a"/>
<rect x="416" y="286" width="1" height="1" fill="#4a4a4a"/>
<rect x="427" y="285" width="1" height="1" fill="#4a4a4a"/>
<rect x="427" y="278" width="1" height="1" fill="#4a4a4a"/>
<rect x="415" y="276" width="1" height="1" fill="#4a4a4a"/>
<rect x="432" y="278" width="1" height="1" fill="#4a4a4a"/>
<rect x="427" y="276" width="1" height="1" fill="#4a4a4a"/>
<rect x="423" y="288" width="1" height="1" fill="#4a4a4a"/>
<rect x="411" y="287" width="1" height="1" fill="#4a4a4a"/>
<rect x="408" y="282" width="1" height="1" fill="#4a4a4a"/>
<rect x="431" y="281" width="1" height="1" fill="#4a4a4a"/>
<rect x="429" y="276" width="1" height="1" fill="#4a4a4a"/>
<rect x="430" y="280" width="1" height="1" fill="#4a4a4a"/>
<rect x="436" y="277" width="1" height="1" fill="#4a4a4a"/>
<rect x="419" y="286" width="1" height="1" fill="#4a4a4a"/>
<rect x="415" y="276" width="1" height="1" fill="#4a4a4a"/>
<rect x="431" y="279" width="1" height="1" fill="#4a4a4a"/>
<rect x="411" y="279" width="1" height="1" fill="#4a4a4a"/>
<rect x="430" y="283" width="1" height="1" fill="#4a4a4a"/>
<rect x="411" y="283" width="1" height="1" fill="#4a4a4a"/>
<rect x="424" y="277" width="1" height="1" fill="#4a4a4a"/>
<rect x="404" y="283" width="1" height="1" fill="#4a4a4a"/>
<rect x="405" y="284" width="1" height="1" fill="#4a4a4a"/>
<rect x="409" y="279" width="1" height="1" fill="#4a4a4a"/>
<rect x="410" y="284" width="1" height="1" fill="#4a4a4a"/>
<rect x="432" y="283" width="1" height="1" fill="#4a4a4a"/>
<rect x="430" y="285" width="1" height="1" fill="#4a4a4a"/>
<rect x="428" y="285" width="1" height="1" fill="#4a4a4a"/>
<rect x="427" y="274" width="1" height="1" fill="#4a4a4a"/>
<rect x="406" y="279" width="1" height="1" fill="#4a4a4a"/>
<rect x="426" y="285" width="1" height="1" fill="#4a4a4a"/>
<rect x="406" y="277" width="1" height="1" fill="#4a4a4a"/>
<rect x="414" y="277" width="1" height="1" fill="#4a4a4a"/>
<rect x="423" y="286" width="1" height="1" fill="#4a4a4a"/>
<rect x="407" y="284" width="1" height="1" fill="#4a4a4a"/>
<rect x="406" y="277" width="1" height="1" fill="#4a4a4a"/>
<rect x="419" y="288" width="1" height="1" fill="#4a4a4a"/>
<rect x="411" y="284" width="1" height="1" fill="#4a4a4a"/>
<rect x="429" y="279" width="1" height="1" fill="#4a4a4a"/>
<rect x="432" y="282" width="1" height="1" fill="#4a4a4a"/>
<rect x="432" y="282" width="1" height="1" fill="#4a4a4a"/>
<rect x="430" y="288" width="1" height="1" fill="#4a4a4a"/>
<rect x="432" y="282" width="1" height="1" fill="#4a4a4a"/>
<rect x="412" y="278" width="1" height="1" fill="#4a4a4a"/>
<rect x="428" y="279" width="1" height="1" fill="#4a4a4a"/>
<rect x="410" y="277" width="1" height="1" fill="#4a4a4a"/>
<rect x="418" y="286" width="1" height="1" fill="#4a4a4a"/>
<rect x="429" y="277" width="1" height="1" fill="#4a4a4a"/>
<rect x="415" y="276" width="1" height="1" fill="#4a4a4a"/>
<rect x="431" y="279" width="1" height="1" fill="#4a4a4a"/>
<rect x="412" y="279" width="1" height="1" fill="#4a4a4a"/>
<rect x="414" y="288" width="1" height="1" fill="#4a4a4a"/>
<rect x="431" y="286" width="1" height="1" fill="#4a4a4a"/>
<rect x="421" y="286" width="1" height="1" fill="#4a4a4a"/>
<rect x="428" y="284" width="1" height="1" fill="#4a4a4a"/>
<rect x="420" y="275" width="1" height="1" fill="#4a4a4a"/>
<rect x="418" y="288" width="1" height="1" fill="#4a4a4a"/>
<rect x="428" y="274" width="1" height="1" fill="#4a4a4a"/>
<rect x="428" y="275" width="1" height="1" fill="#4a4a4a"/>
<rect x="430" y="279" width="1" height="1" fill="#4a4a4a"/>
<rect x="411" y="277" width="1" height="1" fill="#4a4a4a"/>
<rect x="412" y="285" width="1" height="1" fill="#4a4a4a"/>
<rect x="411" y="279" width="1" height="1" fill="#4a4a4a"/>
<rect x="430" y="276" width="1" height="1" fill="#4a4a4a"/>
<rect x="418" y="276" width="1" height="1" fill="#4a4a4a"/>
<rect x="413" y="285" width="1" height="1" fill="#4a4a4a"/>
<rect x="409" y="283" width="1" height="1" fill="#4a4a4a"/>
<rect x="407" y="280" width="1" height="1" fill="#4a4a4a"/>
<rect x="408" y="277" width="1" height="1" fill="#4a4a4a"/>
<rect x="409" y="279" width="1" height="1" fill="#4a4a4a"/>
<rect x="411" y="279" width="1" height="1" fill="#4a4a4a"/>
<rect x="409" y="283" width="1" height="1" fill="#4a4a4a"/>
<rect x="430" y="277" width="1" height="1" fill="#4a4a4a"/>
<rect x="411" y="279" width="1" height="1" fill="#4a4a4a"/>
<rect x="408" y="280" width="1" height="1" fill="#4a4a4a"/>
<rect x="423" y="276" width="1" height="1" fill="#4a4a4a"/>
<rect x="429" y="283" width="1" height="1" fill="#4a4a4a"/>
<rect x="424" y="287" width="1" height="1" fill="#4a4a4a"/>
<rect x="425" y="287" width="1" height="1" fill="#4a4a4a"/>
<rect x="426" y="286" width="1" height="1" fill="#4a4a4a"/>
<rect x="411" y="276" width="1" height="1" fill="#4a4a4a"/>
<rect x="407" y="282" width="1" height="1" fill="#4a4a4a"/>
<rect x="412" y="278" width="1" height="1" fill="#4a4a4a"/>
<rect x="415" y="275" width="1" height="1" fill="#4a4a4a"/>
<rect x="422" y="286" width="1" height="1" fill="#4a4a4a"/>
<rect x="435" y="280" width="1" height="1" fill="#4a4a4a"/>
<rect x="408" y="276" width="1" height="1" fill="#4a4a4a"/>
<rect x="417" y="286" width="1" height="1" fill="#4a4a4a"/>
<rect x="409" y="286" width="1" height="1" fill="#4a4a4a"/>
<rect x="418" y="275" width="1" height="1" fill="#4a4a4a"/>
<rect x="428" y="290" width="1" height="1" fill="#4a4a4a"/>
<rect x="407" y="281" width="1" height="1" fill="#4a4a4a"/>
<rect x="432" y="281" width="1" height="1" fill="#4a4a4a"/>
<rect x="431" y="284" width="1" height="1" fill="#4a4a4a"/>
<rect x="435" y="282" width="1" height="1" fill="#4a4a4a"/>
<rect x="410" y="277" width="1" height="1" fill="#4a4a4a"/>
<rect x="423" y="274" width="1" height="1" fill="#4a4a4a"/>
<rect x="411" y="277" width="1" height="1" fill="#4a4a4a"/>
<rect x="410" y="276" width="1" height="1" fill="#4a4a4a"/>
<rect x="410" y="279" width="1" height="1" fill="#4a4a4a"/>
<rect x="430" y="284" width="1" height="1" fill="#4a4a4a"/>
<rect x="407" y="284" width="1" height="1" fill="#4a4a4a"/>
<rect x="432" y="280" width="1" height="1" fill="#4a4a4a"/>
<rect x="410" y="281" width="1" height="1" fill="#4a4a4a"/>
<rect x="412" y="286" width="1" height="1" fill="#4a4a4a"/>
<rect x="427" y="288" width="1" height="1" fill="#4a4a4a"/>
<rect x="417" y="275" width="1" height="1" fill="#4a4a4a"/>
<rect x="434" y="281" width="1" height="1" fill="#4a4a4a"/>
<rect x="428" y="284" width="1" height="1" fill="#4a4a4a"/>
<rect x="448" y="275" width="1" height="1" fill="#4a4a4a"/>
<rect x="458" y="280" width="1" height="1" fill="#4a4a4a"/>
<rect x="454" y="279" width="1" height="1" fill="#4a4a4a"/>
<rect x="463" y="285" width="1" height="1" fill="#4a4a4a"/>
<rect x="447" y="276" width="1" height="1" fill="#4a4a4a"/>
<rect x="448" y="273" width="1" height="1" fill="#4a4a4a"/>
<rect x="444" y="279" width="1" height="1" fill="#4a4a4a"/>
<rect x="445" y="291" width="1" height="1" fill="#4a4a4a"/>
<rect x="447" y="282" width="1" height="1" fill="#4a4a4a"/>
<rect x="468" y="284" width="1" height="1" fill="#4a4a4a"/>
<rect x="449" y="279" width="1" height="1" fill="#4a4a4a"/>
<rect x="440" y="282" width="1" height="1" fill="#4a4a4a"/>
<rect x="459" y="284" width="1" height="1" fill="#4a4a4a"/>
<rect x="466" y="276" width="1" height="1" fill="#4a4a4a"/>
<rect x="460" y="282" width="1" height="1" fill="#4a4a4a"/>
<rect x="470" y="272" width="1" height="1" fill="#4a4a4a"/>
<rect x="456" y="284" width="1" height="1" fill="#4a4a4a"/>
<rect x="443" y="290" width="1" height="1" fill="#4a4a4a"/>
<rect x="450" y="281" width="1" height="1" fill="#4a4a4a"/>
<rect x="461" y="282" width="1" height="1" fill="#4a4a4a"/>
<rect x="438" y="281" width="1" height="1" fill="#4a4a4a"/>
<rect x="443" y="286" width="1" height="1" fill="#4a4a4a"/>
<rect x="444" y="287" width="1" height="1" fill="#4a4a4a"/>
<rect x="442" y="277" width="1" height="1" fill="#4a4a4a"/>
<rect x="462" y="276" width="1" height="1" fill="#4a4a4a"/>
<rect x="450" y="269" width="1" height="1" fill="#4a4a4a"/>
<rect x="440" y="283" width="1" height="1" fill="#4a4a4a"/>
<rect x="446" y="284" width="1" height="1" fill="#4a4a4a"/>
<rect x="460" y="283" width="1" height="1" fill="#4a4a4a"/>
<rect x="455" y="286" width="1" height="1" fill="#4a4a4a"/>
<rect x="466" y="284" width="1" height="1" fill="#4a4a4a"/>
<rect x="450" y="283" width="1" height="1" fill="#4a4a4a"/>
<rect x="454" y="288" width="1" height="1" fill="#4a4a4a"/>
<rect x="456" y="267" width="1" height="1" fill="#4a4a4a"/>
<rect x="454" y="276" width="1" height="1" fill="#4a4a4a"/>
<rect x="432" y="272" width="1" height="1" fill="#4a4a4a"/>
<rect x="437" y="281" width="1" height="1" fill="#4a4a4a"/>
<rect x="443" y="278" width="1" height="1" fill="#4a4a4a"/>
<rect x="463" y="294" width="1" height="1" fill="#4a4a4a"/>
<rect x="471" y="279" width="1" height="1" fill="#4a4a4a"/>
<rect x="453" y="272" width="1" height="1" fill="#4a4a4a"/>
<rect x="453" y="282" width="1" height="1" fill="#4a4a4a"/>
<rect x="469" y="287" width="1" height="1" fill="#4a4a4a"/>
<rect x="457" y="286" width="1" height="1" fill="#4a4a4a"/>
<rect x="466" y="281" width="1" height="1" fill="#4a4a4a"/>
<rect x="443" y="280" width="1" height="1" fill="#4a4a4a"/>
<rect x="436" y="283" width="1" height="1" fill="#4a4a4a"/>
<rect x="409" y="273" width="1" height="1" fill="#4a4a4a"/>
<rect x="490" y="276" width="1" height="1" fill="#4a4a4a"/>
<rect x="456" y="284" width="1" height="1" fill="#4a4a4a"/>
<rect x="457" y="281" width="1" height="1" fill="#4a4a4a"/>
<rect x="447" y="285" width="1" height="1" fill="#4a4a4a"/>
<rect x="453" y="279" width="1" height="1" fill="#4a4a4a"/>
<rect x="450" y="282" width="1" height="1" fill="#4a4a4a"/>
<rect x="474" y="280" width="1" height="1" fill="#4a4a4a"/>
<rect x="454" y="275" width="1" height="1" fill="#4a4a4a"/>
<rect x="442" y="274" width="1" height="1" fill="#4a4a4a"/>
<rect x="447" y="289" width="1" height="1" fill="#4a4a4a"/>
<rect x="433" y="283" width="1" height="1" fill="#4a4a4a"/>
<rect x="475" y="286" width="1" height="1" fill="#4a4a4a"/>
<rect x="456" y="279" width="1" height="1" fill="#4a4a4a"/>
<rect x="452" y="278" width="1" height="1" fill="#4a4a4a"/>
<rect x="448" y="289" width="1" height="1" fill="#4a4a4a"/>
<rect x="447" y="289" width="1" height="1" fill="#4a4a4a"/>
<rect x="423" y="273" width="1" height="1" fill="#4a4a4a"/>
<rect x="459" y="277" width="1" height="1" fill="#4a4a4a"/>
<rect x="453" y="289" width="1" height="1" fill="#4a4a4a"/>
<rect x="465" y="291" width="1" height="1" fill="#4a4a4a"/>
<rect x="443" y="280" width="1" height="1" fill="#4a4a4a"/>
<rect x="466" y="279" width="1" height="1" fill="#4a4a4a"/>
<rect x="462" y="283" width="1" height="1" fill="#4a4a4a"/>
<rect x="451" y="276" width="1" height="1" fill="#4a4a4a"/>
<rect x="454" y="289" width="1" height="1" fill="#4a4a4a"/>
<rect x="469" y="283" width="1" height="1" fill="#4a4a4a"/>
<rect x="465" y="283" width="1" height="1" fill="#4a4a4a"/>
<rect x="470" y="275" width="1" height="1" fill="#4a4a4a"/>
<rect x="460" y="274" width="1" height="1" fill="#4a4a4a"/>
<rect x="462" y="280" width="1" height="1" fill="#4a4a4a"/>
<rect x="450" y="278" width="1" height="1" fill="#4a4a4a"/>
<rect x="452" y="279" width="1" height="1" fill="#4a4a4a"/>
<rect x="482" y="273" width="1" height="1" fill="#4a4a4a"/>
<rect x="455" y="288" width="1" height="1" fill="#4a4a4a"/>
<rect x="479" y="305" width="1" height="1" fill="#4a4a4a"/>
<rect x="476" y="303" width="1" height="1" fill="#4a4a4a"/>
<rect x="475" y="315" width="1" height="1" fill="#4a4a4a"/>
<rect x="474" y="301" width="1" height="1" fill="#4a4a4a"/>
<rect x="468" y="312" width="1" height="1" fill="#4a4a4a"/>
<rect x="476" y="306" width="1" height="1" fill="#4a4a4a"/>
<rect x="475" y="304" width="1" height="1" fill="#4a4a4a"/>
<rect x="479" y="305" width="1" height="1" fill="#4a4a4a"/>
<rect x="474" y="306" width="1" height="1" fill="#4a4a4a"/>
<rect x="475" y="294" width="1" height="1" fill="#4a4a4a"/>
<rect x="473" y="294" width="1" height="1" fill="#4a4a4a"/>
<rect x="475" y="294" width="1" height="1" fill="#4a4a4a"/>
<rect x="472" y="292" width="1" height="1" fill="#4a4a4a"/>
<rect x="478" y="290" width="1" height="1" fill="#4a4a4a"/>
<rect x="472" y="313" width="1" height="1" fill="#4a4a4a"/>
<rect x="473" y="303" width="1" height="1" fill="#4a4a4a"/>
<rect x="473" y="309" width="1" height="1" fill="#4a4a4a"/>
<rect x="478" y="302" width="1" height="1" fill="#4a4a4a"/>
<rect x="480" y="294" width="1" height="1" fill="#4a4a4a"/>
<rect x="472" y="298" width="1" height="1" fill="#4a4a4a"/>
<rect x="475" y="299" width="1" height="1" fill="#4a4a4a"/>
<rect x="480" y="306" width="1" height="1" fill="#4a4a4a"/>
<rect x="472" y="299" width="1" height="1" fill="#4a4a4a"/>
<rect x="478" y="294" width="1" height="1" fill="#4a4a4a"/>
<rect x="476" y="302" width="1" height="1" fill="#4a4a4a"/>
<path d="M410.5,281.5 Q413,277 420,276.6 Q428,277 429.8,281 Q428,285 420,285.6 Q413,285.5 410.5,281.5 Z" fill="#fff" stroke="#111" stroke-width="1.0"/>
<ellipse cx="420.30" cy="281.00" rx="5.20" ry="2.60" fill="none" stroke="#000" stroke-width="0.85"/>
<ellipse cx="420.30" cy="281.00" rx="2.40" ry="1.30" fill="none" stroke="#000" stroke-width="0.85"/>
<path d="M417.5,303.5 Q418,298 426,297 Q436,296.5 446,292.5 Q458,290.5 466,291.8 Q471.5,294 471.5,302 Q471,311 460,313.2 Q445,313.8 428,311 Q418,309.5 417.5,303.5 Z" fill="#fff" stroke="#111" stroke-width="0.85"/>
<path d="M436.6,303.5 Q440,297 446,293.5 M436.6,303.5 Q440,310 446,312.5" fill="none" stroke="#111" stroke-width="0.8"/>
<ellipse cx="455.70" cy="303.50" rx="15.50" ry="10.10" fill="none" stroke="#000" stroke-width="1.0"/>
<ellipse cx="455.70" cy="303.50" rx="13.70" ry="9.40" fill="none" stroke="#000" stroke-width="1.0"/>
<ellipse cx="455.70" cy="303.50" rx="11.90" ry="8.60" fill="none" stroke="#000" stroke-width="1.0"/>
<ellipse cx="455.70" cy="303.50" rx="10.10" ry="7.60" fill="none" stroke="#000" stroke-width="1.0"/>
<ellipse cx="455.70" cy="303.50" rx="8.30" ry="6.40" fill="none" stroke="#000" stroke-width="1.0"/>
<ellipse cx="455.70" cy="303.50" rx="6.50" ry="5.10" fill="none" stroke="#000" stroke-width="1.0"/>
<ellipse cx="455.70" cy="303.50" rx="4.70" ry="3.70" fill="none" stroke="#000" stroke-width="1.0"/>
<ellipse cx="455.70" cy="303.50" rx="3.20" ry="2.50" fill="none" stroke="#000" stroke-width="1.0"/>
<ellipse cx="455.70" cy="303.50" rx="2.3" ry="1.4" fill="#fff" stroke="#222" stroke-width="0.8"/>
<text x="-348.77" y="86.10" font-family="Liberation Sans" font-size="9.88" font-weight="normal" fill="#111" textLength="23.47" lengthAdjust="spacingAndGlyphs" transform="rotate(-90)" stroke="#111" stroke-width="0.3">CD56</text>
<line x1="83.00" y1="266.00" x2="83.00" y2="320.80" stroke="#222" stroke-width="1.1" />
<path d="M79.6,268.4 L83.0,261 L86.6,268.4 Z" fill="#000"/>
<text x="98.54" y="367.90" font-family="Liberation Sans" font-size="9.45" font-weight="normal" fill="#111" textLength="28.11" lengthAdjust="spacingAndGlyphs" stroke="#111" stroke-width="0.12">CD137</text>
<line x1="129.50" y1="365.40" x2="484.00" y2="365.40" stroke="#222" stroke-width="1.1" />
<path d="M482.5,361.9 L489.7,365.4 L482.5,368.9 Z" fill="#000"/>
<rect x="95.4" y="256.7" width="93.6" height="93.30000000000001" fill="none" stroke="#3a3a3a" stroke-width="1"/>
<rect x="197.2" y="256.7" width="93.6" height="93.30000000000001" fill="none" stroke="#3a3a3a" stroke-width="1"/>
<rect x="298.8" y="256.7" width="93.6" height="93.30000000000001" fill="none" stroke="#3a3a3a" stroke-width="1"/>
<rect x="400.0" y="256.7" width="93.6" height="93.30000000000001" fill="none" stroke="#3a3a3a" stroke-width="1"/></svg>
</body></html>
